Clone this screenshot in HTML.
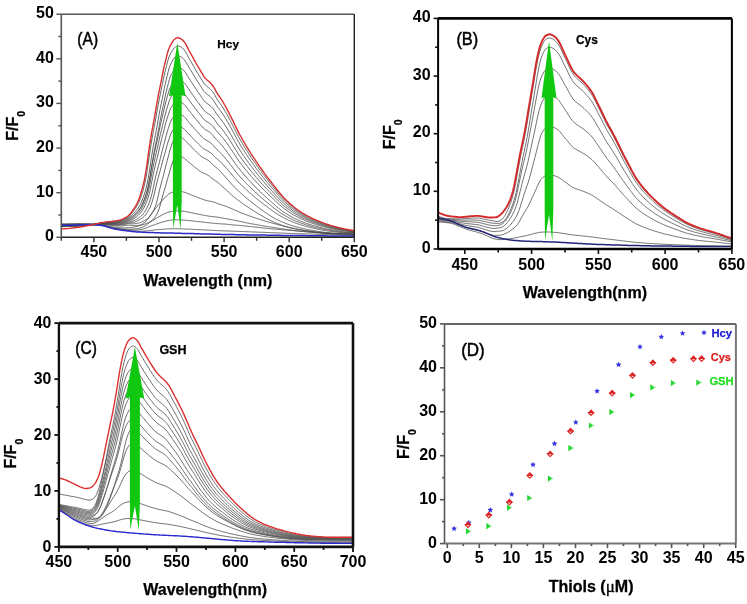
<!DOCTYPE html>
<html><head><meta charset="utf-8"><style>
html,body{margin:0;padding:0;background:#fff;width:747px;height:604px;overflow:hidden}
svg{display:block;filter:blur(0.3px)}
text{font-family:"Liberation Sans",sans-serif}
</style></head><body>
<svg width="747" height="604" viewBox="0 0 747 604" font-family="Liberation Sans, sans-serif">
<defs>
<clipPath id="clipA"><rect x="61.3" y="14.2" width="293.0" height="223.1"/></clipPath>
<clipPath id="clipB"><rect x="438.1" y="18.4" width="293.8" height="230.6"/></clipPath>
<clipPath id="clipC"><rect x="58.9" y="323.1" width="294.1" height="223.8"/></clipPath>
</defs>
<rect width="747" height="604" fill="#fff"/>
<g clip-path="url(#clipA)">
<path d="M61.3 224.0L62.3 224.0L63.3 224.0L64.3 224.0L65.3 224.0L66.3 224.0L67.3 223.9L68.3 223.9L69.3 223.9L70.3 223.9L71.3 223.9L72.3 223.9L73.3 223.9L74.3 223.9L75.3 223.9L76.3 223.8L77.3 223.8L78.3 223.8L79.3 223.8L80.3 223.9L81.3 223.9L82.3 223.9L83.3 223.9L84.3 223.9L85.3 223.9L86.3 224.0L87.3 224.0L88.3 224.0L89.3 224.1L90.3 224.1L91.3 224.2L92.3 224.3L93.3 224.2L94.3 224.1L95.3 223.9L96.3 223.7L97.3 223.6L98.3 223.4L99.3 223.2L100.3 223.0L101.3 222.8L102.3 222.7L103.3 222.5L104.3 222.4L105.3 222.3L106.3 222.2L107.3 222.1L108.3 222.0L109.3 221.9L110.3 221.8L111.3 221.7L112.3 221.6L113.3 221.5L114.3 221.4L115.3 221.3L116.3 221.2L117.3 221.0L118.3 220.8L119.3 220.6L120.3 220.4L121.3 220.0L122.3 219.7L123.3 219.2L124.3 218.8L125.3 218.3L126.3 217.7L127.3 217.1L128.3 216.4L129.3 215.6L130.3 214.8L131.3 213.8L132.3 212.6L133.3 211.3L134.3 209.9L135.3 208.5L136.3 207.0L137.3 205.4L138.3 203.5L139.3 201.3L140.3 198.7L141.3 195.8L142.3 192.8L143.3 189.4L144.3 185.5L145.3 181.1L146.3 175.8L147.3 169.7L148.3 163.0L149.3 155.7L150.3 149.1L151.3 142.9L152.3 137.1L153.3 131.7L154.3 126.5L155.3 121.2L156.3 115.6L157.3 109.8L158.3 104.3L159.3 99.2L160.3 94.4L161.3 89.5L162.3 84.6L163.3 79.6L164.3 74.8L165.3 70.6L166.3 66.8L167.3 62.8L168.3 59.1L169.3 56.3L170.3 54.1L171.3 52.3L172.3 50.5L173.3 49.0L174.3 47.9L175.3 47.0L176.3 46.3L177.3 46.0L178.3 46.1L179.3 46.4L180.3 46.7L181.3 47.2L182.3 47.9L183.3 48.9L184.3 50.1L185.3 51.5L186.3 53.2L187.3 55.1L188.3 57.0L189.3 58.7L190.3 60.5L191.3 62.2L192.3 63.9L193.3 65.7L194.3 67.4L195.3 69.2L196.3 70.9L197.3 72.5L198.3 74.2L199.3 75.7L200.3 77.3L201.3 79.0L202.3 80.7L203.3 82.4L204.3 83.8L205.3 85.0L206.3 85.9L207.3 86.7L208.3 87.5L209.3 88.3L210.3 89.2L211.3 90.2L212.3 91.4L213.3 92.7L214.3 94.3L215.3 96.0L216.3 97.8L217.3 99.4L218.3 100.9L219.3 102.3L220.3 103.7L221.3 105.1L222.3 106.6L223.3 108.1L224.3 109.8L225.3 111.5L226.3 113.3L227.3 115.1L228.3 116.9L229.3 118.7L230.3 120.6L231.3 122.6L232.3 124.5L233.3 126.4L234.3 128.4L235.3 130.4L236.3 132.4L237.3 134.4L238.3 136.3L239.3 138.1L240.3 139.9L241.3 141.6L242.3 143.3L243.3 145.0L244.3 146.6L245.3 148.2L246.3 149.8L247.3 151.4L248.3 153.0L249.3 154.5L250.3 156.0L251.3 157.5L252.3 159.0L253.3 160.5L254.3 161.9L255.3 163.4L256.3 164.8L257.3 166.2L258.3 167.6L259.3 169.0L260.3 170.4L261.3 171.7L262.3 173.1L263.3 174.4L264.3 175.7L265.3 177.0L266.3 178.3L267.3 179.5L268.3 180.8L269.3 182.1L270.3 183.3L271.3 184.5L272.3 185.8L273.3 187.0L274.3 188.2L275.3 189.5L276.3 190.7L277.3 191.9L278.3 193.1L279.3 194.3L280.3 195.4L281.3 196.6L282.3 197.7L283.3 198.7L284.3 199.8L285.3 200.8L286.3 201.7L287.3 202.6L288.3 203.5L289.3 204.4L290.3 205.2L291.3 206.1L292.3 206.9L293.3 207.7L294.3 208.5L295.3 209.2L296.3 210.0L297.3 210.7L298.3 211.4L299.3 212.1L300.3 212.7L301.3 213.3L302.3 213.9L303.3 214.5L304.3 215.1L305.3 215.6L306.3 216.2L307.3 216.7L308.3 217.2L309.3 217.7L310.3 218.2L311.3 218.6L312.3 219.1L313.3 219.5L314.3 220.0L315.3 220.4L316.3 220.8L317.3 221.2L318.3 221.6L319.3 222.0L320.3 222.4L321.3 222.7L322.3 223.1L323.3 223.5L324.3 223.8L325.3 224.2L326.3 224.5L327.3 224.8L328.3 225.2L329.3 225.5L330.3 225.8L331.3 226.1L332.3 226.3L333.3 226.6L334.3 226.9L335.3 227.1L336.3 227.4L337.3 227.6L338.3 227.8L339.3 228.1L340.3 228.3L341.3 228.5L342.3 228.7L343.3 229.0L344.3 229.2L345.3 229.4L346.3 229.6L347.3 229.7L348.3 229.9L349.3 230.1L350.3 230.3L351.3 230.4L352.3 230.6L353.3 230.7L354.3 230.8" fill="none" stroke="#4c4c4c" stroke-width="0.85"/>
<path d="M61.3 224.2L62.3 224.2L63.3 224.2L64.3 224.2L65.3 224.2L66.3 224.2L67.3 224.1L68.3 224.1L69.3 224.1L70.3 224.1L71.3 224.1L72.3 224.1L73.3 224.1L74.3 224.1L75.3 224.0L76.3 224.0L77.3 224.0L78.3 224.0L79.3 224.0L80.3 224.0L81.3 224.0L82.3 224.0L83.3 224.0L84.3 224.1L85.3 224.1L86.3 224.1L87.3 224.1L88.3 224.1L89.3 224.2L90.3 224.2L91.3 224.3L92.3 224.3L93.3 224.3L94.3 224.1L95.3 224.0L96.3 223.8L97.3 223.6L98.3 223.5L99.3 223.3L100.3 223.1L101.3 223.0L102.3 222.8L103.3 222.7L104.3 222.6L105.3 222.5L106.3 222.4L107.3 222.3L108.3 222.3L109.3 222.2L110.3 222.1L111.3 222.1L112.3 222.0L113.3 221.9L114.3 221.8L115.3 221.7L116.3 221.6L117.3 221.4L118.3 221.3L119.3 221.1L120.3 220.9L121.3 220.6L122.3 220.2L123.3 219.8L124.3 219.4L125.3 218.9L126.3 218.4L127.3 217.8L128.3 217.2L129.3 216.8L130.3 216.2L131.3 215.6L132.3 214.8L133.3 213.8L134.3 212.8L135.3 211.6L136.3 210.4L137.3 209.2L138.3 207.8L139.3 206.3L140.3 204.5L141.3 202.3L142.3 199.9L143.3 197.2L144.3 194.3L145.3 191.1L146.3 187.4L147.3 183.0L148.3 177.9L149.3 172.0L150.3 165.3L151.3 158.4L152.3 152.1L153.3 146.2L154.3 140.6L155.3 135.4L156.3 130.3L157.3 124.9L158.3 119.2L159.3 113.5L160.3 108.3L161.3 103.3L162.3 98.5L163.3 93.5L164.3 88.5L165.3 83.6L166.3 79.3L167.3 75.3L168.3 71.2L169.3 67.5L170.3 64.9L171.3 62.8L172.3 61.0L173.3 59.3L174.3 57.9L175.3 57.0L176.3 56.2L177.3 55.8L178.3 55.9L179.3 56.2L180.3 56.5L181.3 57.0L182.3 57.7L183.3 58.6L184.3 59.8L185.3 61.1L186.3 62.7L187.3 64.5L188.3 66.2L189.3 67.9L190.3 69.5L191.3 71.2L192.3 72.8L193.3 74.5L194.3 76.2L195.3 77.8L196.3 79.4L197.3 81.0L198.3 82.5L199.3 84.0L200.3 85.6L201.3 87.2L202.3 88.8L203.3 90.3L204.3 91.7L205.3 92.8L206.3 93.7L207.3 94.4L208.3 95.2L209.3 95.9L210.3 96.8L211.3 97.8L212.3 98.9L213.3 100.1L214.3 101.6L215.3 103.3L216.3 105.0L217.3 106.5L218.3 107.9L219.3 109.2L220.3 110.5L221.3 111.9L222.3 113.3L223.3 114.8L224.3 116.3L225.3 118.0L226.3 119.6L227.3 121.3L228.3 123.0L229.3 124.8L230.3 126.6L231.3 128.4L232.3 130.3L233.3 132.1L234.3 134.0L235.3 135.9L236.3 137.8L237.3 139.6L238.3 141.5L239.3 143.2L240.3 144.9L241.3 146.5L242.3 148.1L243.3 149.7L244.3 151.2L245.3 152.8L246.3 154.3L247.3 155.8L248.3 157.3L249.3 158.7L250.3 160.2L251.3 161.6L252.3 163.0L253.3 164.4L254.3 165.8L255.3 167.1L256.3 168.5L257.3 169.8L258.3 171.2L259.3 172.5L260.3 173.8L261.3 175.1L262.3 176.3L263.3 177.6L264.3 178.8L265.3 180.0L266.3 181.3L267.3 182.5L268.3 183.7L269.3 184.8L270.3 186.0L271.3 187.2L272.3 188.4L273.3 189.5L274.3 190.7L275.3 191.9L276.3 193.0L277.3 194.2L278.3 195.3L279.3 196.4L280.3 197.5L281.3 198.6L282.3 199.6L283.3 200.7L284.3 201.6L285.3 202.6L286.3 203.5L287.3 204.3L288.3 205.2L289.3 206.0L290.3 206.8L291.3 207.6L292.3 208.4L293.3 209.2L294.3 209.9L295.3 210.6L296.3 211.3L297.3 212.0L298.3 212.6L299.3 213.3L300.3 213.9L301.3 214.5L302.3 215.1L303.3 215.6L304.3 216.1L305.3 216.7L306.3 217.2L307.3 217.7L308.3 218.2L309.3 218.6L310.3 219.1L311.3 219.5L312.3 220.0L313.3 220.4L314.3 220.8L315.3 221.2L316.3 221.6L317.3 222.0L318.3 222.3L319.3 222.7L320.3 223.1L321.3 223.4L322.3 223.8L323.3 224.1L324.3 224.5L325.3 224.8L326.3 225.1L327.3 225.4L328.3 225.7L329.3 226.0L330.3 226.3L331.3 226.6L332.3 226.8L333.3 227.1L334.3 227.3L335.3 227.6L336.3 227.8L337.3 228.0L338.3 228.3L339.3 228.5L340.3 228.7L341.3 228.9L342.3 229.1L343.3 229.3L344.3 229.5L345.3 229.7L346.3 229.9L347.3 230.1L348.3 230.2L349.3 230.4L350.3 230.6L351.3 230.7L352.3 230.8L353.3 231.0L354.3 231.1" fill="none" stroke="#4c4c4c" stroke-width="0.85"/>
<path d="M61.3 224.4L62.3 224.4L63.3 224.4L64.3 224.4L65.3 224.4L66.3 224.4L67.3 224.3L68.3 224.3L69.3 224.3L70.3 224.3L71.3 224.3L72.3 224.3L73.3 224.3L74.3 224.2L75.3 224.2L76.3 224.2L77.3 224.2L78.3 224.2L79.3 224.2L80.3 224.2L81.3 224.2L82.3 224.2L83.3 224.2L84.3 224.2L85.3 224.2L86.3 224.2L87.3 224.2L88.3 224.2L89.3 224.3L90.3 224.3L91.3 224.3L92.3 224.4L93.3 224.3L94.3 224.2L95.3 224.0L96.3 223.9L97.3 223.7L98.3 223.6L99.3 223.4L100.3 223.3L101.3 223.1L102.3 223.0L103.3 222.9L104.3 222.8L105.3 222.7L106.3 222.7L107.3 222.6L108.3 222.6L109.3 222.6L110.3 222.5L111.3 222.5L112.3 222.4L113.3 222.4L114.3 222.3L115.3 222.2L116.3 222.1L117.3 222.0L118.3 221.8L119.3 221.7L120.3 221.5L121.3 221.2L122.3 220.9L123.3 220.5L124.3 220.1L125.3 219.7L126.3 219.2L127.3 218.7L128.3 218.2L129.3 217.9L130.3 217.4L131.3 216.9L132.3 216.3L133.3 215.6L134.3 214.7L135.3 213.8L136.3 212.7L137.3 211.6L138.3 210.5L139.3 209.2L140.3 207.8L141.3 206.1L142.3 204.1L143.3 201.8L144.3 199.3L145.3 196.6L146.3 193.6L147.3 190.1L148.3 185.9L149.3 181.0L150.3 175.4L151.3 169.1L152.3 162.6L153.3 156.7L154.3 151.1L155.3 145.8L156.3 140.9L157.3 136.0L158.3 130.8L159.3 125.3L160.3 119.9L161.3 115.0L162.3 110.3L163.3 105.6L164.3 100.7L165.3 95.8L166.3 91.3L167.3 87.4L168.3 83.5L169.3 79.7L170.3 76.7L171.3 74.5L172.3 72.7L173.3 71.0L174.3 69.6L175.3 68.6L176.3 67.9L177.3 67.5L178.3 67.5L179.3 67.8L180.3 68.1L181.3 68.5L182.3 69.2L183.3 70.1L184.3 71.1L185.3 72.3L186.3 73.9L187.3 75.5L188.3 77.2L189.3 78.7L190.3 80.3L191.3 81.8L192.3 83.4L193.3 84.9L194.3 86.5L195.3 88.0L196.3 89.5L197.3 91.0L198.3 92.4L199.3 93.9L200.3 95.3L201.3 96.8L202.3 98.3L203.3 99.7L204.3 101.0L205.3 102.0L206.3 102.9L207.3 103.6L208.3 104.3L209.3 105.0L210.3 105.8L211.3 106.7L212.3 107.7L213.3 108.9L214.3 110.3L215.3 111.9L216.3 113.5L217.3 114.9L218.3 116.2L219.3 117.4L220.3 118.6L221.3 119.9L222.3 121.2L223.3 122.6L224.3 124.1L225.3 125.6L226.3 127.1L227.3 128.7L228.3 130.3L229.3 132.0L230.3 133.7L231.3 135.4L232.3 137.1L233.3 138.8L234.3 140.6L235.3 142.4L236.3 144.1L237.3 145.9L238.3 147.6L239.3 149.2L240.3 150.7L241.3 152.3L242.3 153.8L243.3 155.3L244.3 156.7L245.3 158.2L246.3 159.6L247.3 161.0L248.3 162.3L249.3 163.7L250.3 165.1L251.3 166.4L252.3 167.7L253.3 169.0L254.3 170.3L255.3 171.6L256.3 172.9L257.3 174.1L258.3 175.3L259.3 176.6L260.3 177.8L261.3 179.0L262.3 180.2L263.3 181.3L264.3 182.5L265.3 183.7L266.3 184.8L267.3 185.9L268.3 187.0L269.3 188.1L270.3 189.2L271.3 190.3L272.3 191.4L273.3 192.5L274.3 193.6L275.3 194.7L276.3 195.8L277.3 196.9L278.3 197.9L279.3 199.0L280.3 200.0L281.3 201.0L282.3 202.0L283.3 202.9L284.3 203.8L285.3 204.7L286.3 205.6L287.3 206.4L288.3 207.2L289.3 207.9L290.3 208.7L291.3 209.4L292.3 210.2L293.3 210.9L294.3 211.6L295.3 212.2L296.3 212.9L297.3 213.5L298.3 214.2L299.3 214.7L300.3 215.3L301.3 215.9L302.3 216.4L303.3 216.9L304.3 217.4L305.3 217.9L306.3 218.4L307.3 218.9L308.3 219.3L309.3 219.7L310.3 220.2L311.3 220.6L312.3 221.0L313.3 221.4L314.3 221.8L315.3 222.1L316.3 222.5L317.3 222.9L318.3 223.2L319.3 223.6L320.3 223.9L321.3 224.2L322.3 224.6L323.3 224.9L324.3 225.2L325.3 225.5L326.3 225.8L327.3 226.1L328.3 226.4L329.3 226.7L330.3 226.9L331.3 227.2L332.3 227.4L333.3 227.7L334.3 227.9L335.3 228.1L336.3 228.3L337.3 228.6L338.3 228.8L339.3 229.0L340.3 229.2L341.3 229.4L342.3 229.6L343.3 229.8L344.3 229.9L345.3 230.1L346.3 230.3L347.3 230.5L348.3 230.6L349.3 230.8L350.3 230.9L351.3 231.1L352.3 231.2L353.3 231.3L354.3 231.4" fill="none" stroke="#4c4c4c" stroke-width="0.85"/>
<path d="M61.3 224.6L62.3 224.6L63.3 224.6L64.3 224.6L65.3 224.6L66.3 224.6L67.3 224.5L68.3 224.5L69.3 224.5L70.3 224.5L71.3 224.5L72.3 224.5L73.3 224.5L74.3 224.4L75.3 224.4L76.3 224.4L77.3 224.4L78.3 224.4L79.3 224.4L80.3 224.4L81.3 224.4L82.3 224.4L83.3 224.4L84.3 224.3L85.3 224.3L86.3 224.3L87.3 224.3L88.3 224.3L89.3 224.3L90.3 224.4L91.3 224.4L92.3 224.4L93.3 224.4L94.3 224.3L95.3 224.1L96.3 224.0L97.3 223.8L98.3 223.7L99.3 223.6L100.3 223.4L101.3 223.3L102.3 223.2L103.3 223.1L104.3 223.1L105.3 223.0L106.3 223.0L107.3 222.9L108.3 222.9L109.3 222.9L110.3 222.9L111.3 222.9L112.3 222.9L113.3 222.8L114.3 222.8L115.3 222.7L116.3 222.6L117.3 222.5L118.3 222.4L119.3 222.3L120.3 222.1L121.3 221.8L122.3 221.6L123.3 221.2L124.3 220.9L125.3 220.5L126.3 220.1L127.3 219.6L128.3 219.1L129.3 218.7L130.3 218.3L131.3 217.7L132.3 217.1L133.3 216.3L134.3 215.4L135.3 214.5L136.3 213.4L137.3 212.4L138.3 211.2L139.3 209.9L140.3 208.4L141.3 206.6L142.3 204.6L143.3 202.3L144.3 199.8L145.3 197.0L146.3 193.9L147.3 190.3L148.3 185.9L149.3 180.9L150.3 175.2L151.3 169.2L152.3 163.6L153.3 158.5L154.3 153.6L155.3 149.0L156.3 144.6L157.3 140.0L158.3 135.0L159.3 130.1L160.3 125.4L161.3 121.1L162.3 116.9L163.3 112.6L164.3 108.2L165.3 103.9L166.3 100.1L167.3 96.7L168.3 93.1L169.3 89.8L170.3 87.5L171.3 85.6L172.3 84.0L173.3 82.5L174.3 81.4L175.3 80.5L176.3 79.9L177.3 79.5L178.3 79.6L179.3 79.8L180.3 80.1L181.3 80.5L182.3 81.1L183.3 82.0L184.3 82.9L185.3 84.1L186.3 85.5L187.3 87.0L188.3 88.6L189.3 90.0L190.3 91.4L191.3 92.9L192.3 94.3L193.3 95.7L194.3 97.2L195.3 98.6L196.3 100.0L197.3 101.4L198.3 102.7L199.3 104.0L200.3 105.4L201.3 106.7L202.3 108.1L203.3 109.5L204.3 110.7L205.3 111.6L206.3 112.4L207.3 113.1L208.3 113.7L209.3 114.4L210.3 115.2L211.3 116.0L212.3 116.9L213.3 118.0L214.3 119.3L215.3 120.8L216.3 122.2L217.3 123.6L218.3 124.8L219.3 125.9L220.3 127.1L221.3 128.2L222.3 129.4L223.3 130.7L224.3 132.1L225.3 133.5L226.3 135.0L227.3 136.4L228.3 137.9L229.3 139.5L230.3 141.0L231.3 142.6L232.3 144.2L233.3 145.8L234.3 147.4L235.3 149.1L236.3 150.7L237.3 152.3L238.3 153.9L239.3 155.4L240.3 156.9L241.3 158.3L242.3 159.7L243.3 161.0L244.3 162.4L245.3 163.7L246.3 165.0L247.3 166.3L248.3 167.6L249.3 168.9L250.3 170.1L251.3 171.4L252.3 172.6L253.3 173.8L254.3 175.0L255.3 176.2L256.3 177.4L257.3 178.5L258.3 179.7L259.3 180.8L260.3 182.0L261.3 183.1L262.3 184.2L263.3 185.3L264.3 186.3L265.3 187.4L266.3 188.5L267.3 189.5L268.3 190.5L269.3 191.6L270.3 192.6L271.3 193.6L272.3 194.6L273.3 195.6L274.3 196.6L275.3 197.7L276.3 198.7L277.3 199.7L278.3 200.7L279.3 201.6L280.3 202.6L281.3 203.5L282.3 204.4L283.3 205.3L284.3 206.1L285.3 207.0L286.3 207.7L287.3 208.5L288.3 209.2L289.3 209.9L290.3 210.7L291.3 211.3L292.3 212.0L293.3 212.7L294.3 213.3L295.3 213.9L296.3 214.5L297.3 215.1L298.3 215.7L299.3 216.3L300.3 216.8L301.3 217.3L302.3 217.8L303.3 218.3L304.3 218.8L305.3 219.2L306.3 219.6L307.3 220.1L308.3 220.5L309.3 220.9L310.3 221.3L311.3 221.7L312.3 222.1L313.3 222.4L314.3 222.8L315.3 223.1L316.3 223.5L317.3 223.8L318.3 224.1L319.3 224.5L320.3 224.8L321.3 225.1L322.3 225.4L323.3 225.7L324.3 226.0L325.3 226.3L326.3 226.5L327.3 226.8L328.3 227.1L329.3 227.3L330.3 227.6L331.3 227.8L332.3 228.1L333.3 228.3L334.3 228.5L335.3 228.7L336.3 228.9L337.3 229.1L338.3 229.3L339.3 229.5L340.3 229.7L341.3 229.9L342.3 230.0L343.3 230.2L344.3 230.4L345.3 230.5L346.3 230.7L347.3 230.9L348.3 231.0L349.3 231.1L350.3 231.3L351.3 231.4L352.3 231.5L353.3 231.6L354.3 231.8" fill="none" stroke="#4c4c4c" stroke-width="0.85"/>
<path d="M61.3 224.8L62.3 224.8L63.3 224.8L64.3 224.8L65.3 224.8L66.3 224.8L67.3 224.7L68.3 224.7L69.3 224.7L70.3 224.7L71.3 224.7L72.3 224.7L73.3 224.7L74.3 224.6L75.3 224.6L76.3 224.6L77.3 224.6L78.3 224.6L79.3 224.6L80.3 224.6L81.3 224.5L82.3 224.5L83.3 224.5L84.3 224.5L85.3 224.5L86.3 224.5L87.3 224.4L88.3 224.4L89.3 224.4L90.3 224.4L91.3 224.5L92.3 224.5L93.3 224.4L94.3 224.3L95.3 224.2L96.3 224.1L97.3 223.9L98.3 223.8L99.3 223.7L100.3 223.6L101.3 223.5L102.3 223.4L103.3 223.3L104.3 223.3L105.3 223.2L106.3 223.2L107.3 223.2L108.3 223.2L109.3 223.2L110.3 223.3L111.3 223.3L112.3 223.3L113.3 223.2L114.3 223.2L115.3 223.2L116.3 223.1L117.3 223.0L118.3 222.9L119.3 222.8L120.3 222.6L121.3 222.4L122.3 222.2L123.3 221.9L124.3 221.6L125.3 221.2L126.3 220.8L127.3 220.4L128.3 220.0L129.3 219.7L130.3 219.3L131.3 218.9L132.3 218.3L133.3 217.7L134.3 216.9L135.3 216.1L136.3 215.2L137.3 214.2L138.3 213.2L139.3 212.1L140.3 210.8L141.3 209.3L142.3 207.5L143.3 205.5L144.3 203.3L145.3 200.9L146.3 198.1L147.3 195.0L148.3 191.3L149.3 186.9L150.3 181.9L151.3 176.3L152.3 170.9L153.3 165.9L154.3 161.2L155.3 156.8L156.3 152.7L157.3 148.4L158.3 143.9L159.3 139.2L160.3 134.7L161.3 130.6L162.3 126.6L163.3 122.6L164.3 118.4L165.3 114.3L166.3 110.6L167.3 107.3L168.3 104.0L169.3 100.8L170.3 98.4L171.3 96.6L172.3 95.0L173.3 93.6L174.3 92.5L175.3 91.6L176.3 91.0L177.3 90.7L178.3 90.8L179.3 91.0L180.3 91.3L181.3 91.6L182.3 92.2L183.3 93.0L184.3 93.9L185.3 95.0L186.3 96.3L187.3 97.7L188.3 99.2L189.3 100.5L190.3 101.9L191.3 103.2L192.3 104.5L193.3 105.9L194.3 107.2L195.3 108.5L196.3 109.9L197.3 111.1L198.3 112.4L199.3 113.6L200.3 114.8L201.3 116.1L202.3 117.4L203.3 118.7L204.3 119.7L205.3 120.6L206.3 121.3L207.3 121.9L208.3 122.5L209.3 123.2L210.3 123.9L211.3 124.7L212.3 125.6L213.3 126.6L214.3 127.9L215.3 129.3L216.3 130.6L217.3 131.8L218.3 132.9L219.3 134.0L220.3 135.1L221.3 136.2L222.3 137.3L223.3 138.6L224.3 139.8L225.3 141.2L226.3 142.5L227.3 143.9L228.3 145.3L229.3 146.7L230.3 148.2L231.3 149.7L232.3 151.2L233.3 152.7L234.3 154.2L235.3 155.7L236.3 157.3L237.3 158.7L238.3 160.2L239.3 161.6L240.3 162.9L241.3 164.2L242.3 165.5L243.3 166.8L244.3 168.1L245.3 169.3L246.3 170.5L247.3 171.7L248.3 172.9L249.3 174.1L250.3 175.3L251.3 176.4L252.3 177.5L253.3 178.7L254.3 179.8L255.3 180.9L256.3 182.0L257.3 183.1L258.3 184.1L259.3 185.2L260.3 186.2L261.3 187.3L262.3 188.3L263.3 189.3L264.3 190.3L265.3 191.3L266.3 192.3L267.3 193.2L268.3 194.2L269.3 195.2L270.3 196.1L271.3 197.1L272.3 198.0L273.3 199.0L274.3 199.9L275.3 200.8L276.3 201.8L277.3 202.7L278.3 203.6L279.3 204.5L280.3 205.4L281.3 206.3L282.3 207.1L283.3 207.9L284.3 208.7L285.3 209.4L286.3 210.1L287.3 210.8L288.3 211.5L289.3 212.2L290.3 212.8L291.3 213.4L292.3 214.1L293.3 214.7L294.3 215.3L295.3 215.8L296.3 216.4L297.3 216.9L298.3 217.5L299.3 218.0L300.3 218.4L301.3 218.9L302.3 219.4L303.3 219.8L304.3 220.2L305.3 220.7L306.3 221.1L307.3 221.5L308.3 221.8L309.3 222.2L310.3 222.6L311.3 222.9L312.3 223.3L313.3 223.6L314.3 223.9L315.3 224.3L316.3 224.6L317.3 224.9L318.3 225.2L319.3 225.5L320.3 225.8L321.3 226.1L322.3 226.3L323.3 226.6L324.3 226.9L325.3 227.1L326.3 227.4L327.3 227.7L328.3 227.9L329.3 228.1L330.3 228.4L331.3 228.6L332.3 228.8L333.3 229.0L334.3 229.2L335.3 229.4L336.3 229.5L337.3 229.7L338.3 229.9L339.3 230.1L340.3 230.3L341.3 230.4L342.3 230.6L343.3 230.8L344.3 230.9L345.3 231.1L346.3 231.2L347.3 231.3L348.3 231.5L349.3 231.6L350.3 231.7L351.3 231.8L352.3 231.9L353.3 232.0L354.3 232.1" fill="none" stroke="#4c4c4c" stroke-width="0.85"/>
<path d="M61.3 225.0L62.3 225.0L63.3 225.0L64.3 225.0L65.3 225.0L66.3 225.0L67.3 224.9L68.3 224.9L69.3 224.9L70.3 224.9L71.3 224.9L72.3 224.9L73.3 224.8L74.3 224.8L75.3 224.8L76.3 224.8L77.3 224.8L78.3 224.8L79.3 224.7L80.3 224.7L81.3 224.7L82.3 224.7L83.3 224.7L84.3 224.6L85.3 224.6L86.3 224.6L87.3 224.5L88.3 224.5L89.3 224.5L90.3 224.5L91.3 224.5L92.3 224.5L93.3 224.5L94.3 224.4L95.3 224.2L96.3 224.1L97.3 224.0L98.3 223.9L99.3 223.8L100.3 223.7L101.3 223.6L102.3 223.6L103.3 223.5L104.3 223.5L105.3 223.5L106.3 223.5L107.3 223.5L108.3 223.5L109.3 223.6L110.3 223.6L111.3 223.6L112.3 223.6L113.3 223.6L114.3 223.6L115.3 223.6L116.3 223.6L117.3 223.5L118.3 223.4L119.3 223.3L120.3 223.2L121.3 223.0L122.3 222.8L123.3 222.5L124.3 222.3L125.3 221.9L126.3 221.6L127.3 221.2L128.3 220.8L129.3 220.6L130.3 220.3L131.3 220.0L132.3 219.6L133.3 219.1L134.3 218.5L135.3 217.7L136.3 217.0L137.3 216.1L138.3 215.3L139.3 214.3L140.3 213.3L141.3 212.0L142.3 210.6L143.3 208.9L144.3 207.0L145.3 204.9L146.3 202.7L147.3 200.1L148.3 197.1L149.3 193.4L150.3 189.2L151.3 184.4L152.3 179.1L153.3 174.1L154.3 169.6L155.3 165.3L156.3 161.2L157.3 157.3L158.3 153.2L159.3 148.9L160.3 144.5L161.3 140.4L162.3 136.5L163.3 132.8L164.3 128.9L165.3 124.9L166.3 121.2L167.3 117.9L168.3 114.8L169.3 111.6L170.3 109.1L171.3 107.3L172.3 105.7L173.3 104.3L174.3 103.2L175.3 102.4L176.3 101.7L177.3 101.4L178.3 101.5L179.3 101.7L180.3 102.0L181.3 102.3L182.3 102.9L183.3 103.7L184.3 104.6L185.3 105.6L186.3 106.9L187.3 108.3L188.3 109.6L189.3 110.9L190.3 112.2L191.3 113.4L192.3 114.7L193.3 116.0L194.3 117.2L195.3 118.5L196.3 119.7L197.3 120.9L198.3 122.1L199.3 123.2L200.3 124.5L201.3 125.7L202.3 126.9L203.3 128.0L204.3 128.9L205.3 129.6L206.3 130.2L207.3 130.8L208.3 131.4L209.3 132.0L210.3 132.8L211.3 133.6L212.3 134.6L213.3 135.7L214.3 137.0L215.3 138.3L216.3 139.5L217.3 140.5L218.3 141.6L219.3 142.6L220.3 143.6L221.3 144.7L222.3 145.9L223.3 147.1L224.3 148.4L225.3 149.7L226.3 151.0L227.3 152.3L228.3 153.7L229.3 155.1L230.3 156.5L231.3 157.9L232.3 159.3L233.3 160.8L234.3 162.2L235.3 163.7L236.3 165.1L237.3 166.4L238.3 167.7L239.3 169.0L240.3 170.2L241.3 171.4L242.3 172.6L243.3 173.8L244.3 175.0L245.3 176.1L246.3 177.2L247.3 178.4L248.3 179.5L249.3 180.6L250.3 181.6L251.3 182.7L252.3 183.8L253.3 184.8L254.3 185.9L255.3 186.9L256.3 187.9L257.3 188.9L258.3 189.9L259.3 190.9L260.3 191.8L261.3 192.8L262.3 193.7L263.3 194.7L264.3 195.6L265.3 196.5L266.3 197.4L267.3 198.4L268.3 199.2L269.3 200.1L270.3 201.0L271.3 201.9L272.3 202.8L273.3 203.7L274.3 204.6L275.3 205.5L276.3 206.4L277.3 207.2L278.3 208.0L279.3 208.8L280.3 209.6L281.3 210.3L282.3 211.1L283.3 211.8L284.3 212.4L285.3 213.1L286.3 213.7L287.3 214.3L288.3 214.9L289.3 215.5L290.3 216.1L291.3 216.7L292.3 217.2L293.3 217.7L294.3 218.3L295.3 218.8L296.3 219.2L297.3 219.7L298.3 220.1L299.3 220.6L300.3 221.0L301.3 221.4L302.3 221.8L303.3 222.2L304.3 222.5L305.3 222.9L306.3 223.3L307.3 223.6L308.3 223.9L309.3 224.3L310.3 224.6L311.3 224.9L312.3 225.2L313.3 225.5L314.3 225.8L315.3 226.1L316.3 226.3L317.3 226.6L318.3 226.9L319.3 227.2L320.3 227.4L321.3 227.7L322.3 227.9L323.3 228.2L324.3 228.4L325.3 228.6L326.3 228.8L327.3 229.0L328.3 229.2L329.3 229.4L330.3 229.6L331.3 229.8L332.3 230.0L333.3 230.1L334.3 230.3L335.3 230.5L336.3 230.7L337.3 230.8L338.3 231.0L339.3 231.1L340.3 231.3L341.3 231.4L342.3 231.6L343.3 231.7L344.3 231.8L345.3 231.9L346.3 232.1L347.3 232.2L348.3 232.3L349.3 232.3L350.3 232.3L351.3 232.3L352.3 232.4L353.3 232.4L354.3 232.4" fill="none" stroke="#4c4c4c" stroke-width="0.85"/>
<path d="M61.3 225.2L62.3 225.2L63.3 225.2L64.3 225.2L65.3 225.2L66.3 225.2L67.3 225.1L68.3 225.1L69.3 225.1L70.3 225.1L71.3 225.1L72.3 225.1L73.3 225.0L74.3 225.0L75.3 225.0L76.3 225.0L77.3 225.0L78.3 224.9L79.3 224.9L80.3 224.9L81.3 224.9L82.3 224.8L83.3 224.8L84.3 224.8L85.3 224.7L86.3 224.7L87.3 224.7L88.3 224.6L89.3 224.6L90.3 224.6L91.3 224.6L92.3 224.6L93.3 224.5L94.3 224.4L95.3 224.3L96.3 224.2L97.3 224.1L98.3 224.0L99.3 224.0L100.3 223.9L101.3 223.8L102.3 223.8L103.3 223.7L104.3 223.7L105.3 223.7L106.3 223.8L107.3 223.8L108.3 223.9L109.3 223.9L110.3 224.0L111.3 224.1L112.3 224.1L113.3 224.1L114.3 224.1L115.3 224.1L116.3 224.1L117.3 224.1L118.3 224.0L119.3 223.9L120.3 223.8L121.3 223.7L122.3 223.5L123.3 223.3L124.3 223.0L125.3 222.8L126.3 222.5L127.3 222.1L128.3 221.8L129.3 221.8L130.3 221.6L131.3 221.4L132.3 221.2L133.3 220.9L134.3 220.5L135.3 220.0L136.3 219.5L137.3 218.9L138.3 218.2L139.3 217.5L140.3 216.7L141.3 215.9L142.3 214.9L143.3 213.8L144.3 212.4L145.3 210.9L146.3 209.1L147.3 207.2L148.3 205.1L149.3 202.7L150.3 199.8L151.3 196.3L152.3 192.3L153.3 187.7L154.3 182.8L155.3 178.3L156.3 174.1L157.3 170.1L158.3 166.4L159.3 162.6L160.3 158.5L161.3 154.3L162.3 150.3L163.3 146.5L164.3 142.9L165.3 139.1L166.3 135.2L167.3 131.6L168.3 128.4L169.3 125.4L170.3 122.4L171.3 120.1L172.3 118.5L173.3 117.1L174.3 115.8L175.3 114.9L176.3 114.3L177.3 113.9L178.3 114.0L179.3 114.2L180.3 114.5L181.3 114.8L182.3 115.3L183.3 116.0L184.3 116.9L185.3 117.8L186.3 119.0L187.3 120.3L188.3 121.5L189.3 122.7L190.3 123.8L191.3 125.0L192.3 126.1L193.3 127.3L194.3 128.5L195.3 129.6L196.3 130.7L197.3 131.8L198.3 132.9L199.3 134.0L200.3 135.1L201.3 136.2L202.3 137.3L203.3 138.3L204.3 139.0L205.3 139.6L206.3 140.2L207.3 140.7L208.3 141.3L209.3 141.9L210.3 142.6L211.3 143.4L212.3 144.4L213.3 145.5L214.3 146.7L215.3 147.8L216.3 148.8L217.3 149.8L218.3 150.7L219.3 151.6L220.3 152.6L221.3 153.6L222.3 154.7L223.3 155.9L224.3 157.0L225.3 158.2L226.3 159.4L227.3 160.7L228.3 162.0L229.3 163.2L230.3 164.5L231.3 165.8L232.3 167.1L233.3 168.5L234.3 169.8L235.3 171.1L236.3 172.4L237.3 173.6L238.3 174.7L239.3 175.9L240.3 177.0L241.3 178.1L242.3 179.2L243.3 180.3L244.3 181.3L245.3 182.4L246.3 183.4L247.3 184.4L248.3 185.4L249.3 186.4L250.3 187.4L251.3 188.3L252.3 189.3L253.3 190.3L254.3 191.2L255.3 192.1L256.3 193.1L257.3 194.0L258.3 194.9L259.3 195.8L260.3 196.6L261.3 197.5L262.3 198.4L263.3 199.2L264.3 200.1L265.3 200.9L266.3 201.7L267.3 202.5L268.3 203.4L269.3 204.2L270.3 205.0L271.3 205.8L272.3 206.7L273.3 207.5L274.3 208.3L275.3 209.1L276.3 209.8L277.3 210.6L278.3 211.3L279.3 212.0L280.3 212.7L281.3 213.4L282.3 214.0L283.3 214.6L284.3 215.2L285.3 215.8L286.3 216.3L287.3 216.9L288.3 217.4L289.3 218.0L290.3 218.5L291.3 219.0L292.3 219.5L293.3 219.9L294.3 220.4L295.3 220.8L296.3 221.3L297.3 221.7L298.3 222.0L299.3 222.4L300.3 222.8L301.3 223.2L302.3 223.5L303.3 223.8L304.3 224.2L305.3 224.5L306.3 224.8L307.3 225.1L308.3 225.4L309.3 225.7L310.3 226.0L311.3 226.3L312.3 226.5L313.3 226.8L314.3 227.1L315.3 227.3L316.3 227.6L317.3 227.8L318.3 228.1L319.3 228.3L320.3 228.5L321.3 228.7L322.3 229.0L323.3 229.2L324.3 229.4L325.3 229.6L326.3 229.8L327.3 229.9L328.3 230.1L329.3 230.3L330.3 230.4L331.3 230.6L332.3 230.8L333.3 230.9L334.3 231.1L335.3 231.2L336.3 231.4L337.3 231.5L338.3 231.6L339.3 231.8L340.3 231.9L341.3 232.0L342.3 232.2L343.3 232.3L344.3 232.4L345.3 232.5L346.3 232.6L347.3 232.7L348.3 232.7L349.3 232.7L350.3 232.7L351.3 232.7L352.3 232.7L353.3 232.7L354.3 232.7" fill="none" stroke="#4c4c4c" stroke-width="0.85"/>
<path d="M61.3 225.4L62.3 225.4L63.3 225.4L64.3 225.4L65.3 225.4L66.3 225.4L67.3 225.3L68.3 225.3L69.3 225.3L70.3 225.3L71.3 225.3L72.3 225.3L73.3 225.2L74.3 225.2L75.3 225.2L76.3 225.2L77.3 225.2L78.3 225.1L79.3 225.1L80.3 225.1L81.3 225.0L82.3 225.0L83.3 225.0L84.3 224.9L85.3 224.9L86.3 224.8L87.3 224.8L88.3 224.7L89.3 224.7L90.3 224.7L91.3 224.6L92.3 224.6L93.3 224.6L94.3 224.5L95.3 224.4L96.3 224.3L97.3 224.2L98.3 224.2L99.3 224.1L100.3 224.0L101.3 224.0L102.3 224.0L103.3 223.9L104.3 224.0L105.3 224.0L106.3 224.1L107.3 224.1L108.3 224.2L109.3 224.3L110.3 224.4L111.3 224.5L112.3 224.6L113.3 224.6L114.3 224.6L115.3 224.6L116.3 224.6L117.3 224.6L118.3 224.6L119.3 224.6L120.3 224.5L121.3 224.4L122.3 224.2L123.3 224.0L124.3 223.8L125.3 223.6L126.3 223.3L127.3 223.0L128.3 222.8L129.3 222.8L130.3 222.7L131.3 222.6L132.3 222.5L133.3 222.3L134.3 222.1L135.3 221.8L136.3 221.4L137.3 221.0L138.3 220.4L139.3 219.9L140.3 219.3L141.3 218.6L142.3 217.9L143.3 217.1L144.3 216.2L145.3 215.1L146.3 213.8L147.3 212.3L148.3 210.7L149.3 208.8L150.3 206.8L151.3 204.3L152.3 201.4L153.3 197.8L154.3 193.8L155.3 189.2L156.3 185.0L157.3 181.0L158.3 177.3L159.3 173.8L160.3 170.3L161.3 166.5L162.3 162.5L163.3 158.8L164.3 155.2L165.3 151.8L166.3 148.2L167.3 144.6L168.3 141.2L169.3 138.4L170.3 135.3L171.3 132.8L172.3 131.1L173.3 129.7L174.3 128.4L175.3 127.4L176.3 126.8L177.3 126.5L178.3 126.5L179.3 126.7L180.3 126.9L181.3 127.2L182.3 127.7L183.3 128.4L184.3 129.2L185.3 130.1L186.3 131.2L187.3 132.3L188.3 133.4L189.3 134.5L190.3 135.5L191.3 136.6L192.3 137.6L193.3 138.7L194.3 139.7L195.3 140.8L196.3 141.8L197.3 142.8L198.3 143.8L199.3 144.7L200.3 145.8L201.3 146.8L202.3 147.7L203.3 148.5L204.3 149.2L205.3 149.7L206.3 150.2L207.3 150.7L208.3 151.3L209.3 151.9L210.3 152.5L211.3 153.3L212.3 154.2L213.3 155.3L214.3 156.4L215.3 157.4L216.3 158.3L217.3 159.1L218.3 160.0L219.3 160.8L220.3 161.7L221.3 162.7L222.3 163.7L223.3 164.8L224.3 165.9L225.3 167.0L226.3 168.1L227.3 169.2L228.3 170.4L229.3 171.6L230.3 172.7L231.3 173.9L232.3 175.2L233.3 176.4L234.3 177.5L235.3 178.7L236.3 179.8L237.3 180.9L238.3 181.9L239.3 182.9L240.3 183.9L241.3 184.9L242.3 185.9L243.3 186.9L244.3 187.8L245.3 188.7L246.3 189.7L247.3 190.6L248.3 191.5L249.3 192.4L250.3 193.3L251.3 194.1L252.3 195.0L253.3 195.9L254.3 196.7L255.3 197.5L256.3 198.4L257.3 199.2L258.3 200.0L259.3 200.8L260.3 201.6L261.3 202.4L262.3 203.1L263.3 203.9L264.3 204.7L265.3 205.4L266.3 206.2L267.3 206.9L268.3 207.7L269.3 208.4L270.3 209.2L271.3 209.9L272.3 210.6L273.3 211.3L274.3 212.1L275.3 212.8L276.3 213.4L277.3 214.1L278.3 214.7L279.3 215.3L280.3 215.9L281.3 216.5L282.3 217.0L283.3 217.6L284.3 218.1L285.3 218.6L286.3 219.1L287.3 219.6L288.3 220.1L289.3 220.5L290.3 221.0L291.3 221.4L292.3 221.8L293.3 222.2L294.3 222.6L295.3 223.0L296.3 223.3L297.3 223.7L298.3 224.0L299.3 224.4L300.3 224.7L301.3 225.0L302.3 225.3L303.3 225.6L304.3 225.9L305.3 226.2L306.3 226.4L307.3 226.7L308.3 227.0L309.3 227.2L310.3 227.5L311.3 227.7L312.3 227.9L313.3 228.2L314.3 228.4L315.3 228.6L316.3 228.8L317.3 229.1L318.3 229.3L319.3 229.5L320.3 229.7L321.3 229.9L322.3 230.0L323.3 230.2L324.3 230.4L325.3 230.6L326.3 230.7L327.3 230.9L328.3 231.0L329.3 231.2L330.3 231.3L331.3 231.5L332.3 231.6L333.3 231.7L334.3 231.9L335.3 232.0L336.3 232.1L337.3 232.2L338.3 232.4L339.3 232.5L340.3 232.6L341.3 232.7L342.3 232.8L343.3 232.9L344.3 233.0L345.3 233.0L346.3 233.0L347.3 233.0L348.3 233.0L349.3 233.0L350.3 233.0L351.3 233.0L352.3 233.0L353.3 233.0L354.3 233.1" fill="none" stroke="#4c4c4c" stroke-width="0.85"/>
<path d="M61.3 225.6L62.3 225.6L63.3 225.6L64.3 225.6L65.3 225.6L66.3 225.6L67.3 225.5L68.3 225.5L69.3 225.5L70.3 225.5L71.3 225.5L72.3 225.5L73.3 225.4L74.3 225.4L75.3 225.4L76.3 225.4L77.3 225.3L78.3 225.3L79.3 225.3L80.3 225.3L81.3 225.2L82.3 225.2L83.3 225.1L84.3 225.1L85.3 225.0L86.3 224.9L87.3 224.9L88.3 224.8L89.3 224.8L90.3 224.7L91.3 224.7L92.3 224.7L93.3 224.6L94.3 224.5L95.3 224.4L96.3 224.4L97.3 224.3L98.3 224.3L99.3 224.2L100.3 224.2L101.3 224.1L102.3 224.1L103.3 224.1L104.3 224.2L105.3 224.2L106.3 224.3L107.3 224.4L108.3 224.5L109.3 224.6L110.3 224.7L111.3 224.8L112.3 224.9L113.3 225.0L114.3 225.0L115.3 225.1L116.3 225.1L117.3 225.1L118.3 225.1L119.3 225.1L120.3 225.0L121.3 224.9L122.3 224.8L123.3 224.6L124.3 224.5L125.3 224.3L126.3 224.1L127.3 223.8L128.3 223.6L129.3 223.7L130.3 223.7L131.3 223.8L132.3 223.8L133.3 223.8L134.3 223.7L135.3 223.6L136.3 223.5L137.3 223.3L138.3 223.1L139.3 222.8L140.3 222.5L141.3 222.1L142.3 221.7L143.3 221.2L144.3 220.6L145.3 220.1L146.3 219.5L147.3 218.8L148.3 217.9L149.3 216.9L150.3 215.8L151.3 214.4L152.3 212.8L153.3 211.1L154.3 209.0L155.3 206.6L156.3 203.5L157.3 199.8L158.3 195.5L159.3 191.1L160.3 187.0L161.3 183.2L162.3 179.6L163.3 175.9L164.3 171.9L165.3 167.8L166.3 163.9L167.3 160.3L168.3 156.5L169.3 152.6L170.3 149.1L171.3 146.0L172.3 142.9L173.3 140.9L174.3 139.4L175.3 138.0L176.3 137.2L177.3 136.7L178.3 136.8L179.3 137.0L180.3 137.2L181.3 137.6L182.3 138.1L183.3 138.8L184.3 139.5L185.3 140.5L186.3 141.6L187.3 142.7L188.3 143.7L189.3 144.8L190.3 145.8L191.3 146.8L192.3 147.9L193.3 148.9L194.3 149.9L195.3 150.8L196.3 151.8L197.3 152.7L198.3 153.7L199.3 154.7L200.3 155.7L201.3 156.5L202.3 157.2L203.3 157.7L204.3 158.2L205.3 158.7L206.3 159.2L207.3 159.8L208.3 160.4L209.3 161.2L210.3 162.2L211.3 163.2L212.3 164.2L213.3 165.1L214.3 166.0L215.3 166.8L216.3 167.6L217.3 168.5L218.3 169.4L219.3 170.4L220.3 171.5L221.3 172.5L222.3 173.6L223.3 174.7L224.3 175.8L225.3 176.9L226.3 178.0L227.3 179.2L228.3 180.4L229.3 181.5L230.3 182.7L231.3 183.8L232.3 184.9L233.3 185.9L234.3 186.9L235.3 187.9L236.3 188.9L237.3 189.9L238.3 190.8L239.3 191.7L240.3 192.6L241.3 193.5L242.3 194.4L243.3 195.3L244.3 196.2L245.3 197.0L246.3 197.9L247.3 198.7L248.3 199.6L249.3 200.4L250.3 201.2L251.3 202.0L252.3 202.8L253.3 203.6L254.3 204.3L255.3 205.1L256.3 205.9L257.3 206.6L258.3 207.3L259.3 208.1L260.3 208.8L261.3 209.5L262.3 210.2L263.3 211.0L264.3 211.7L265.3 212.4L266.3 213.1L267.3 213.8L268.3 214.5L269.3 215.2L270.3 215.8L271.3 216.4L272.3 217.0L273.3 217.6L274.3 218.2L275.3 218.7L276.3 219.2L277.3 219.7L278.3 220.2L279.3 220.7L280.3 221.2L281.3 221.6L282.3 222.0L283.3 222.5L284.3 222.9L285.3 223.3L286.3 223.7L287.3 224.0L288.3 224.4L289.3 224.7L290.3 225.1L291.3 225.4L292.3 225.7L293.3 226.0L294.3 226.3L295.3 226.6L296.3 226.8L297.3 227.1L298.3 227.4L299.3 227.6L300.3 227.9L301.3 228.1L302.3 228.3L303.3 228.6L304.3 228.8L305.3 229.0L306.3 229.2L307.3 229.5L308.3 229.7L309.3 229.9L310.3 230.1L311.3 230.3L312.3 230.4L313.3 230.6L314.3 230.8L315.3 230.9L316.3 231.1L317.3 231.3L318.3 231.4L319.3 231.5L320.3 231.7L321.3 231.8L322.3 232.0L323.3 232.1L324.3 232.2L325.3 232.4L326.3 232.5L327.3 232.6L328.3 232.7L329.3 232.8L330.3 232.9L331.3 233.0L332.3 233.1L333.3 233.2L334.3 233.2L335.3 233.2L336.3 233.3L337.3 233.3L338.3 233.3L339.3 233.3L340.3 233.3L341.3 233.3L342.3 233.3L343.3 233.3L344.3 233.3L345.3 233.3L346.3 233.3L347.3 233.3L348.3 233.3L349.3 233.3L350.3 233.3L351.3 233.3L352.3 233.3L353.3 233.3L354.3 233.3" fill="none" stroke="#4c4c4c" stroke-width="0.85"/>
<path d="M61.3 225.8L62.3 225.8L63.3 225.8L64.3 225.8L65.3 225.8L66.3 225.8L67.3 225.7L68.3 225.7L69.3 225.7L70.3 225.7L71.3 225.7L72.3 225.7L73.3 225.6L74.3 225.6L75.3 225.6L76.3 225.6L77.3 225.5L78.3 225.5L79.3 225.5L80.3 225.4L81.3 225.4L82.3 225.3L83.3 225.3L84.3 225.2L85.3 225.1L86.3 225.1L87.3 225.0L88.3 224.9L89.3 224.9L90.3 224.8L91.3 224.8L92.3 224.7L93.3 224.7L94.3 224.6L95.3 224.5L96.3 224.5L97.3 224.5L98.3 224.4L99.3 224.4L100.3 224.4L101.3 224.4L102.3 224.4L103.3 224.5L104.3 224.5L105.3 224.6L106.3 224.7L107.3 224.9L108.3 225.0L109.3 225.2L110.3 225.4L111.3 225.5L112.3 225.6L113.3 225.7L114.3 225.8L115.3 225.9L116.3 225.9L117.3 226.0L118.3 226.0L119.3 226.0L120.3 226.0L121.3 225.9L122.3 225.9L123.3 225.8L124.3 225.7L125.3 225.5L126.3 225.4L127.3 225.2L128.3 225.1L129.3 225.2L130.3 225.3L131.3 225.4L132.3 225.4L133.3 225.5L134.3 225.5L135.3 225.5L136.3 225.5L137.3 225.5L138.3 225.4L139.3 225.3L140.3 225.2L141.3 225.0L142.3 224.8L143.3 224.6L144.3 224.3L145.3 223.9L146.3 223.6L147.3 223.2L148.3 222.7L149.3 222.2L150.3 221.7L151.3 221.0L152.3 220.2L153.3 219.2L154.3 218.1L155.3 216.7L156.3 215.2L157.3 213.4L158.3 211.1L159.3 208.3L160.3 204.9L161.3 200.9L162.3 197.2L163.3 193.7L164.3 190.4L165.3 187.1L166.3 183.5L167.3 179.8L168.3 176.4L169.3 173.0L170.3 169.4L171.3 166.1L172.3 163.1L173.3 160.4L174.3 158.7L175.3 157.4L176.3 156.4L177.3 156.0L178.3 156.0L179.3 156.1L180.3 156.4L181.3 156.6L182.3 157.1L183.3 157.7L184.3 158.3L185.3 159.1L186.3 160.1L187.3 160.9L188.3 161.8L189.3 162.6L190.3 163.5L191.3 164.3L192.3 165.1L193.3 166.0L194.3 166.8L195.3 167.6L196.3 168.4L197.3 169.1L198.3 169.9L199.3 170.8L200.3 171.5L201.3 172.1L202.3 172.6L203.3 173.0L204.3 173.4L205.3 173.8L206.3 174.3L207.3 174.8L208.3 175.4L209.3 176.1L210.3 177.0L211.3 177.8L212.3 178.6L213.3 179.3L214.3 180.0L215.3 180.7L216.3 181.4L217.3 182.1L218.3 182.9L219.3 183.7L220.3 184.6L221.3 185.5L222.3 186.4L223.3 187.3L224.3 188.2L225.3 189.1L226.3 190.1L227.3 191.0L228.3 192.0L229.3 192.9L230.3 193.8L231.3 194.7L232.3 195.6L233.3 196.4L234.3 197.2L235.3 198.0L236.3 198.8L237.3 199.6L238.3 200.3L239.3 201.1L240.3 201.8L241.3 202.5L242.3 203.3L243.3 204.0L244.3 204.7L245.3 205.4L246.3 206.1L247.3 206.7L248.3 207.4L249.3 208.1L250.3 208.7L251.3 209.4L252.3 210.0L253.3 210.6L254.3 211.3L255.3 211.9L256.3 212.5L257.3 213.1L258.3 213.7L259.3 214.3L260.3 214.9L261.3 215.5L262.3 216.0L263.3 216.6L264.3 217.2L265.3 217.8L266.3 218.4L267.3 218.9L268.3 219.4L269.3 220.0L270.3 220.5L271.3 220.9L272.3 221.4L273.3 221.8L274.3 222.3L275.3 222.7L276.3 223.1L277.3 223.5L278.3 223.9L279.3 224.2L280.3 224.6L281.3 225.0L282.3 225.3L283.3 225.6L284.3 226.0L285.3 226.3L286.3 226.5L287.3 226.8L288.3 227.1L289.3 227.4L290.3 227.6L291.3 227.9L292.3 228.1L293.3 228.3L294.3 228.6L295.3 228.8L296.3 229.0L297.3 229.2L298.3 229.4L299.3 229.6L300.3 229.8L301.3 230.0L302.3 230.2L303.3 230.4L304.3 230.5L305.3 230.7L306.3 230.9L307.3 231.1L308.3 231.2L309.3 231.4L310.3 231.5L311.3 231.7L312.3 231.8L313.3 231.9L314.3 232.1L315.3 232.2L316.3 232.3L317.3 232.4L318.3 232.5L319.3 232.7L320.3 232.8L321.3 232.9L322.3 233.0L323.3 233.1L324.3 233.2L325.3 233.3L326.3 233.4L327.3 233.5L328.3 233.5L329.3 233.6L330.3 233.7L331.3 233.7L332.3 233.8L333.3 233.8L334.3 233.8L335.3 233.8L336.3 233.8L337.3 233.8L338.3 233.8L339.3 233.8L340.3 233.8L341.3 233.8L342.3 233.8L343.3 233.8L344.3 233.8L345.3 233.8L346.3 233.8L347.3 233.8L348.3 233.8L349.3 233.8L350.3 233.9L351.3 233.9L352.3 233.9L353.3 233.9L354.3 233.9" fill="none" stroke="#4c4c4c" stroke-width="0.85"/>
<path d="M61.3 226.0L62.3 226.0L63.3 226.0L64.3 226.0L65.3 226.0L66.3 226.0L67.3 225.9L68.3 225.9L69.3 225.9L70.3 225.9L71.3 225.9L72.3 225.8L73.3 225.8L74.3 225.8L75.3 225.8L76.3 225.7L77.3 225.7L78.3 225.7L79.3 225.6L80.3 225.6L81.3 225.6L82.3 225.5L83.3 225.4L84.3 225.3L85.3 225.3L86.3 225.2L87.3 225.1L88.3 225.0L89.3 224.9L90.3 224.9L91.3 224.8L92.3 224.8L93.3 224.7L94.3 224.7L95.3 224.7L96.3 224.7L97.3 224.7L98.3 224.7L99.3 224.8L100.3 224.9L101.3 224.9L102.3 225.0L103.3 225.1L104.3 225.2L105.3 225.4L106.3 225.6L107.3 225.8L108.3 226.0L109.3 226.3L110.3 226.5L111.3 226.7L112.3 226.9L113.3 227.1L114.3 227.2L115.3 227.3L116.3 227.4L117.3 227.5L118.3 227.6L119.3 227.7L120.3 227.8L121.3 227.8L122.3 227.9L123.3 227.9L124.3 227.9L125.3 227.9L126.3 227.8L127.3 227.8L128.3 227.7L129.3 227.7L130.3 227.6L131.3 227.5L132.3 227.4L133.3 227.2L134.3 227.0L135.3 226.8L136.3 226.6L137.3 226.3L138.3 226.0L139.3 225.6L140.3 225.2L141.3 224.6L142.3 224.1L143.3 223.4L144.3 222.7L145.3 221.9L146.3 220.9L147.3 219.8L148.3 218.4L149.3 216.9L150.3 215.3L151.3 213.8L152.3 212.5L153.3 211.2L154.3 210.0L155.3 208.8L156.3 207.6L157.3 206.3L158.3 205.0L159.3 203.8L160.3 202.6L161.3 201.5L162.3 200.4L163.3 199.3L164.3 198.1L165.3 197.1L166.3 196.2L167.3 195.3L168.3 194.4L169.3 193.6L170.3 193.1L171.3 192.7L172.3 192.3L173.3 191.9L174.3 191.6L175.3 191.4L176.3 191.3L177.3 191.2L178.3 191.3L179.3 191.3L180.3 191.4L181.3 191.6L182.3 191.7L183.3 192.0L184.3 192.2L185.3 192.5L186.3 192.9L187.3 193.3L188.3 193.7L189.3 194.1L190.3 194.5L191.3 194.9L192.3 195.3L193.3 195.7L194.3 196.1L195.3 196.5L196.3 196.9L197.3 197.3L198.3 197.7L199.3 198.0L200.3 198.4L201.3 198.8L202.3 199.2L203.3 199.5L204.3 199.9L205.3 200.2L206.3 200.5L207.3 200.7L208.3 200.9L209.3 201.1L210.3 201.3L211.3 201.5L212.3 201.8L213.3 202.0L214.3 202.3L215.3 202.6L216.3 203.0L217.3 203.4L218.3 203.8L219.3 204.2L220.3 204.5L221.3 204.8L222.3 205.1L223.3 205.5L224.3 205.8L225.3 206.1L226.3 206.5L227.3 206.9L228.3 207.3L229.3 207.7L230.3 208.1L231.3 208.5L232.3 209.0L233.3 209.4L234.3 209.8L235.3 210.3L236.3 210.7L237.3 211.1L238.3 211.6L239.3 212.0L240.3 212.5L241.3 212.9L242.3 213.3L243.3 213.7L244.3 214.0L245.3 214.4L246.3 214.8L247.3 215.2L248.3 215.5L249.3 215.9L250.3 216.2L251.3 216.6L252.3 216.9L253.3 217.3L254.3 217.6L255.3 217.9L256.3 218.3L257.3 218.6L258.3 218.9L259.3 219.2L260.3 219.5L261.3 219.9L262.3 220.2L263.3 220.5L264.3 220.8L265.3 221.1L266.3 221.4L267.3 221.7L268.3 222.0L269.3 222.2L270.3 222.5L271.3 222.8L272.3 223.1L273.3 223.4L274.3 223.7L275.3 223.9L276.3 224.2L277.3 224.5L278.3 224.8L279.3 225.0L280.3 225.3L281.3 225.6L282.3 225.8L283.3 226.1L284.3 226.4L285.3 226.6L286.3 226.9L287.3 227.1L288.3 227.4L289.3 227.6L290.3 227.8L291.3 228.0L292.3 228.2L293.3 228.4L294.3 228.6L295.3 228.8L296.3 229.0L297.3 229.2L298.3 229.4L299.3 229.5L300.3 229.7L301.3 229.9L302.3 230.0L303.3 230.2L304.3 230.3L305.3 230.5L306.3 230.6L307.3 230.8L308.3 230.9L309.3 231.0L310.3 231.2L311.3 231.3L312.3 231.4L313.3 231.5L314.3 231.6L315.3 231.8L316.3 231.9L317.3 232.0L318.3 232.1L319.3 232.2L320.3 232.3L321.3 232.4L322.3 232.5L323.3 232.6L324.3 232.7L325.3 232.7L326.3 232.8L327.3 232.9L328.3 233.0L329.3 233.1L330.3 233.2L331.3 233.3L332.3 233.3L333.3 233.4L334.3 233.5L335.3 233.6L336.3 233.6L337.3 233.7L338.3 233.8L339.3 233.8L340.3 233.9L341.3 233.9L342.3 234.0L343.3 234.1L344.3 234.1L345.3 234.2L346.3 234.2L347.3 234.3L348.3 234.3L349.3 234.4L350.3 234.4L351.3 234.5L352.3 234.5L353.3 234.6L354.3 234.6" fill="none" stroke="#4c4c4c" stroke-width="0.85"/>
<path d="M61.3 226.2L62.3 226.2L63.3 226.2L64.3 226.2L65.3 226.2L66.3 226.2L67.3 226.1L68.3 226.1L69.3 226.1L70.3 226.1L71.3 226.1L72.3 226.0L73.3 226.0L74.3 226.0L75.3 226.0L76.3 225.9L77.3 225.9L78.3 225.9L79.3 225.8L80.3 225.8L81.3 225.7L82.3 225.7L83.3 225.6L84.3 225.5L85.3 225.4L86.3 225.3L87.3 225.2L88.3 225.1L89.3 225.0L90.3 224.9L91.3 224.9L92.3 224.8L93.3 224.8L94.3 224.8L95.3 224.8L96.3 224.8L97.3 224.9L98.3 224.9L99.3 225.0L100.3 225.1L101.3 225.2L102.3 225.3L103.3 225.4L104.3 225.6L105.3 225.8L106.3 226.0L107.3 226.3L108.3 226.6L109.3 226.8L110.3 227.1L111.3 227.4L112.3 227.6L113.3 227.8L114.3 228.0L115.3 228.1L116.3 228.3L117.3 228.4L118.3 228.6L119.3 228.7L120.3 228.8L121.3 228.9L122.3 229.0L123.3 229.1L124.3 229.1L125.3 229.2L126.3 229.2L127.3 229.2L128.3 229.3L129.3 229.3L130.3 229.3L131.3 229.2L132.3 229.2L133.3 229.1L134.3 229.0L135.3 228.9L136.3 228.8L137.3 228.6L138.3 228.4L139.3 228.2L140.3 227.9L141.3 227.6L142.3 227.2L143.3 226.8L144.3 226.4L145.3 225.8L146.3 225.1L147.3 224.4L148.3 223.5L149.3 222.8L150.3 222.0L151.3 221.4L152.3 220.8L153.3 220.2L154.3 219.6L155.3 219.0L156.3 218.3L157.3 217.7L158.3 217.1L159.3 216.5L160.3 216.0L161.3 215.5L162.3 214.9L163.3 214.3L164.3 213.8L165.3 213.4L166.3 213.0L167.3 212.5L168.3 212.1L169.3 211.9L170.3 211.7L171.3 211.5L172.3 211.3L173.3 211.1L174.3 211.0L175.3 211.0L176.3 210.9L177.3 210.9L178.3 210.9L179.3 211.0L180.3 211.0L181.3 211.1L182.3 211.2L183.3 211.3L184.3 211.4L185.3 211.6L186.3 211.7L187.3 211.9L188.3 212.1L189.3 212.3L190.3 212.5L191.3 212.7L192.3 213.0L193.3 213.2L194.3 213.4L195.3 213.6L196.3 213.8L197.3 214.0L198.3 214.2L199.3 214.4L200.3 214.6L201.3 214.7L202.3 214.9L203.3 215.1L204.3 215.3L205.3 215.5L206.3 215.7L207.3 215.9L208.3 216.1L209.3 216.2L210.3 216.3L211.3 216.5L212.3 216.6L213.3 216.7L214.3 216.8L215.3 216.9L216.3 217.0L217.3 217.1L218.3 217.3L219.3 217.4L220.3 217.6L221.3 217.8L222.3 218.0L223.3 218.2L224.3 218.4L225.3 218.6L226.3 218.7L227.3 218.9L228.3 219.1L229.3 219.2L230.3 219.4L231.3 219.6L232.3 219.8L233.3 220.0L234.3 220.2L235.3 220.4L236.3 220.6L237.3 220.8L238.3 221.0L239.3 221.2L240.3 221.4L241.3 221.6L242.3 221.9L243.3 222.1L244.3 222.3L245.3 222.5L246.3 222.7L247.3 223.0L248.3 223.2L249.3 223.4L250.3 223.6L251.3 223.8L252.3 223.9L253.3 224.1L254.3 224.3L255.3 224.5L256.3 224.7L257.3 224.9L258.3 225.0L259.3 225.2L260.3 225.4L261.3 225.5L262.3 225.7L263.3 225.9L264.3 226.0L265.3 226.2L266.3 226.4L267.3 226.5L268.3 226.7L269.3 226.8L270.3 227.0L271.3 227.2L272.3 227.3L273.3 227.5L274.3 227.6L275.3 227.8L276.3 227.9L277.3 228.1L278.3 228.2L279.3 228.4L280.3 228.5L281.3 228.6L282.3 228.8L283.3 228.9L284.3 229.1L285.3 229.2L286.3 229.3L287.3 229.5L288.3 229.6L289.3 229.8L290.3 229.9L291.3 230.0L292.3 230.2L293.3 230.3L294.3 230.4L295.3 230.6L296.3 230.7L297.3 230.8L298.3 231.0L299.3 231.1L300.3 231.2L301.3 231.3L302.3 231.4L303.3 231.5L304.3 231.6L305.3 231.7L306.3 231.8L307.3 231.9L308.3 232.0L309.3 232.1L310.3 232.2L311.3 232.3L312.3 232.4L313.3 232.5L314.3 232.6L315.3 232.7L316.3 232.8L317.3 232.8L318.3 232.9L319.3 233.0L320.3 233.1L321.3 233.1L322.3 233.2L323.3 233.3L324.3 233.3L325.3 233.4L326.3 233.5L327.3 233.5L328.3 233.6L329.3 233.6L330.3 233.7L331.3 233.8L332.3 233.8L333.3 233.9L334.3 233.9L335.3 234.0L336.3 234.0L337.3 234.1L338.3 234.1L339.3 234.2L340.3 234.2L341.3 234.3L342.3 234.3L343.3 234.3L344.3 234.4L345.3 234.4L346.3 234.5L347.3 234.5L348.3 234.6L349.3 234.6L350.3 234.6L351.3 234.7L352.3 234.7L353.3 234.7L354.3 234.8" fill="none" stroke="#4c4c4c" stroke-width="0.85"/>
<path d="M61.3 226.4L62.3 226.4L63.3 226.4L64.3 226.4L65.3 226.4L66.3 226.3L67.3 226.3L68.3 226.3L69.3 226.3L70.3 226.3L71.3 226.3L72.3 226.2L73.3 226.2L74.3 226.2L75.3 226.2L76.3 226.1L77.3 226.1L78.3 226.0L79.3 226.0L80.3 226.0L81.3 225.9L82.3 225.8L83.3 225.7L84.3 225.6L85.3 225.5L86.3 225.4L87.3 225.3L88.3 225.2L89.3 225.1L90.3 225.0L91.3 224.9L92.3 224.9L93.3 224.8L94.3 224.8L95.3 224.8L96.3 224.9L97.3 224.9L98.3 225.0L99.3 225.1L100.3 225.2L101.3 225.3L102.3 225.4L103.3 225.6L104.3 225.8L105.3 226.0L106.3 226.2L107.3 226.5L108.3 226.8L109.3 227.1L110.3 227.4L111.3 227.7L112.3 227.9L113.3 228.1L114.3 228.3L115.3 228.5L116.3 228.7L117.3 228.8L118.3 229.0L119.3 229.1L120.3 229.3L121.3 229.4L122.3 229.5L123.3 229.6L124.3 229.7L125.3 229.8L126.3 229.8L127.3 229.9L128.3 230.0L129.3 230.0L130.3 230.1L131.3 230.1L132.3 230.1L133.3 230.1L134.3 230.1L135.3 230.0L136.3 230.0L137.3 229.9L138.3 229.9L139.3 229.7L140.3 229.6L141.3 229.4L142.3 229.2L143.3 229.0L144.3 228.7L145.3 228.4L146.3 228.0L147.3 227.6L148.3 227.1L149.3 226.7L150.3 226.2L151.3 225.9L152.3 225.5L153.3 225.2L154.3 224.8L155.3 224.5L156.3 224.1L157.3 223.7L158.3 223.4L159.3 223.0L160.3 222.7L161.3 222.4L162.3 222.1L163.3 221.8L164.3 221.5L165.3 221.2L166.3 221.0L167.3 220.7L168.3 220.5L169.3 220.3L170.3 220.2L171.3 220.1L172.3 220.0L173.3 219.9L174.3 219.9L175.3 219.8L176.3 219.8L177.3 219.8L178.3 219.9L179.3 219.9L180.3 219.9L181.3 220.0L182.3 220.0L183.3 220.1L184.3 220.1L185.3 220.2L186.3 220.3L187.3 220.4L188.3 220.5L189.3 220.6L190.3 220.7L191.3 220.8L192.3 220.9L193.3 221.0L194.3 221.2L195.3 221.3L196.3 221.4L197.3 221.5L198.3 221.6L199.3 221.7L200.3 221.8L201.3 221.9L202.3 222.0L203.3 222.2L204.3 222.3L205.3 222.4L206.3 222.5L207.3 222.6L208.3 222.7L209.3 222.8L210.3 222.9L211.3 223.0L212.3 223.1L213.3 223.2L214.3 223.3L215.3 223.4L216.3 223.5L217.3 223.6L218.3 223.7L219.3 223.7L220.3 223.8L221.3 223.9L222.3 223.9L223.3 224.0L224.3 224.0L225.3 224.1L226.3 224.2L227.3 224.3L228.3 224.4L229.3 224.5L230.3 224.6L231.3 224.7L232.3 224.8L233.3 224.9L234.3 225.0L235.3 225.1L236.3 225.2L237.3 225.3L238.3 225.3L239.3 225.4L240.3 225.5L241.3 225.6L242.3 225.7L243.3 225.8L244.3 225.9L245.3 226.0L246.3 226.1L247.3 226.2L248.3 226.3L249.3 226.4L250.3 226.5L251.3 226.6L252.3 226.7L253.3 226.9L254.3 227.0L255.3 227.1L256.3 227.2L257.3 227.3L258.3 227.4L259.3 227.5L260.3 227.6L261.3 227.7L262.3 227.9L263.3 228.0L264.3 228.1L265.3 228.2L266.3 228.3L267.3 228.4L268.3 228.5L269.3 228.6L270.3 228.7L271.3 228.8L272.3 228.9L273.3 229.0L274.3 229.1L275.3 229.2L276.3 229.2L277.3 229.3L278.3 229.4L279.3 229.5L280.3 229.6L281.3 229.7L282.3 229.8L283.3 229.9L284.3 230.0L285.3 230.0L286.3 230.1L287.3 230.2L288.3 230.3L289.3 230.4L290.3 230.5L291.3 230.5L292.3 230.6L293.3 230.7L294.3 230.8L295.3 230.9L296.3 230.9L297.3 231.0L298.3 231.1L299.3 231.2L300.3 231.3L301.3 231.3L302.3 231.4L303.3 231.5L304.3 231.6L305.3 231.6L306.3 231.7L307.3 231.8L308.3 231.9L309.3 231.9L310.3 232.0L311.3 232.1L312.3 232.1L313.3 232.2L314.3 232.3L315.3 232.4L316.3 232.4L317.3 232.5L318.3 232.6L319.3 232.6L320.3 232.7L321.3 232.8L322.3 232.8L323.3 232.9L324.3 233.0L325.3 233.0L326.3 233.1L327.3 233.2L328.3 233.2L329.3 233.3L330.3 233.3L331.3 233.4L332.3 233.4L333.3 233.5L334.3 233.6L335.3 233.6L336.3 233.7L337.3 233.7L338.3 233.7L339.3 233.8L340.3 233.8L341.3 233.9L342.3 233.9L343.3 234.0L344.3 234.0L345.3 234.1L346.3 234.1L347.3 234.1L348.3 234.2L349.3 234.2L350.3 234.3L351.3 234.3L352.3 234.3L353.3 234.4L354.3 234.4" fill="none" stroke="#4c4c4c" stroke-width="0.85"/>
<path d="M61.3 226.6L62.3 226.6L63.3 226.6L64.3 226.6L65.3 226.6L66.3 226.5L67.3 226.5L68.3 226.5L69.3 226.5L70.3 226.5L71.3 226.5L72.3 226.4L73.3 226.4L74.3 226.4L75.3 226.3L76.3 226.3L77.3 226.3L78.3 226.2L79.3 226.2L80.3 226.1L81.3 226.1L82.3 226.0L83.3 225.9L84.3 225.8L85.3 225.7L86.3 225.5L87.3 225.4L88.3 225.3L89.3 225.2L90.3 225.1L91.3 225.0L92.3 224.9L93.3 224.9L94.3 224.9L95.3 224.9L96.3 225.0L97.3 225.0L98.3 225.1L99.3 225.2L100.3 225.3L101.3 225.5L102.3 225.6L103.3 225.7L104.3 225.9L105.3 226.2L106.3 226.4L107.3 226.7L108.3 227.1L109.3 227.4L110.3 227.7L111.3 228.0L112.3 228.3L113.3 228.5L114.3 228.7L115.3 228.9L116.3 229.1L117.3 229.2L118.3 229.4L119.3 229.6L120.3 229.7L121.3 229.9L122.3 230.0L123.3 230.1L124.3 230.2L125.3 230.3L126.3 230.5L127.3 230.6L128.3 230.7L129.3 230.8L130.3 230.9L131.3 230.9L132.3 231.0L133.3 231.1L134.3 231.1L135.3 231.2L136.3 231.2L137.3 231.3L138.3 231.3L139.3 231.3L140.3 231.3L141.3 231.2L142.3 231.2L143.3 231.2L144.3 231.1L145.3 231.0L146.3 230.9L147.3 230.8L148.3 230.7L149.3 230.5L150.3 230.4L151.3 230.3L152.3 230.2L153.3 230.1L154.3 230.0L155.3 229.9L156.3 229.8L157.3 229.7L158.3 229.6L159.3 229.5L160.3 229.5L161.3 229.4L162.3 229.3L163.3 229.2L164.3 229.1L165.3 229.0L166.3 229.0L167.3 228.9L168.3 228.8L169.3 228.8L170.3 228.8L171.3 228.8L172.3 228.7L173.3 228.7L174.3 228.7L175.3 228.7L176.3 228.7L177.3 228.8L178.3 228.8L179.3 228.8L180.3 228.8L181.3 228.9L182.3 228.9L183.3 228.9L184.3 229.0L185.3 229.0L186.3 229.1L187.3 229.1L188.3 229.1L189.3 229.2L190.3 229.2L191.3 229.3L192.3 229.3L193.3 229.4L194.3 229.4L195.3 229.5L196.3 229.5L197.3 229.6L198.3 229.6L199.3 229.7L200.3 229.7L201.3 229.8L202.3 229.8L203.3 229.9L204.3 229.9L205.3 230.0L206.3 230.0L207.3 230.1L208.3 230.1L209.3 230.2L210.3 230.2L211.3 230.3L212.3 230.3L213.3 230.4L214.3 230.4L215.3 230.5L216.3 230.5L217.3 230.6L218.3 230.6L219.3 230.7L220.3 230.7L221.3 230.8L222.3 230.8L223.3 230.8L224.3 230.9L225.3 230.9L226.3 230.9L227.3 231.0L228.3 231.0L229.3 231.0L230.3 231.1L231.3 231.1L232.3 231.1L233.3 231.2L234.3 231.2L235.3 231.2L236.3 231.3L237.3 231.3L238.3 231.4L239.3 231.4L240.3 231.5L241.3 231.5L242.3 231.5L243.3 231.6L244.3 231.6L245.3 231.7L246.3 231.7L247.3 231.7L248.3 231.8L249.3 231.8L250.3 231.8L251.3 231.9L252.3 231.9L253.3 232.0L254.3 232.0L255.3 232.0L256.3 232.1L257.3 232.1L258.3 232.1L259.3 232.2L260.3 232.2L261.3 232.3L262.3 232.3L263.3 232.3L264.3 232.4L265.3 232.4L266.3 232.5L267.3 232.5L268.3 232.5L269.3 232.6L270.3 232.6L271.3 232.7L272.3 232.7L273.3 232.8L274.3 232.8L275.3 232.8L276.3 232.9L277.3 232.9L278.3 233.0L279.3 233.0L280.3 233.0L281.3 233.1L282.3 233.1L283.3 233.1L284.3 233.2L285.3 233.2L286.3 233.3L287.3 233.3L288.3 233.3L289.3 233.4L290.3 233.4L291.3 233.4L292.3 233.5L293.3 233.5L294.3 233.5L295.3 233.6L296.3 233.6L297.3 233.6L298.3 233.7L299.3 233.7L300.3 233.7L301.3 233.8L302.3 233.8L303.3 233.8L304.3 233.9L305.3 233.9L306.3 233.9L307.3 234.0L308.3 234.0L309.3 234.0L310.3 234.1L311.3 234.1L312.3 234.1L313.3 234.1L314.3 234.2L315.3 234.2L316.3 234.2L317.3 234.3L318.3 234.3L319.3 234.3L320.3 234.3L321.3 234.4L322.3 234.4L323.3 234.4L324.3 234.4L325.3 234.5L326.3 234.5L327.3 234.5L328.3 234.6L329.3 234.6L330.3 234.6L331.3 234.6L332.3 234.7L333.3 234.7L334.3 234.7L335.3 234.7L336.3 234.7L337.3 234.8L338.3 234.8L339.3 234.8L340.3 234.8L341.3 234.9L342.3 234.9L343.3 234.9L344.3 234.9L345.3 235.0L346.3 235.0L347.3 235.0L348.3 235.0L349.3 235.0L350.3 235.1L351.3 235.1L352.3 235.1L353.3 235.1L354.3 235.1" fill="none" stroke="#4c4c4c" stroke-width="0.85"/>
<path d="M61.3 225.3L62.3 225.3L63.3 225.3L64.3 225.3L65.3 225.3L66.3 225.3L67.3 225.2L68.3 225.2L69.3 225.2L70.3 225.2L71.3 225.2L72.3 225.2L73.3 225.1L74.3 225.1L75.3 225.1L76.3 225.1L77.3 225.1L78.3 225.0L79.3 225.0L80.3 225.0L81.3 225.0L82.3 224.9L83.3 224.9L84.3 224.8L85.3 224.8L86.3 224.8L87.3 224.7L88.3 224.7L89.3 224.6L90.3 224.6L91.3 224.6L92.3 224.6L93.3 224.6L94.3 224.7L95.3 224.7L96.3 224.8L97.3 224.9L98.3 225.1L99.3 225.2L100.3 225.3L101.3 225.5L102.3 225.6L103.3 225.8L104.3 226.0L105.3 226.2L106.3 226.5L107.3 226.8L108.3 227.2L109.3 227.5L110.3 227.8L111.3 228.1L112.3 228.4L113.3 228.7L114.3 228.9L115.3 229.1L116.3 229.3L117.3 229.4L118.3 229.6L119.3 229.8L120.3 229.9L121.3 230.1L122.3 230.2L123.3 230.4L124.3 230.5L125.3 230.6L126.3 230.8L127.3 230.9L128.3 231.0L129.3 231.1L130.3 231.3L131.3 231.4L132.3 231.5L133.3 231.6L134.3 231.7L135.3 231.8L136.3 231.9L137.3 231.9L138.3 232.0L139.3 232.1L140.3 232.1L141.3 232.2L142.3 232.2L143.3 232.3L144.3 232.3L145.3 232.3L146.3 232.4L147.3 232.4L148.3 232.5L149.3 232.5L150.3 232.5L151.3 232.6L152.3 232.6L153.3 232.6L154.3 232.7L155.3 232.7L156.3 232.7L157.3 232.7L158.3 232.8L159.3 232.8L160.3 232.8L161.3 232.9L162.3 232.9L163.3 232.9L164.3 232.9L165.3 233.0L166.3 233.0L167.3 233.0L168.3 233.0L169.3 233.0L170.3 233.1L171.3 233.1L172.3 233.1L173.3 233.1L174.3 233.2L175.3 233.2L176.3 233.2L177.3 233.2L178.3 233.3L179.3 233.3L180.3 233.3L181.3 233.3L182.3 233.4L183.3 233.4L184.3 233.4L185.3 233.4L186.3 233.5L187.3 233.5L188.3 233.5L189.3 233.5L190.3 233.6L191.3 233.6L192.3 233.6L193.3 233.6L194.3 233.7L195.3 233.7L196.3 233.7L197.3 233.8L198.3 233.8L199.3 233.8L200.3 233.8L201.3 233.9L202.3 233.9L203.3 233.9L204.3 233.9L205.3 234.0L206.3 234.0L207.3 234.0L208.3 234.0L209.3 234.1L210.3 234.1L211.3 234.1L212.3 234.1L213.3 234.2L214.3 234.2L215.3 234.2L216.3 234.2L217.3 234.3L218.3 234.3L219.3 234.3L220.3 234.3L221.3 234.4L222.3 234.4L223.3 234.4L224.3 234.4L225.3 234.4L226.3 234.5L227.3 234.5L228.3 234.5L229.3 234.5L230.3 234.6L231.3 234.6L232.3 234.6L233.3 234.6L234.3 234.6L235.3 234.7L236.3 234.7L237.3 234.7L238.3 234.7L239.3 234.7L240.3 234.8L241.3 234.8L242.3 234.8L243.3 234.8L244.3 234.8L245.3 234.8L246.3 234.9L247.3 234.9L248.3 234.9L249.3 234.9L250.3 234.9L251.3 234.9L252.3 235.0L253.3 235.0L254.3 235.0L255.3 235.0L256.3 235.0L257.3 235.0L258.3 235.0L259.3 235.1L260.3 235.1L261.3 235.1L262.3 235.1L263.3 235.1L264.3 235.1L265.3 235.1L266.3 235.2L267.3 235.2L268.3 235.2L269.3 235.2L270.3 235.2L271.3 235.2L272.3 235.2L273.3 235.3L274.3 235.3L275.3 235.3L276.3 235.3L277.3 235.3L278.3 235.3L279.3 235.3L280.3 235.3L281.3 235.4L282.3 235.4L283.3 235.4L284.3 235.4L285.3 235.4L286.3 235.4L287.3 235.4L288.3 235.4L289.3 235.5L290.3 235.5L291.3 235.5L292.3 235.5L293.3 235.5L294.3 235.5L295.3 235.5L296.3 235.5L297.3 235.6L298.3 235.6L299.3 235.6L300.3 235.6L301.3 235.6L302.3 235.6L303.3 235.6L304.3 235.6L305.3 235.6L306.3 235.7L307.3 235.7L308.3 235.7L309.3 235.7L310.3 235.7L311.3 235.7L312.3 235.7L313.3 235.7L314.3 235.7L315.3 235.7L316.3 235.8L317.3 235.8L318.3 235.8L319.3 235.8L320.3 235.8L321.3 235.8L322.3 235.8L323.3 235.8L324.3 235.8L325.3 235.8L326.3 235.8L327.3 235.9L328.3 235.9L329.3 235.9L330.3 235.9L331.3 235.9L332.3 235.9L333.3 235.9L334.3 235.9L335.3 235.9L336.3 235.9L337.3 235.9L338.3 235.9L339.3 235.9L340.3 235.9L341.3 235.9L342.3 236.0L343.3 236.0L344.3 236.0L345.3 236.0L346.3 236.0L347.3 236.0L348.3 236.0L349.3 236.0L350.3 236.0L351.3 236.0L352.3 236.0L353.3 236.0L354.3 236.0" fill="none" stroke="#2b2bc8" stroke-width="1.50"/>
<path d="M61.3 229.0L62.3 228.9L63.3 228.9L64.3 228.8L65.3 228.7L66.3 228.6L67.3 228.6L68.3 228.5L69.3 228.4L70.3 228.3L71.3 228.1L72.3 228.0L73.3 227.9L74.3 227.8L75.3 227.7L76.3 227.6L77.3 227.4L78.3 227.3L79.3 227.1L80.3 227.0L81.3 226.8L82.3 226.6L83.3 226.5L84.3 226.3L85.3 226.1L86.3 225.9L87.3 225.7L88.3 225.5L89.3 225.3L90.3 225.1L91.3 224.9L92.3 224.7L93.3 224.5L94.3 224.3L95.3 224.1L96.3 223.8L97.3 223.6L98.3 223.4L99.3 223.2L100.3 223.0L101.3 222.8L102.3 222.6L103.3 222.4L104.3 222.3L105.3 222.1L106.3 222.0L107.3 221.9L108.3 221.8L109.3 221.7L110.3 221.6L111.3 221.5L112.3 221.3L113.3 221.2L114.3 221.1L115.3 221.0L116.3 220.8L117.3 220.6L118.3 220.4L119.3 220.2L120.3 219.9L121.3 219.6L122.3 219.2L123.3 218.8L124.3 218.3L125.3 217.7L126.3 217.2L127.3 216.5L128.3 215.7L129.3 214.7L130.3 213.7L131.3 212.5L132.3 211.2L133.3 209.7L134.3 208.1L135.3 206.6L136.3 204.9L137.3 203.0L138.3 200.8L139.3 198.2L140.3 195.2L141.3 192.0L142.3 188.6L143.3 184.7L144.3 180.3L145.3 175.0L146.3 168.8L147.3 162.1L148.3 154.4L149.3 147.3L150.3 140.8L151.3 134.7L152.3 129.0L153.3 123.6L154.3 118.3L155.3 112.6L156.3 106.6L157.3 100.8L158.3 95.5L159.3 90.4L160.3 85.6L161.3 80.6L162.3 75.4L163.3 70.4L164.3 65.7L165.3 61.8L166.3 57.9L167.3 53.7L168.3 50.2L169.3 47.7L170.3 45.6L171.3 43.8L172.3 42.1L173.3 40.6L174.3 39.5L175.3 38.7L176.3 38.0L177.3 37.7L178.3 37.8L179.3 38.1L180.3 38.5L181.3 39.0L182.3 39.7L183.3 40.8L184.3 42.0L185.3 43.4L186.3 45.2L187.3 47.2L188.3 49.1L189.3 51.0L190.3 52.8L191.3 54.6L192.3 56.4L193.3 58.2L194.3 60.1L195.3 61.9L196.3 63.7L197.3 65.4L198.3 67.1L199.3 68.7L200.3 70.4L201.3 72.2L202.3 73.9L203.3 75.6L204.3 77.1L205.3 78.3L206.3 79.3L207.3 80.2L208.3 81.0L209.3 81.8L210.3 82.8L211.3 83.9L212.3 85.0L213.3 86.4L214.3 88.1L215.3 89.9L216.3 91.8L217.3 93.4L218.3 95.0L219.3 96.4L220.3 97.9L221.3 99.4L222.3 100.9L223.3 102.5L224.3 104.3L225.3 106.0L226.3 107.9L227.3 109.8L228.3 111.7L229.3 113.6L230.3 115.6L231.3 117.6L232.3 119.6L233.3 121.6L234.3 123.7L235.3 125.8L236.3 127.9L237.3 129.9L238.3 131.9L239.3 133.8L240.3 135.7L241.3 137.5L242.3 139.2L243.3 141.0L244.3 142.7L245.3 144.4L246.3 146.1L247.3 147.7L248.3 149.3L249.3 150.9L250.3 152.5L251.3 154.1L252.3 155.6L253.3 157.2L254.3 158.7L255.3 160.2L256.3 161.7L257.3 163.2L258.3 164.6L259.3 166.1L260.3 167.5L261.3 168.9L262.3 170.3L263.3 171.7L264.3 173.1L265.3 174.4L266.3 175.8L267.3 177.1L268.3 178.4L269.3 179.7L270.3 181.0L271.3 182.3L272.3 183.6L273.3 184.9L274.3 186.1L275.3 187.4L276.3 188.7L277.3 190.0L278.3 191.2L279.3 192.5L280.3 193.7L281.3 194.8L282.3 196.0L283.3 197.1L284.3 198.2L285.3 199.2L286.3 200.2L287.3 201.2L288.3 202.1L289.3 203.0L290.3 203.9L291.3 204.8L292.3 205.6L293.3 206.5L294.3 207.3L295.3 208.1L296.3 208.8L297.3 209.6L298.3 210.3L299.3 211.0L300.3 211.7L301.3 212.3L302.3 213.0L303.3 213.6L304.3 214.2L305.3 214.7L306.3 215.3L307.3 215.8L308.3 216.4L309.3 216.9L310.3 217.4L311.3 217.9L312.3 218.3L313.3 218.8L314.3 219.3L315.3 219.7L316.3 220.1L317.3 220.6L318.3 221.0L319.3 221.4L320.3 221.8L321.3 222.2L322.3 222.6L323.3 222.9L324.3 223.3L325.3 223.7L326.3 224.0L327.3 224.4L328.3 224.7L329.3 225.0L330.3 225.3L331.3 225.6L332.3 225.9L333.3 226.2L334.3 226.5L335.3 226.7L336.3 227.0L337.3 227.2L338.3 227.5L339.3 227.7L340.3 228.0L341.3 228.2L342.3 228.4L343.3 228.6L344.3 228.9L345.3 229.1L346.3 229.3L347.3 229.5L348.3 229.7L349.3 229.8L350.3 230.0L351.3 230.2L352.3 230.3L353.3 230.5L354.3 230.6" fill="none" stroke="#d83030" stroke-width="1.40"/>
</g>
<path d="M177.3 42.8 L185.5 96.2 L181.7 95.2 L181.7 201.0 L180.7 229.2 L177.3 205.0 L173.2 228.4 L172.9 201.0 L172.9 95.2 L169.1 96.2 Z" fill="#10c810"/>
<line x1="61.3" y1="14.2" x2="354.3" y2="14.2" stroke="#555" stroke-width="1.6"/>
<line x1="354.3" y1="14.2" x2="354.3" y2="237.3" stroke="#222" stroke-width="1.4"/>
<line x1="61.3" y1="237.3" x2="354.3" y2="237.3" stroke="#222" stroke-width="1.6"/>
<line x1="61.3" y1="14.2" x2="61.3" y2="237.3" stroke="#555" stroke-width="1.6"/>
<line x1="93.9" y1="237.3" x2="93.9" y2="242.3" stroke="#333" stroke-width="1.4"/>
<line x1="159.0" y1="237.3" x2="159.0" y2="242.3" stroke="#333" stroke-width="1.4"/>
<line x1="224.1" y1="237.3" x2="224.1" y2="242.3" stroke="#333" stroke-width="1.4"/>
<line x1="289.2" y1="237.3" x2="289.2" y2="242.3" stroke="#333" stroke-width="1.4"/>
<line x1="354.3" y1="237.3" x2="354.3" y2="242.3" stroke="#333" stroke-width="1.4"/>
<line x1="61.3" y1="237.3" x2="61.3" y2="240.8" stroke="#333" stroke-width="1.4"/>
<line x1="126.4" y1="237.3" x2="126.4" y2="240.8" stroke="#333" stroke-width="1.4"/>
<line x1="191.5" y1="237.3" x2="191.5" y2="240.8" stroke="#333" stroke-width="1.4"/>
<line x1="256.6" y1="237.3" x2="256.6" y2="240.8" stroke="#333" stroke-width="1.4"/>
<line x1="321.7" y1="237.3" x2="321.7" y2="240.8" stroke="#333" stroke-width="1.4"/>
<line x1="61.3" y1="237.3" x2="56.3" y2="237.3" stroke="#555" stroke-width="1.4"/>
<line x1="61.3" y1="192.7" x2="56.3" y2="192.7" stroke="#555" stroke-width="1.4"/>
<line x1="61.3" y1="148.1" x2="56.3" y2="148.1" stroke="#555" stroke-width="1.4"/>
<line x1="61.3" y1="103.4" x2="56.3" y2="103.4" stroke="#555" stroke-width="1.4"/>
<line x1="61.3" y1="58.8" x2="56.3" y2="58.8" stroke="#555" stroke-width="1.4"/>
<line x1="61.3" y1="14.2" x2="56.3" y2="14.2" stroke="#555" stroke-width="1.4"/>
<line x1="61.3" y1="215.0" x2="58.3" y2="215.0" stroke="#555" stroke-width="1.4"/>
<line x1="61.3" y1="170.4" x2="58.3" y2="170.4" stroke="#555" stroke-width="1.4"/>
<line x1="61.3" y1="125.8" x2="58.3" y2="125.8" stroke="#555" stroke-width="1.4"/>
<line x1="61.3" y1="81.1" x2="58.3" y2="81.1" stroke="#555" stroke-width="1.4"/>
<line x1="61.3" y1="36.5" x2="58.3" y2="36.5" stroke="#555" stroke-width="1.4"/>
<text x="53.9" y="241.2" font-size="16.0" font-weight="bold" text-anchor="end" fill="#000" >0</text>
<text x="53.9" y="196.6" font-size="16.0" font-weight="bold" text-anchor="end" fill="#000" >10</text>
<text x="53.9" y="152.0" font-size="16.0" font-weight="bold" text-anchor="end" fill="#000" >20</text>
<text x="53.9" y="107.3" font-size="16.0" font-weight="bold" text-anchor="end" fill="#000" >30</text>
<text x="53.9" y="62.7" font-size="16.0" font-weight="bold" text-anchor="end" fill="#000" >40</text>
<text x="53.9" y="18.1" font-size="16.0" font-weight="bold" text-anchor="end" fill="#000" >50</text>
<text x="93.9" y="257.2" font-size="16.0" font-weight="bold" text-anchor="middle" fill="#000" >450</text>
<text x="159.0" y="257.2" font-size="16.0" font-weight="bold" text-anchor="middle" fill="#000" >500</text>
<text x="224.1" y="257.2" font-size="16.0" font-weight="bold" text-anchor="middle" fill="#000" >550</text>
<text x="289.2" y="257.2" font-size="16.0" font-weight="bold" text-anchor="middle" fill="#000" >600</text>
<text x="354.3" y="257.2" font-size="16.0" font-weight="bold" text-anchor="middle" fill="#000" >650</text>
<text x="143.3" y="285.8" font-size="16.0" font-weight="bold" text-anchor="start" fill="#000" textLength="129.1" lengthAdjust="spacingAndGlyphs" stroke="#000" stroke-width="0.25">Wavelength (nm)</text>
<g transform="translate(17.9 140.7) rotate(-90)">
<text x="0" y="0" font-size="16.0" font-weight="bold" fill="#000" stroke="#000" stroke-width="0.3">F/F<tspan font-size="10.5" dy="7.0">0</tspan></text>
</g>
<text x="77.3" y="45.3" font-size="18.5" font-weight="normal" text-anchor="start" fill="#000" textLength="20.8" lengthAdjust="spacingAndGlyphs" stroke="#000" stroke-width="0.5">(A)</text>
<text x="217.3" y="48.1" font-size="11.5" font-weight="bold" text-anchor="start" fill="#000" textLength="21.7" lengthAdjust="spacingAndGlyphs" stroke="#000" stroke-width="0.25">Hcy</text>
<g clip-path="url(#clipB)">
<path d="M438.1 216.1L439.1 216.4L440.1 216.8L441.1 217.2L442.1 217.5L443.1 217.8L444.1 218.0L445.1 218.3L446.1 218.4L447.1 218.5L448.1 218.6L449.1 218.6L450.1 218.7L451.1 218.7L452.1 218.7L453.1 218.7L454.1 218.8L455.1 218.8L456.1 218.8L457.1 218.8L458.1 218.8L459.1 218.8L460.1 218.8L461.1 218.8L462.1 218.7L463.1 218.7L464.1 218.6L465.1 218.6L466.1 218.5L467.1 218.4L468.1 218.4L469.1 218.3L470.1 218.2L471.1 218.2L472.1 218.1L473.1 218.1L474.1 218.0L475.1 218.0L476.1 218.0L477.1 218.0L478.1 218.1L479.1 218.2L480.1 218.4L481.1 218.5L482.1 218.7L483.1 219.0L484.1 219.2L485.1 219.4L486.1 219.6L487.1 219.9L488.1 220.1L489.1 220.2L490.1 220.4L491.1 220.6L492.1 220.7L493.1 220.9L494.1 221.1L495.1 221.3L496.1 221.5L497.1 221.5L498.1 221.4L499.1 221.1L500.1 220.6L501.1 220.1L502.1 219.2L503.1 218.1L504.1 216.8L505.1 215.2L506.1 213.4L507.1 211.4L508.1 209.3L509.1 206.9L510.1 204.3L511.1 201.6L512.1 198.4L513.1 194.8L514.1 190.8L515.1 186.1L516.1 180.7L517.1 175.1L518.1 169.6L519.1 164.2L520.1 158.9L521.1 153.8L522.1 149.0L523.1 144.4L524.1 139.6L525.1 134.5L526.1 129.0L527.1 123.1L528.1 117.0L529.1 111.0L530.1 105.0L531.1 99.0L532.1 93.0L533.1 87.1L534.1 80.9L535.1 74.7L536.1 68.7L537.1 63.3L538.1 58.3L539.1 54.0L540.1 50.4L541.1 47.5L542.1 45.1L543.1 43.1L544.1 41.5L545.1 40.1L546.1 39.2L547.1 38.7L548.1 38.3L549.1 38.0L550.1 38.0L551.1 38.3L552.1 38.7L553.1 39.2L554.1 39.9L555.1 40.7L556.1 41.7L557.1 42.8L558.1 44.0L559.1 45.6L560.1 47.4L561.1 49.4L562.1 51.6L563.1 53.8L564.1 56.0L565.1 58.1L566.1 60.1L567.1 62.2L568.1 64.4L569.1 66.5L570.1 68.6L571.1 70.6L572.1 72.4L573.1 74.1L574.1 75.4L575.1 76.6L576.1 77.6L577.1 78.6L578.1 79.5L579.1 80.4L580.1 81.2L581.1 82.1L582.1 83.1L583.1 84.1L584.1 85.1L585.1 86.2L586.1 87.4L587.1 88.5L588.1 89.7L589.1 91.0L590.1 92.3L591.1 93.7L592.1 95.2L593.1 96.9L594.1 98.8L595.1 100.7L596.1 102.7L597.1 104.8L598.1 106.8L599.1 108.9L600.1 110.8L601.1 112.9L602.1 114.9L603.1 117.0L604.1 119.0L605.1 121.1L606.1 123.1L607.1 125.0L608.1 126.8L609.1 128.6L610.1 130.3L611.1 132.0L612.1 133.8L613.1 135.6L614.1 137.5L615.1 139.5L616.1 141.4L617.1 143.4L618.1 145.4L619.1 147.4L620.1 149.5L621.1 151.5L622.1 153.5L623.1 155.4L624.1 157.4L625.1 159.3L626.1 161.1L627.1 163.0L628.1 164.9L629.1 166.8L630.1 168.7L631.1 170.6L632.1 172.4L633.1 174.2L634.1 175.9L635.1 177.6L636.1 179.2L637.1 180.7L638.1 182.2L639.1 183.6L640.1 184.9L641.1 186.2L642.1 187.4L643.1 188.6L644.1 189.8L645.1 191.0L646.1 192.1L647.1 193.2L648.1 194.2L649.1 195.3L650.1 196.3L651.1 197.3L652.1 198.3L653.1 199.3L654.1 200.2L655.1 201.1L656.1 202.0L657.1 202.9L658.1 203.8L659.1 204.6L660.1 205.5L661.1 206.3L662.1 207.1L663.1 207.9L664.1 208.6L665.1 209.4L666.1 210.1L667.1 210.8L668.1 211.5L669.1 212.2L670.1 212.9L671.1 213.5L672.1 214.2L673.1 214.8L674.1 215.5L675.1 216.1L676.1 216.8L677.1 217.4L678.1 218.0L679.1 218.6L680.1 219.3L681.1 219.9L682.1 220.5L683.1 221.1L684.1 221.7L685.1 222.2L686.1 222.8L687.1 223.3L688.1 223.8L689.1 224.2L690.1 224.7L691.1 225.1L692.1 225.6L693.1 226.0L694.1 226.4L695.1 226.8L696.1 227.2L697.1 227.5L698.1 227.9L699.1 228.2L700.1 228.6L701.1 228.9L702.1 229.2L703.1 229.5L704.1 229.8L705.1 230.1L706.1 230.4L707.1 230.7L708.1 231.0L709.1 231.2L710.1 231.5L711.1 231.8L712.1 232.1L713.1 232.4L714.1 232.7L715.1 233.0L716.1 233.3L717.1 233.6L718.1 233.9L719.1 234.3L720.1 234.6L721.1 234.9L722.1 235.2L723.1 235.6L724.1 235.9L725.1 236.3L726.1 236.6L727.1 236.9L728.1 237.3L729.1 237.6L730.1 238.0L731.9 238.6" fill="none" stroke="#5a5a5a" stroke-width="0.85"/>
<path d="M438.1 217.0L439.1 217.3L440.1 217.6L441.1 217.9L442.1 218.2L443.1 218.5L444.1 218.7L445.1 218.9L446.1 219.0L447.1 219.2L448.1 219.2L449.1 219.3L450.1 219.3L451.1 219.4L452.1 219.5L453.1 219.5L454.1 219.6L455.1 219.6L456.1 219.7L457.1 219.8L458.1 219.8L459.1 219.9L460.1 219.9L461.1 220.0L462.1 220.0L463.1 220.1L464.1 220.1L465.1 220.1L466.1 220.1L467.1 220.1L468.1 220.1L469.1 220.0L470.1 220.0L471.1 220.0L472.1 220.0L473.1 220.0L474.1 220.0L475.1 220.1L476.1 220.1L477.1 220.2L478.1 220.3L479.1 220.4L480.1 220.6L481.1 220.8L482.1 221.0L483.1 221.2L484.1 221.5L485.1 221.7L486.1 222.0L487.1 222.2L488.1 222.4L489.1 222.6L490.1 222.8L491.1 222.9L492.1 223.1L493.1 223.2L494.1 223.3L495.1 223.4L496.1 223.5L497.1 223.4L498.1 223.4L499.1 223.2L500.1 223.1L501.1 222.8L502.1 222.4L503.1 221.8L504.1 220.9L505.1 219.8L506.1 218.5L507.1 216.9L508.1 215.1L509.1 213.1L510.1 210.9L511.1 208.5L512.1 206.0L513.1 203.2L514.1 200.1L515.1 196.6L516.1 192.6L517.1 187.9L518.1 182.7L519.1 177.3L520.1 172.0L521.1 166.7L522.1 161.5L523.1 156.6L524.1 151.9L525.1 147.4L526.1 142.6L527.1 137.4L528.1 131.7L529.1 125.7L530.1 119.6L531.1 113.6L532.1 107.6L533.1 101.5L534.1 95.5L535.1 89.3L536.1 83.0L537.1 76.8L538.1 71.3L539.1 66.2L540.1 61.8L541.1 58.4L542.1 55.5L543.1 53.2L544.1 51.4L545.1 49.8L546.1 48.7L547.1 48.0L548.1 47.6L549.1 47.3L550.1 47.3L551.1 47.5L552.1 47.9L553.1 48.4L554.1 49.0L555.1 49.8L556.1 50.8L557.1 51.8L558.1 53.0L559.1 54.5L560.1 56.2L561.1 58.1L562.1 60.2L563.1 62.3L564.1 64.5L565.1 66.5L566.1 68.4L567.1 70.4L568.1 72.5L569.1 74.5L570.1 76.5L571.1 78.4L572.1 80.2L573.1 81.7L574.1 83.0L575.1 84.1L576.1 85.1L577.1 86.1L578.1 86.9L579.1 87.8L580.1 88.6L581.1 89.4L582.1 90.3L583.1 91.3L584.1 92.3L585.1 93.4L586.1 94.5L587.1 95.6L588.1 96.7L589.1 97.9L590.1 99.2L591.1 100.5L592.1 102.0L593.1 103.6L594.1 105.4L595.1 107.2L596.1 109.2L597.1 111.1L598.1 113.1L599.1 115.0L600.1 116.9L601.1 118.8L602.1 120.8L603.1 122.8L604.1 124.7L605.1 126.7L606.1 128.6L607.1 130.4L608.1 132.2L609.1 133.9L610.1 135.5L611.1 137.1L612.1 138.8L613.1 140.6L614.1 142.4L615.1 144.2L616.1 146.1L617.1 148.0L618.1 149.9L619.1 151.9L620.1 153.8L621.1 155.7L622.1 157.6L623.1 159.5L624.1 161.4L625.1 163.2L626.1 165.0L627.1 166.8L628.1 168.6L629.1 170.4L630.1 172.2L631.1 174.0L632.1 175.7L633.1 177.4L634.1 179.1L635.1 180.7L636.1 182.2L637.1 183.7L638.1 185.1L639.1 186.4L640.1 187.6L641.1 188.9L642.1 190.1L643.1 191.2L644.1 192.3L645.1 193.4L646.1 194.5L647.1 195.5L648.1 196.6L649.1 197.6L650.1 198.5L651.1 199.5L652.1 200.4L653.1 201.4L654.1 202.3L655.1 203.2L656.1 204.0L657.1 204.9L658.1 205.7L659.1 206.5L660.1 207.3L661.1 208.1L662.1 208.9L663.1 209.6L664.1 210.3L665.1 211.0L666.1 211.7L667.1 212.4L668.1 213.1L669.1 213.7L670.1 214.4L671.1 215.0L672.1 215.6L673.1 216.3L674.1 216.9L675.1 217.5L676.1 218.1L677.1 218.7L678.1 219.3L679.1 219.9L680.1 220.5L681.1 221.1L682.1 221.7L683.1 222.2L684.1 222.8L685.1 223.3L686.1 223.8L687.1 224.3L688.1 224.8L689.1 225.2L690.1 225.7L691.1 226.1L692.1 226.5L693.1 226.9L694.1 227.3L695.1 227.7L696.1 228.0L697.1 228.4L698.1 228.7L699.1 229.1L700.1 229.4L701.1 229.7L702.1 230.0L703.1 230.3L704.1 230.6L705.1 230.9L706.1 231.1L707.1 231.4L708.1 231.7L709.1 231.9L710.1 232.2L711.1 232.4L712.1 232.7L713.1 233.0L714.1 233.3L715.1 233.6L716.1 233.9L717.1 234.2L718.1 234.5L719.1 234.8L720.1 235.1L721.1 235.4L722.1 235.8L723.1 236.1L724.1 236.4L725.1 236.7L726.1 237.0L727.1 237.4L728.1 237.7L729.1 238.0L730.1 238.4L731.9 239.0" fill="none" stroke="#5a5a5a" stroke-width="0.85"/>
<path d="M438.1 217.9L439.1 218.1L440.1 218.4L441.1 218.7L442.1 218.9L443.1 219.1L444.1 219.3L445.1 219.5L446.1 219.7L447.1 219.8L448.1 219.9L449.1 219.9L450.1 220.0L451.1 220.1L452.1 220.2L453.1 220.3L454.1 220.4L455.1 220.5L456.1 220.6L457.1 220.8L458.1 220.9L459.1 221.0L460.1 221.1L461.1 221.2L462.1 221.3L463.1 221.4L464.1 221.5L465.1 221.6L466.1 221.7L467.1 221.7L468.1 221.8L469.1 221.8L470.1 221.8L471.1 221.9L472.1 221.9L473.1 222.0L474.1 222.0L475.1 222.1L476.1 222.2L477.1 222.3L478.1 222.4L479.1 222.6L480.1 222.8L481.1 223.0L482.1 223.2L483.1 223.5L484.1 223.8L485.1 224.0L486.1 224.3L487.1 224.6L488.1 224.8L489.1 225.0L490.1 225.2L491.1 225.4L492.1 225.5L493.1 225.6L494.1 225.7L495.1 225.7L496.1 225.7L497.1 225.5L498.1 225.4L499.1 225.1L500.1 224.9L501.1 224.5L502.1 223.9L503.1 223.2L504.1 222.3L505.1 221.3L506.1 220.0L507.1 218.5L508.1 216.9L509.1 215.2L510.1 213.3L511.1 211.2L512.1 208.9L513.1 206.5L514.1 203.7L515.1 200.5L516.1 196.9L517.1 192.6L518.1 187.9L519.1 183.1L520.1 178.5L521.1 173.8L522.1 169.2L523.1 164.8L524.1 160.8L525.1 156.7L526.1 152.5L527.1 147.7L528.1 142.6L529.1 137.2L530.1 131.8L531.1 126.5L532.1 121.2L533.1 115.8L534.1 110.4L535.1 104.9L536.1 99.3L537.1 93.9L538.1 89.0L539.1 84.6L540.1 80.7L541.1 77.8L542.1 75.3L543.1 73.2L544.1 71.6L545.1 70.2L546.1 69.3L547.1 68.7L548.1 68.3L549.1 68.1L550.1 68.1L551.1 68.3L552.1 68.7L553.1 69.1L554.1 69.6L555.1 70.4L556.1 71.2L557.1 72.2L558.1 73.2L559.1 74.5L560.1 76.1L561.1 77.8L562.1 79.7L563.1 81.6L564.1 83.5L565.1 85.3L566.1 87.0L567.1 88.8L568.1 90.6L569.1 92.5L570.1 94.3L571.1 96.0L572.1 97.6L573.1 99.0L574.1 100.1L575.1 101.1L576.1 102.0L577.1 102.9L578.1 103.6L579.1 104.4L580.1 105.1L581.1 105.9L582.1 106.7L583.1 107.6L584.1 108.5L585.1 109.5L586.1 110.4L587.1 111.4L588.1 112.4L589.1 113.5L590.1 114.7L591.1 115.9L592.1 117.2L593.1 118.6L594.1 120.2L595.1 121.9L596.1 123.6L597.1 125.4L598.1 127.1L599.1 128.8L600.1 130.5L601.1 132.3L602.1 134.0L603.1 135.8L604.1 137.5L605.1 139.3L606.1 141.0L607.1 142.6L608.1 144.2L609.1 145.7L610.1 147.2L611.1 148.7L612.1 150.2L613.1 151.7L614.1 153.3L615.1 155.0L616.1 156.7L617.1 158.4L618.1 160.1L619.1 161.8L620.1 163.6L621.1 165.3L622.1 167.0L623.1 168.7L624.1 170.3L625.1 171.9L626.1 173.5L627.1 175.2L628.1 176.8L629.1 178.4L630.1 180.0L631.1 181.6L632.1 183.2L633.1 184.7L634.1 186.2L635.1 187.6L636.1 189.0L637.1 190.3L638.1 191.5L639.1 192.7L640.1 193.8L641.1 194.9L642.1 196.0L643.1 197.0L644.1 198.0L645.1 199.0L646.1 200.0L647.1 200.9L648.1 201.8L649.1 202.7L650.1 203.6L651.1 204.5L652.1 205.3L653.1 206.1L654.1 206.9L655.1 207.7L656.1 208.5L657.1 209.3L658.1 210.0L659.1 210.7L660.1 211.4L661.1 212.1L662.1 212.8L663.1 213.5L664.1 214.1L665.1 214.8L666.1 215.4L667.1 216.0L668.1 216.6L669.1 217.2L670.1 217.8L671.1 218.3L672.1 218.9L673.1 219.5L674.1 220.0L675.1 220.6L676.1 221.1L677.1 221.6L678.1 222.2L679.1 222.7L680.1 223.2L681.1 223.8L682.1 224.3L683.1 224.8L684.1 225.3L685.1 225.8L686.1 226.2L687.1 226.7L688.1 227.1L689.1 227.5L690.1 227.9L691.1 228.3L692.1 228.6L693.1 229.0L694.1 229.3L695.1 229.7L696.1 230.0L697.1 230.3L698.1 230.6L699.1 230.9L700.1 231.2L701.1 231.5L702.1 231.8L703.1 232.0L704.1 232.3L705.1 232.5L706.1 232.8L707.1 233.0L708.1 233.2L709.1 233.5L710.1 233.7L711.1 234.0L712.1 234.2L713.1 234.5L714.1 234.7L715.1 235.0L716.1 235.3L717.1 235.5L718.1 235.8L719.1 236.1L720.1 236.4L721.1 236.6L722.1 236.9L723.1 237.2L724.1 237.5L725.1 237.8L726.1 238.1L727.1 238.4L728.1 238.7L729.1 239.0L730.1 239.3L731.9 239.8" fill="none" stroke="#5a5a5a" stroke-width="0.85"/>
<path d="M438.1 218.9L439.1 219.1L440.1 219.3L441.1 219.5L442.1 219.7L443.1 219.9L444.1 220.1L445.1 220.2L446.1 220.4L447.1 220.5L448.1 220.6L449.1 220.7L450.1 220.8L451.1 220.9L452.1 221.0L453.1 221.2L454.1 221.3L455.1 221.5L456.1 221.7L457.1 221.9L458.1 222.1L459.1 222.3L460.1 222.5L461.1 222.7L462.1 222.8L463.1 223.0L464.1 223.2L465.1 223.3L466.1 223.5L467.1 223.6L468.1 223.7L469.1 223.8L470.1 223.9L471.1 224.0L472.1 224.1L473.1 224.2L474.1 224.3L475.1 224.4L476.1 224.5L477.1 224.7L478.1 224.8L479.1 225.0L480.1 225.3L481.1 225.5L482.1 225.8L483.1 226.1L484.1 226.4L485.1 226.7L486.1 227.0L487.1 227.3L488.1 227.5L489.1 227.8L490.1 228.0L491.1 228.2L492.1 228.3L493.1 228.4L494.1 228.5L495.1 228.4L496.1 228.3L497.1 228.1L498.1 228.0L499.1 227.9L500.1 227.7L501.1 227.4L502.1 227.0L503.1 226.4L504.1 225.8L505.1 224.9L506.1 224.0L507.1 222.8L508.1 221.6L509.1 220.2L510.1 218.7L511.1 217.1L512.1 215.4L513.1 213.5L514.1 211.4L515.1 209.1L516.1 206.3L517.1 203.3L518.1 199.6L519.1 195.6L520.1 191.5L521.1 187.6L522.1 183.6L523.1 179.7L524.1 176.0L525.1 172.6L526.1 169.1L527.1 165.3L528.1 161.2L529.1 156.7L530.1 152.0L531.1 147.4L532.1 142.8L533.1 138.2L534.1 133.5L535.1 128.9L536.1 124.0L537.1 119.1L538.1 114.7L539.1 110.7L540.1 107.1L541.1 104.2L542.1 101.9L543.1 100.0L544.1 98.5L545.1 97.2L546.1 96.3L547.1 95.8L548.1 95.4L549.1 95.2L550.1 95.2L551.1 95.4L552.1 95.7L553.1 96.1L554.1 96.6L555.1 97.2L556.1 97.9L557.1 98.7L558.1 99.6L559.1 100.7L560.1 102.1L561.1 103.5L562.1 105.1L563.1 106.7L564.1 108.3L565.1 109.9L566.1 111.3L567.1 112.8L568.1 114.4L569.1 116.0L570.1 117.5L571.1 119.0L572.1 120.3L573.1 121.5L574.1 122.4L575.1 123.3L576.1 124.1L577.1 124.8L578.1 125.5L579.1 126.1L580.1 126.8L581.1 127.4L582.1 128.1L583.1 128.8L584.1 129.6L585.1 130.4L586.1 131.3L587.1 132.1L588.1 133.0L589.1 133.9L590.1 134.9L591.1 135.9L592.1 137.0L593.1 138.2L594.1 139.6L595.1 141.0L596.1 142.5L597.1 143.9L598.1 145.4L599.1 146.9L600.1 148.3L601.1 149.8L602.1 151.3L603.1 152.8L604.1 154.3L605.1 155.7L606.1 157.2L607.1 158.6L608.1 159.9L609.1 161.2L610.1 162.4L611.1 163.7L612.1 165.0L613.1 166.3L614.1 167.6L615.1 169.1L616.1 170.5L617.1 171.9L618.1 173.4L619.1 174.8L620.1 176.3L621.1 177.8L622.1 179.2L623.1 180.6L624.1 182.0L625.1 183.4L626.1 184.7L627.1 186.1L628.1 187.5L629.1 188.9L630.1 190.2L631.1 191.6L632.1 192.9L633.1 194.2L634.1 195.4L635.1 196.7L636.1 197.8L637.1 198.9L638.1 200.0L639.1 201.0L640.1 201.9L641.1 202.9L642.1 203.8L643.1 204.6L644.1 205.5L645.1 206.3L646.1 207.1L647.1 207.9L648.1 208.7L649.1 209.4L650.1 210.2L651.1 210.9L652.1 211.6L653.1 212.3L654.1 213.0L655.1 213.7L656.1 214.3L657.1 215.0L658.1 215.6L659.1 216.2L660.1 216.8L661.1 217.4L662.1 218.0L663.1 218.6L664.1 219.1L665.1 219.7L666.1 220.2L667.1 220.7L668.1 221.2L669.1 221.7L670.1 222.2L671.1 222.7L672.1 223.2L673.1 223.6L674.1 224.1L675.1 224.6L676.1 225.0L677.1 225.5L678.1 225.9L679.1 226.4L680.1 226.8L681.1 227.3L682.1 227.7L683.1 228.2L684.1 228.6L685.1 229.0L686.1 229.4L687.1 229.7L688.1 230.1L689.1 230.4L690.1 230.8L691.1 231.1L692.1 231.4L693.1 231.7L694.1 232.0L695.1 232.3L696.1 232.6L697.1 232.8L698.1 233.1L699.1 233.3L700.1 233.6L701.1 233.8L702.1 234.1L703.1 234.3L704.1 234.5L705.1 234.7L706.1 234.9L707.1 235.1L708.1 235.3L709.1 235.5L710.1 235.7L711.1 235.9L712.1 236.1L713.1 236.3L714.1 236.6L715.1 236.8L716.1 237.0L717.1 237.2L718.1 237.5L719.1 237.7L720.1 237.9L721.1 238.2L722.1 238.4L723.1 238.7L724.1 238.9L725.1 239.2L726.1 239.4L727.1 239.6L728.1 239.9L729.1 240.2L730.1 240.4L731.9 240.9" fill="none" stroke="#5a5a5a" stroke-width="0.85"/>
<path d="M438.1 219.9L439.1 220.1L440.1 220.2L441.1 220.4L442.1 220.6L443.1 220.7L444.1 220.9L445.1 221.0L446.1 221.1L447.1 221.2L448.1 221.3L449.1 221.4L450.1 221.6L451.1 221.7L452.1 221.9L453.1 222.1L454.1 222.3L455.1 222.5L456.1 222.8L457.1 223.0L458.1 223.3L459.1 223.6L460.1 223.9L461.1 224.1L462.1 224.4L463.1 224.7L464.1 224.9L465.1 225.2L466.1 225.4L467.1 225.5L468.1 225.7L469.1 225.9L470.1 226.1L471.1 226.2L472.1 226.4L473.1 226.5L474.1 226.7L475.1 226.9L476.1 227.0L477.1 227.2L478.1 227.4L479.1 227.7L480.1 227.9L481.1 228.2L482.1 228.5L483.1 228.8L484.1 229.1L485.1 229.5L486.1 229.8L487.1 230.1L488.1 230.5L489.1 230.8L490.1 231.0L491.1 231.2L492.1 231.4L493.1 231.5L494.1 231.6L495.1 231.5L496.1 231.4L497.1 231.2L498.1 231.2L499.1 231.2L500.1 231.1L501.1 231.0L502.1 230.7L503.1 230.4L504.1 230.0L505.1 229.4L506.1 228.8L507.1 228.0L508.1 227.1L509.1 226.2L510.1 225.2L511.1 224.0L512.1 222.8L513.1 221.5L514.1 220.1L515.1 218.6L516.1 216.9L517.1 215.0L518.1 212.7L519.1 210.1L520.1 207.1L521.1 203.9L522.1 200.7L523.1 197.5L524.1 194.3L525.1 191.3L526.1 188.4L527.1 185.6L528.1 182.7L529.1 179.4L530.1 175.8L531.1 172.0L532.1 168.1L533.1 164.3L534.1 160.5L535.1 156.7L536.1 152.8L537.1 148.7L538.1 144.7L539.1 141.0L540.1 137.7L541.1 134.8L542.1 132.6L543.1 130.9L544.1 129.4L545.1 128.3L546.1 127.4L547.1 126.9L548.1 126.6L549.1 126.4L550.1 126.4L551.1 126.5L552.1 126.8L553.1 127.1L554.1 127.5L555.1 128.0L556.1 128.6L557.1 129.2L558.1 129.9L559.1 130.8L560.1 131.9L561.1 133.0L562.1 134.3L563.1 135.6L564.1 136.9L565.1 138.1L566.1 139.3L567.1 140.5L568.1 141.7L569.1 142.9L570.1 144.2L571.1 145.3L572.1 146.4L573.1 147.3L574.1 148.1L575.1 148.8L576.1 149.4L577.1 150.0L578.1 150.5L579.1 151.1L580.1 151.6L581.1 152.1L582.1 152.7L583.1 153.2L584.1 153.9L585.1 154.5L586.1 155.2L587.1 155.9L588.1 156.6L589.1 157.3L590.1 158.1L591.1 158.9L592.1 159.8L593.1 160.8L594.1 161.8L595.1 163.0L596.1 164.1L597.1 165.3L598.1 166.5L599.1 167.6L600.1 168.8L601.1 169.9L602.1 171.1L603.1 172.3L604.1 173.5L605.1 174.6L606.1 175.8L607.1 176.9L608.1 178.0L609.1 179.0L610.1 180.0L611.1 180.9L612.1 181.9L613.1 183.0L614.1 184.1L615.1 185.2L616.1 186.3L617.1 187.5L618.1 188.6L619.1 189.8L620.1 190.9L621.1 192.1L622.1 193.2L623.1 194.4L624.1 195.5L625.1 196.5L626.1 197.6L627.1 198.7L628.1 199.8L629.1 200.9L630.1 202.0L631.1 203.0L632.1 204.1L633.1 205.1L634.1 206.1L635.1 207.1L636.1 208.0L637.1 208.8L638.1 209.7L639.1 210.5L640.1 211.2L641.1 212.0L642.1 212.7L643.1 213.4L644.1 214.0L645.1 214.7L646.1 215.3L647.1 216.0L648.1 216.6L649.1 217.2L650.1 217.8L651.1 218.3L652.1 218.9L653.1 219.5L654.1 220.0L655.1 220.5L656.1 221.1L657.1 221.6L658.1 222.1L659.1 222.6L660.1 223.0L661.1 223.5L662.1 224.0L663.1 224.4L664.1 224.9L665.1 225.3L666.1 225.7L667.1 226.1L668.1 226.5L669.1 226.9L670.1 227.3L671.1 227.7L672.1 228.0L673.1 228.4L674.1 228.8L675.1 229.2L676.1 229.5L677.1 229.9L678.1 230.2L679.1 230.6L680.1 231.0L681.1 231.3L682.1 231.7L683.1 232.0L684.1 232.3L685.1 232.7L686.1 233.0L687.1 233.3L688.1 233.5L689.1 233.8L690.1 234.1L691.1 234.3L692.1 234.6L693.1 234.8L694.1 235.1L695.1 235.3L696.1 235.5L697.1 235.7L698.1 235.9L699.1 236.1L700.1 236.3L701.1 236.5L702.1 236.7L703.1 236.9L704.1 237.1L705.1 237.2L706.1 237.4L707.1 237.5L708.1 237.7L709.1 237.9L710.1 238.0L711.1 238.2L712.1 238.3L713.1 238.5L714.1 238.7L715.1 238.9L716.1 239.0L717.1 239.2L718.1 239.4L719.1 239.6L720.1 239.8L721.1 240.0L722.1 240.2L723.1 240.3L724.1 240.5L725.1 240.7L726.1 240.9L727.1 241.1L728.1 241.3L729.1 241.5L730.1 241.7L731.9 242.1" fill="none" stroke="#5a5a5a" stroke-width="0.85"/>
<path d="M438.1 221.1L439.1 221.2L440.1 221.3L441.1 221.4L442.1 221.5L443.1 221.6L444.1 221.7L445.1 221.8L446.1 222.0L447.1 222.1L448.1 222.2L449.1 222.3L450.1 222.5L451.1 222.7L452.1 222.9L453.1 223.1L454.1 223.4L455.1 223.7L456.1 224.0L457.1 224.4L458.1 224.7L459.1 225.1L460.1 225.4L461.1 225.8L462.1 226.2L463.1 226.5L464.1 226.9L465.1 227.2L466.1 227.5L467.1 227.7L468.1 228.0L469.1 228.2L470.1 228.5L471.1 228.7L472.1 228.9L473.1 229.1L474.1 229.4L475.1 229.6L476.1 229.8L477.1 230.1L478.1 230.3L479.1 230.6L480.1 230.8L481.1 231.1L482.1 231.5L483.1 231.8L484.1 232.2L485.1 232.6L486.1 233.0L487.1 233.4L488.1 233.8L489.1 234.1L490.1 234.5L491.1 234.8L492.1 235.1L493.1 235.3L494.1 235.4L495.1 235.4L496.1 235.4L497.1 235.3L498.1 235.3L499.1 235.3L500.1 235.2L501.1 235.0L502.1 234.8L503.1 234.5L504.1 234.1L505.1 233.7L506.1 233.2L507.1 232.7L508.1 232.1L509.1 231.5L510.1 230.9L511.1 230.3L512.1 229.6L513.1 228.8L514.1 228.0L515.1 227.2L516.1 226.1L517.1 224.9L518.1 223.6L519.1 221.9L520.1 220.1L521.1 218.3L522.1 216.5L523.1 214.7L524.1 212.9L525.1 211.3L526.1 209.7L527.1 208.1L528.1 206.3L529.1 204.3L530.1 202.2L531.1 200.1L532.1 197.9L533.1 195.8L534.1 193.6L535.1 191.4L536.1 189.2L537.1 186.9L538.1 184.6L539.1 182.6L540.1 180.8L541.1 179.3L542.1 178.2L543.1 177.2L544.1 176.5L545.1 175.8L546.1 175.4L547.1 175.1L548.1 175.0L549.1 174.9L550.1 174.9L551.1 175.0L552.1 175.2L553.1 175.4L554.1 175.6L555.1 175.9L556.1 176.3L557.1 176.7L558.1 177.1L559.1 177.6L560.1 178.3L561.1 179.0L562.1 179.7L563.1 180.5L564.1 181.3L565.1 182.0L566.1 182.7L567.1 183.4L568.1 184.2L569.1 184.9L570.1 185.6L571.1 186.3L572.1 187.0L573.1 187.5L574.1 188.0L575.1 188.5L576.1 188.8L577.1 189.2L578.1 189.5L579.1 189.9L580.1 190.2L581.1 190.5L582.1 190.9L583.1 191.2L584.1 191.6L585.1 192.0L586.1 192.4L587.1 192.9L588.1 193.3L589.1 193.7L590.1 194.2L591.1 194.7L592.1 195.2L593.1 195.8L594.1 196.5L595.1 197.1L596.1 197.8L597.1 198.5L598.1 199.2L599.1 199.9L600.1 200.6L601.1 201.3L602.1 202.0L603.1 202.7L604.1 203.4L605.1 204.1L606.1 204.7L607.1 205.4L608.1 206.0L609.1 206.6L610.1 207.2L611.1 207.8L612.1 208.4L613.1 209.0L614.1 209.7L615.1 210.3L616.1 211.0L617.1 211.7L618.1 212.3L619.1 213.0L620.1 213.7L621.1 214.4L622.1 215.1L623.1 215.7L624.1 216.4L625.1 217.0L626.1 217.6L627.1 218.3L628.1 218.9L629.1 219.6L630.1 220.2L631.1 220.8L632.1 221.5L633.1 222.1L634.1 222.6L635.1 223.2L636.1 223.8L637.1 224.3L638.1 224.8L639.1 225.2L640.1 225.7L641.1 226.1L642.1 226.5L643.1 227.0L644.1 227.4L645.1 227.7L646.1 228.1L647.1 228.5L648.1 228.9L649.1 229.2L650.1 229.6L651.1 229.9L652.1 230.2L653.1 230.6L654.1 230.9L655.1 231.2L656.1 231.5L657.1 231.8L658.1 232.1L659.1 232.4L660.1 232.7L661.1 233.0L662.1 233.2L663.1 233.5L664.1 233.8L665.1 234.0L666.1 234.3L667.1 234.5L668.1 234.7L669.1 235.0L670.1 235.2L671.1 235.4L672.1 235.7L673.1 235.9L674.1 236.1L675.1 236.3L676.1 236.5L677.1 236.7L678.1 237.0L679.1 237.2L680.1 237.4L681.1 237.6L682.1 237.8L683.1 238.0L684.1 238.2L685.1 238.4L686.1 238.6L687.1 238.7L688.1 238.9L689.1 239.1L690.1 239.2L691.1 239.4L692.1 239.5L693.1 239.7L694.1 239.8L695.1 240.0L696.1 240.1L697.1 240.2L698.1 240.3L699.1 240.5L700.1 240.6L701.1 240.7L702.1 240.8L703.1 240.9L704.1 241.0L705.1 241.1L706.1 241.2L707.1 241.3L708.1 241.4L709.1 241.5L710.1 241.6L711.1 241.7L712.1 241.8L713.1 241.9L714.1 242.0L715.1 242.1L716.1 242.2L717.1 242.3L718.1 242.4L719.1 242.5L720.1 242.6L721.1 242.7L722.1 242.9L723.1 243.0L724.1 243.1L725.1 243.2L726.1 243.3L727.1 243.4L728.1 243.5L729.1 243.7L730.1 243.8L731.9 244.0" fill="none" stroke="#5a5a5a" stroke-width="0.85"/>
<path d="M438.1 222.0L439.1 222.1L440.1 222.1L441.1 222.1L442.1 222.2L443.1 222.3L444.1 222.4L445.1 222.5L446.1 222.6L447.1 222.7L448.1 222.8L449.1 223.0L450.1 223.1L451.1 223.4L452.1 223.6L453.1 223.9L454.1 224.2L455.1 224.6L456.1 225.0L457.1 225.3L458.1 225.8L459.1 226.2L460.1 226.6L461.1 227.0L462.1 227.5L463.1 227.9L464.1 228.3L465.1 228.7L466.1 229.1L467.1 229.4L468.1 229.7L469.1 230.0L470.1 230.3L471.1 230.6L472.1 230.8L473.1 231.1L474.1 231.4L475.1 231.6L476.1 231.9L477.1 232.2L478.1 232.5L479.1 232.8L480.1 233.1L481.1 233.4L482.1 233.7L483.1 234.1L484.1 234.6L485.1 235.0L486.1 235.4L487.1 235.9L488.1 236.4L489.1 236.8L490.1 237.3L491.1 237.7L492.1 238.1L493.1 238.5L494.1 238.8L495.1 239.0L496.1 239.2L497.1 239.3L498.1 239.5L499.1 239.6L500.1 239.6L501.1 239.6L502.1 239.5L503.1 239.4L504.1 239.3L505.1 239.2L506.1 239.1L507.1 239.0L508.1 238.9L509.1 238.8L510.1 238.7L511.1 238.5L512.1 238.4L513.1 238.2L514.1 238.1L515.1 237.9L516.1 237.7L517.1 237.5L518.1 237.3L519.1 237.0L520.1 236.8L521.1 236.7L522.1 236.5L523.1 236.3L524.1 236.1L525.1 235.9L526.1 235.7L527.1 235.4L528.1 235.2L529.1 234.9L530.1 234.7L531.1 234.4L532.1 234.1L533.1 233.9L534.1 233.6L535.1 233.3L536.1 233.1L537.1 232.9L538.1 232.7L539.1 232.5L540.1 232.3L541.1 232.2L542.1 232.1L543.1 232.1L544.1 232.0L545.1 232.0L546.1 232.0L547.1 232.0L548.1 232.0L549.1 232.0L550.1 232.1L551.1 232.1L552.1 232.2L553.1 232.2L554.1 232.3L555.1 232.4L556.1 232.5L557.1 232.6L558.1 232.7L559.1 232.8L560.1 233.0L561.1 233.1L562.1 233.3L563.1 233.4L564.1 233.6L565.1 233.7L566.1 233.9L567.1 234.0L568.1 234.2L569.1 234.4L570.1 234.5L571.1 234.7L572.1 234.8L573.1 235.0L574.1 235.1L575.1 235.2L576.1 235.3L577.1 235.4L578.1 235.5L579.1 235.6L580.1 235.7L581.1 235.8L582.1 235.9L583.1 236.0L584.1 236.1L585.1 236.2L586.1 236.3L587.1 236.4L588.1 236.5L589.1 236.7L590.1 236.8L591.1 236.9L592.1 237.0L593.1 237.1L594.1 237.3L595.1 237.4L596.1 237.5L597.1 237.7L598.1 237.8L599.1 237.9L600.1 238.1L601.1 238.2L602.1 238.3L603.1 238.5L604.1 238.6L605.1 238.7L606.1 238.8L607.1 239.0L608.1 239.1L609.1 239.2L610.1 239.3L611.1 239.4L612.1 239.5L613.1 239.7L614.1 239.8L615.1 239.9L616.1 240.0L617.1 240.2L618.1 240.3L619.1 240.4L620.1 240.5L621.1 240.7L622.1 240.8L623.1 240.9L624.1 241.0L625.1 241.1L626.1 241.3L627.1 241.4L628.1 241.5L629.1 241.6L630.1 241.7L631.1 241.8L632.1 241.9L633.1 242.1L634.1 242.2L635.1 242.3L636.1 242.4L637.1 242.5L638.1 242.6L639.1 242.6L640.1 242.7L641.1 242.8L642.1 242.9L643.1 243.0L644.1 243.0L645.1 243.1L646.1 243.2L647.1 243.3L648.1 243.3L649.1 243.4L650.1 243.5L651.1 243.5L652.1 243.6L653.1 243.7L654.1 243.7L655.1 243.8L656.1 243.8L657.1 243.9L658.1 243.9L659.1 244.0L660.1 244.0L661.1 244.1L662.1 244.2L663.1 244.2L664.1 244.2L665.1 244.3L666.1 244.3L667.1 244.4L668.1 244.4L669.1 244.5L670.1 244.5L671.1 244.6L672.1 244.6L673.1 244.7L674.1 244.7L675.1 244.7L676.1 244.8L677.1 244.8L678.1 244.9L679.1 244.9L680.1 244.9L681.1 245.0L682.1 245.0L683.1 245.1L684.1 245.1L685.1 245.1L686.1 245.2L687.1 245.2L688.1 245.2L689.1 245.3L690.1 245.3L691.1 245.3L692.1 245.4L693.1 245.4L694.1 245.4L695.1 245.5L696.1 245.5L697.1 245.5L698.1 245.5L699.1 245.6L700.1 245.6L701.1 245.6L702.1 245.6L703.1 245.7L704.1 245.7L705.1 245.7L706.1 245.7L707.1 245.7L708.1 245.8L709.1 245.8L710.1 245.8L711.1 245.8L712.1 245.8L713.1 245.9L714.1 245.9L715.1 245.9L716.1 245.9L717.1 245.9L718.1 246.0L719.1 246.0L720.1 246.0L721.1 246.0L722.1 246.0L723.1 246.1L724.1 246.1L725.1 246.1L726.1 246.1L727.1 246.1L728.1 246.1L729.1 246.2L730.1 246.2L731.9 246.2" fill="none" stroke="#5a5a5a" stroke-width="0.85"/>
<path d="M438.1 218.3L439.1 218.4L440.1 218.6L441.1 218.7L442.1 218.9L443.1 219.0L444.1 219.2L445.1 219.4L446.1 219.7L447.1 219.9L448.1 220.1L449.1 220.4L450.1 220.7L451.1 221.0L452.1 221.4L453.1 221.8L454.1 222.2L455.1 222.7L456.1 223.1L457.1 223.6L458.1 224.0L459.1 224.5L460.1 224.9L461.1 225.4L462.1 225.8L463.1 226.2L464.1 226.6L465.1 227.0L466.1 227.3L467.1 227.6L468.1 227.9L469.1 228.1L470.1 228.4L471.1 228.6L472.1 228.9L473.1 229.1L474.1 229.3L475.1 229.6L476.1 229.8L477.1 230.0L478.1 230.3L479.1 230.6L480.1 230.8L481.1 231.2L482.1 231.5L483.1 231.9L484.1 232.3L485.1 232.7L486.1 233.1L487.1 233.5L488.1 233.9L489.1 234.4L490.1 234.8L491.1 235.2L492.1 235.6L493.1 236.0L494.1 236.4L495.1 236.7L496.1 237.0L497.1 237.2L498.1 237.5L499.1 237.8L500.1 238.0L501.1 238.2L502.1 238.5L503.1 238.7L504.1 238.9L505.1 239.1L506.1 239.3L507.1 239.5L508.1 239.6L509.1 239.8L510.1 239.9L511.1 240.0L512.1 240.2L513.1 240.3L514.1 240.4L515.1 240.5L516.1 240.5L517.1 240.6L518.1 240.7L519.1 240.8L520.1 240.9L521.1 240.9L522.1 241.0L523.1 241.1L524.1 241.1L525.1 241.2L526.1 241.2L527.1 241.2L528.1 241.3L529.1 241.3L530.1 241.3L531.1 241.4L532.1 241.4L533.1 241.4L534.1 241.5L535.1 241.5L536.1 241.5L537.1 241.5L538.1 241.5L539.1 241.6L540.1 241.6L541.1 241.6L542.1 241.6L543.1 241.7L544.1 241.7L545.1 241.7L546.1 241.7L547.1 241.8L548.1 241.8L549.1 241.8L550.1 241.9L551.1 241.9L552.1 242.0L553.1 242.0L554.1 242.0L555.1 242.1L556.1 242.1L557.1 242.2L558.1 242.2L559.1 242.3L560.1 242.3L561.1 242.4L562.1 242.5L563.1 242.5L564.1 242.6L565.1 242.6L566.1 242.7L567.1 242.7L568.1 242.8L569.1 242.9L570.1 242.9L571.1 243.0L572.1 243.0L573.1 243.1L574.1 243.2L575.1 243.2L576.1 243.3L577.1 243.3L578.1 243.4L579.1 243.5L580.1 243.5L581.1 243.6L582.1 243.6L583.1 243.7L584.1 243.8L585.1 243.8L586.1 243.9L587.1 243.9L588.1 244.0L589.1 244.0L590.1 244.1L591.1 244.1L592.1 244.2L593.1 244.2L594.1 244.3L595.1 244.3L596.1 244.4L597.1 244.4L598.1 244.4L599.1 244.5L600.1 244.5L601.1 244.5L602.1 244.6L603.1 244.6L604.1 244.6L605.1 244.7L606.1 244.7L607.1 244.7L608.1 244.8L609.1 244.8L610.1 244.8L611.1 244.9L612.1 244.9L613.1 244.9L614.1 245.0L615.1 245.0L616.1 245.0L617.1 245.0L618.1 245.1L619.1 245.1L620.1 245.1L621.1 245.2L622.1 245.2L623.1 245.2L624.1 245.3L625.1 245.3L626.1 245.3L627.1 245.3L628.1 245.4L629.1 245.4L630.1 245.4L631.1 245.4L632.1 245.5L633.1 245.5L634.1 245.5L635.1 245.5L636.1 245.6L637.1 245.6L638.1 245.6L639.1 245.6L640.1 245.7L641.1 245.7L642.1 245.7L643.1 245.7L644.1 245.7L645.1 245.8L646.1 245.8L647.1 245.8L648.1 245.8L649.1 245.8L650.1 245.8L651.1 245.9L652.1 245.9L653.1 245.9L654.1 245.9L655.1 245.9L656.1 245.9L657.1 246.0L658.1 246.0L659.1 246.0L660.1 246.0L661.1 246.0L662.1 246.0L663.1 246.0L664.1 246.1L665.1 246.1L666.1 246.1L667.1 246.1L668.1 246.1L669.1 246.1L670.1 246.1L671.1 246.1L672.1 246.2L673.1 246.2L674.1 246.2L675.1 246.2L676.1 246.2L677.1 246.2L678.1 246.2L679.1 246.2L680.1 246.2L681.1 246.3L682.1 246.3L683.1 246.3L684.1 246.3L685.1 246.3L686.1 246.3L687.1 246.3L688.1 246.3L689.1 246.3L690.1 246.4L691.1 246.4L692.1 246.4L693.1 246.4L694.1 246.4L695.1 246.4L696.1 246.4L697.1 246.4L698.1 246.4L699.1 246.4L700.1 246.5L701.1 246.5L702.1 246.5L703.1 246.5L704.1 246.5L705.1 246.5L706.1 246.5L707.1 246.5L708.1 246.5L709.1 246.5L710.1 246.5L711.1 246.5L712.1 246.5L713.1 246.5L714.1 246.6L715.1 246.6L716.1 246.6L717.1 246.6L718.1 246.6L719.1 246.6L720.1 246.6L721.1 246.6L722.1 246.6L723.1 246.6L724.1 246.6L725.1 246.6L726.1 246.6L727.1 246.6L728.1 246.6L729.1 246.6L730.1 246.6L731.9 246.6" fill="none" stroke="#25257a" stroke-width="1.50"/>
<path d="M438.1 212.3L439.1 212.8L440.1 213.3L441.1 213.7L442.1 214.1L443.1 214.5L444.1 214.9L445.1 215.2L446.1 215.5L447.1 215.7L448.1 215.9L449.1 216.1L450.1 216.2L451.1 216.4L452.1 216.5L453.1 216.6L454.1 216.7L455.1 216.8L456.1 216.9L457.1 217.0L458.1 217.1L459.1 217.1L460.1 217.1L461.1 217.1L462.1 217.1L463.1 217.0L464.1 216.9L465.1 216.8L466.1 216.8L467.1 216.7L468.1 216.5L469.1 216.4L470.1 216.3L471.1 216.2L472.1 216.1L473.1 216.1L474.1 216.0L475.1 215.9L476.1 215.9L477.1 215.9L478.1 215.9L479.1 216.0L480.1 216.1L481.1 216.3L482.1 216.4L483.1 216.6L484.1 216.8L485.1 217.0L486.1 217.2L487.1 217.3L488.1 217.4L489.1 217.5L490.1 217.5L491.1 217.5L492.1 217.5L493.1 217.4L494.1 217.4L495.1 217.4L496.1 217.3L497.1 217.0L498.1 216.4L499.1 215.7L500.1 214.9L501.1 214.1L502.1 213.1L503.1 211.9L504.1 210.6L505.1 209.3L506.1 207.8L507.1 206.2L508.1 204.3L509.1 202.2L510.1 199.9L511.1 197.3L512.1 194.1L513.1 190.4L514.1 186.2L515.1 181.2L516.1 175.6L517.1 170.0L518.1 164.7L519.1 159.3L520.1 154.0L521.1 149.1L522.1 144.5L523.1 139.9L524.1 135.0L525.1 129.6L526.1 123.8L527.1 117.8L528.1 111.7L529.1 105.7L530.1 99.8L531.1 93.8L532.1 87.8L533.1 81.8L534.1 75.6L535.1 69.4L536.1 63.5L537.1 58.3L538.1 53.5L539.1 49.4L540.1 46.1L541.1 43.4L542.1 41.0L543.1 39.2L544.1 37.6L545.1 36.2L546.1 35.4L547.1 35.0L548.1 34.6L549.1 34.3L550.1 34.3L551.1 34.6L552.1 35.0L553.1 35.6L554.1 36.2L555.1 37.0L556.1 38.0L557.1 39.2L558.1 40.4L559.1 42.0L560.1 43.8L561.1 45.9L562.1 48.1L563.1 50.4L564.1 52.6L565.1 54.8L566.1 56.8L567.1 58.9L568.1 61.1L569.1 63.3L570.1 65.5L571.1 67.5L572.1 69.4L573.1 71.0L574.1 72.4L575.1 73.6L576.1 74.6L577.1 75.6L578.1 76.5L579.1 77.4L580.1 78.3L581.1 79.2L582.1 80.1L583.1 81.2L584.1 82.3L585.1 83.4L586.1 84.5L587.1 85.7L588.1 86.9L589.1 88.2L590.1 89.6L591.1 91.0L592.1 92.5L593.1 94.3L594.1 96.1L595.1 98.1L596.1 100.2L597.1 102.3L598.1 104.3L599.1 106.4L600.1 108.4L601.1 110.5L602.1 112.6L603.1 114.7L604.1 116.8L605.1 118.8L606.1 120.9L607.1 122.8L608.1 124.7L609.1 126.5L610.1 128.2L611.1 130.0L612.1 131.8L613.1 133.6L614.1 135.6L615.1 137.5L616.1 139.5L617.1 141.6L618.1 143.6L619.1 145.7L620.1 147.7L621.1 149.8L622.1 151.8L623.1 153.8L624.1 155.8L625.1 157.7L626.1 159.6L627.1 161.5L628.1 163.5L629.1 165.4L630.1 167.3L631.1 169.2L632.1 171.1L633.1 172.9L634.1 174.7L635.1 176.4L636.1 178.0L637.1 179.6L638.1 181.0L639.1 182.4L640.1 183.8L641.1 185.1L642.1 186.4L643.1 187.6L644.1 188.8L645.1 190.0L646.1 191.1L647.1 192.2L648.1 193.3L649.1 194.3L650.1 195.4L651.1 196.4L652.1 197.4L653.1 198.4L654.1 199.4L655.1 200.3L656.1 201.2L657.1 202.1L658.1 203.0L659.1 203.9L660.1 204.7L661.1 205.6L662.1 206.4L663.1 207.2L664.1 208.0L665.1 208.7L666.1 209.5L667.1 210.2L668.1 210.9L669.1 211.6L670.1 212.3L671.1 213.0L672.1 213.6L673.1 214.3L674.1 214.9L675.1 215.6L676.1 216.2L677.1 216.9L678.1 217.5L679.1 218.1L680.1 218.8L681.1 219.4L682.1 220.0L683.1 220.6L684.1 221.2L685.1 221.8L686.1 222.3L687.1 222.9L688.1 223.4L689.1 223.8L690.1 224.3L691.1 224.7L692.1 225.2L693.1 225.6L694.1 226.0L695.1 226.4L696.1 226.8L697.1 227.2L698.1 227.5L699.1 227.9L700.1 228.3L701.1 228.6L702.1 228.9L703.1 229.2L704.1 229.5L705.1 229.8L706.1 230.1L707.1 230.4L708.1 230.7L709.1 230.9L710.1 231.2L711.1 231.5L712.1 231.8L713.1 232.1L714.1 232.4L715.1 232.7L716.1 233.1L717.1 233.4L718.1 233.7L719.1 234.0L720.1 234.4L721.1 234.7L722.1 235.0L723.1 235.4L724.1 235.7L725.1 236.1L726.1 236.4L727.1 236.8L728.1 237.1L729.1 237.5L730.1 237.8L731.9 238.5" fill="none" stroke="#d42a2a" stroke-width="1.90"/>
</g>
<path d="M549.0 40.9 L556.5 98.3 L553.3 97.3 L553.3 210.6 L552.3 241.2 L549.0 214.6 L545.0 240.4 L544.7 210.6 L544.7 97.3 L541.5 98.3 Z" fill="#10c810"/>
<line x1="438.1" y1="18.4" x2="731.9" y2="18.4" stroke="#050505" stroke-width="2.6"/>
<line x1="731.9" y1="18.4" x2="731.9" y2="249.0" stroke="#050505" stroke-width="2.1"/>
<line x1="438.1" y1="249.0" x2="731.9" y2="249.0" stroke="#050505" stroke-width="2.5"/>
<line x1="438.1" y1="18.4" x2="438.1" y2="249.0" stroke="#050505" stroke-width="2.0"/>
<line x1="464.8" y1="249.0" x2="464.8" y2="254.0" stroke="#111" stroke-width="1.6"/>
<line x1="531.6" y1="249.0" x2="531.6" y2="254.0" stroke="#111" stroke-width="1.6"/>
<line x1="598.4" y1="249.0" x2="598.4" y2="254.0" stroke="#111" stroke-width="1.6"/>
<line x1="665.1" y1="249.0" x2="665.1" y2="254.0" stroke="#111" stroke-width="1.6"/>
<line x1="731.9" y1="249.0" x2="731.9" y2="254.0" stroke="#111" stroke-width="1.6"/>
<line x1="498.2" y1="249.0" x2="498.2" y2="252.5" stroke="#111" stroke-width="1.6"/>
<line x1="565.0" y1="249.0" x2="565.0" y2="252.5" stroke="#111" stroke-width="1.6"/>
<line x1="631.7" y1="249.0" x2="631.7" y2="252.5" stroke="#111" stroke-width="1.6"/>
<line x1="698.5" y1="249.0" x2="698.5" y2="252.5" stroke="#111" stroke-width="1.6"/>
<line x1="438.1" y1="249.0" x2="433.6" y2="249.0" stroke="#111" stroke-width="1.6"/>
<line x1="438.1" y1="191.3" x2="433.6" y2="191.3" stroke="#111" stroke-width="1.6"/>
<line x1="438.1" y1="133.7" x2="433.6" y2="133.7" stroke="#111" stroke-width="1.6"/>
<line x1="438.1" y1="76.1" x2="433.6" y2="76.1" stroke="#111" stroke-width="1.6"/>
<line x1="438.1" y1="18.4" x2="433.6" y2="18.4" stroke="#111" stroke-width="1.6"/>
<line x1="438.1" y1="220.2" x2="435.1" y2="220.2" stroke="#111" stroke-width="1.6"/>
<line x1="438.1" y1="162.5" x2="435.1" y2="162.5" stroke="#111" stroke-width="1.6"/>
<line x1="438.1" y1="104.9" x2="435.1" y2="104.9" stroke="#111" stroke-width="1.6"/>
<line x1="438.1" y1="47.2" x2="435.1" y2="47.2" stroke="#111" stroke-width="1.6"/>
<text x="430.6" y="252.6" font-size="16.0" font-weight="bold" text-anchor="end" fill="#000" >0</text>
<text x="430.6" y="194.9" font-size="16.0" font-weight="bold" text-anchor="end" fill="#000" >10</text>
<text x="430.6" y="137.3" font-size="16.0" font-weight="bold" text-anchor="end" fill="#000" >20</text>
<text x="430.6" y="79.7" font-size="16.0" font-weight="bold" text-anchor="end" fill="#000" >30</text>
<text x="430.6" y="22.0" font-size="16.0" font-weight="bold" text-anchor="end" fill="#000" >40</text>
<text x="464.8" y="270.4" font-size="16.0" font-weight="bold" text-anchor="middle" fill="#000" >450</text>
<text x="531.6" y="270.4" font-size="16.0" font-weight="bold" text-anchor="middle" fill="#000" >500</text>
<text x="598.4" y="270.4" font-size="16.0" font-weight="bold" text-anchor="middle" fill="#000" >550</text>
<text x="665.1" y="270.4" font-size="16.0" font-weight="bold" text-anchor="middle" fill="#000" >600</text>
<text x="731.9" y="270.4" font-size="16.0" font-weight="bold" text-anchor="middle" fill="#000" >650</text>
<text x="522.8" y="297.5" font-size="16.0" font-weight="bold" text-anchor="start" fill="#000" textLength="124.2" lengthAdjust="spacingAndGlyphs" stroke="#000" stroke-width="0.25">Wavelength(nm)</text>
<g transform="translate(394.8 149.2) rotate(-90)">
<text x="0" y="0" font-size="16.0" font-weight="bold" fill="#000" stroke="#000" stroke-width="0.3">F/F<tspan font-size="10.5" dy="7.0">0</tspan></text>
</g>
<text x="456.4" y="45.3" font-size="18.5" font-weight="normal" text-anchor="start" fill="#000" textLength="21.8" lengthAdjust="spacingAndGlyphs" stroke="#000" stroke-width="0.5">(B)</text>
<text x="576.0" y="43.5" font-size="12.0" font-weight="bold" text-anchor="start" fill="#000" textLength="21.8" lengthAdjust="spacingAndGlyphs" stroke="#000" stroke-width="0.25">Cys</text>
<g clip-path="url(#clipC)">
<path d="M58.9 504.5L59.9 504.7L60.9 504.8L61.9 505.0L62.9 505.2L63.9 505.4L64.9 505.5L65.9 505.7L66.9 505.9L67.9 506.1L68.9 506.3L69.9 506.5L70.9 506.7L71.9 506.9L72.9 507.0L73.9 507.2L74.9 507.4L75.9 507.6L76.9 507.8L77.9 508.0L78.9 508.2L79.9 508.4L80.9 508.7L81.9 508.9L82.9 509.2L83.9 509.4L84.9 509.7L85.9 509.9L86.9 510.0L87.9 510.1L88.9 510.1L89.9 510.0L90.9 509.6L91.9 508.8L92.9 508.1L93.9 507.0L94.9 505.4L95.9 503.3L96.9 500.6L97.9 497.4L98.9 493.7L99.9 489.6L100.9 485.1L101.9 480.3L102.9 475.3L103.9 470.2L104.9 465.0L105.9 459.9L106.9 454.6L107.9 449.4L108.9 444.3L109.9 439.3L110.9 434.3L111.9 429.5L112.9 424.8L113.9 420.0L114.9 414.8L115.9 409.1L116.9 403.2L117.9 397.2L118.9 390.9L119.9 384.3L120.9 378.0L121.9 372.3L122.9 367.1L123.9 362.8L124.9 358.9L125.9 355.6L126.9 352.9L127.9 350.6L128.9 348.9L129.9 347.7L130.9 346.8L131.9 346.1L132.9 345.9L133.9 346.1L134.9 346.7L135.9 347.5L136.9 348.5L137.9 349.7L138.9 351.4L139.9 353.3L140.9 355.1L141.9 356.8L142.9 358.5L143.9 360.2L144.9 361.9L145.9 363.6L146.9 365.2L147.9 366.9L148.9 368.5L149.9 370.1L150.9 371.6L151.9 373.2L152.9 374.7L153.9 376.1L154.9 377.5L155.9 378.9L156.9 380.1L157.9 381.3L158.9 382.3L159.9 383.3L160.9 384.2L161.9 385.0L162.9 385.9L163.9 386.8L164.9 387.8L165.9 388.9L166.9 390.1L167.9 391.4L168.9 393.0L169.9 394.6L170.9 396.4L171.9 398.2L172.9 400.1L173.9 402.0L174.9 403.8L175.9 405.7L176.9 407.5L177.9 409.4L178.9 411.4L179.9 413.3L180.9 415.3L181.9 417.4L182.9 419.4L183.9 421.6L184.9 423.8L185.9 426.1L186.9 428.4L187.9 430.7L188.9 433.0L189.9 435.3L190.9 437.4L191.9 439.5L192.9 441.5L193.9 443.5L194.9 445.5L195.9 447.5L196.9 449.5L197.9 451.6L198.9 453.7L199.9 455.8L200.9 458.0L201.9 460.1L202.9 462.2L203.9 464.1L204.9 466.1L205.9 467.9L206.9 469.8L207.9 471.7L208.9 473.5L209.9 475.2L210.9 476.9L211.9 478.6L212.9 480.2L213.9 481.7L214.9 483.2L215.9 484.6L216.9 486.0L217.9 487.3L218.9 488.6L219.9 489.8L220.9 491.0L221.9 492.1L222.9 493.3L223.9 494.4L224.9 495.5L225.9 496.5L226.9 497.6L227.9 498.7L228.9 499.7L229.9 500.8L230.9 501.8L231.9 502.8L232.9 503.8L233.9 504.8L234.9 505.8L235.9 506.8L236.9 507.7L237.9 508.6L238.9 509.5L239.9 510.4L240.9 511.3L241.9 512.2L242.9 513.0L243.9 513.9L244.9 514.7L245.9 515.5L246.9 516.3L247.9 517.1L248.9 517.8L249.9 518.5L250.9 519.2L251.9 519.8L252.9 520.4L253.9 521.0L254.9 521.6L255.9 522.1L256.9 522.6L257.9 523.1L258.9 523.6L259.9 524.1L260.9 524.5L261.9 524.9L262.9 525.3L263.9 525.8L264.9 526.1L265.9 526.5L266.9 526.9L267.9 527.2L268.9 527.6L269.9 527.9L270.9 528.2L271.9 528.5L272.9 528.9L273.9 529.2L274.9 529.5L275.9 529.7L276.9 530.0L277.9 530.3L278.9 530.6L279.9 530.9L280.9 531.2L281.9 531.4L282.9 531.7L283.9 532.0L284.9 532.2L285.9 532.5L286.9 532.7L287.9 532.9L288.9 533.1L289.9 533.4L290.9 533.6L291.9 533.8L292.9 534.0L293.9 534.2L294.9 534.4L295.9 534.6L296.9 534.8L297.9 535.0L298.9 535.1L299.9 535.3L300.9 535.4L301.9 535.5L302.9 535.7L303.9 535.8L304.9 535.9L305.9 536.0L306.9 536.1L307.9 536.2L308.9 536.3L309.9 536.4L310.9 536.5L311.9 536.6L312.9 536.7L313.9 536.7L314.9 536.8L315.9 536.9L316.9 537.0L317.9 537.0L318.9 537.1L319.9 537.2L320.9 537.2L321.9 537.3L322.9 537.3L323.9 537.3L324.9 537.4L325.9 537.4L326.9 537.4L327.9 537.4L328.9 537.4L329.9 537.4L330.9 537.4L331.9 537.4L332.9 537.4L333.9 537.4L334.9 537.4L335.9 537.4L336.9 537.4L337.9 537.4L338.9 537.4L339.9 537.4L340.9 537.4L341.9 537.4L342.9 537.4L343.9 537.4L344.9 537.4L345.9 537.4L346.9 537.4L347.9 537.4L348.9 537.4L349.9 537.4L350.9 537.4L351.9 537.4L353.0 537.4" fill="none" stroke="#555555" stroke-width="0.85"/>
<path d="M58.9 494.0L59.9 494.2L60.9 494.3L61.9 494.5L62.9 494.7L63.9 494.9L64.9 495.0L65.9 495.2L66.9 495.4L67.9 495.6L68.9 495.8L69.9 496.0L70.9 496.2L71.9 496.4L72.9 496.5L73.9 496.7L74.9 496.9L75.9 497.1L76.9 497.3L77.9 497.5L78.9 497.8L79.9 498.0L80.9 498.3L81.9 498.5L82.9 498.8L83.9 499.1L84.9 499.4L85.9 499.6L86.9 499.9L87.9 500.1L88.9 500.2L89.9 500.1L90.9 499.9L91.9 499.4L92.9 499.0L93.9 498.2L94.9 497.1L95.9 495.6L96.9 493.5L97.9 491.0L98.9 488.1L99.9 484.9L100.9 481.3L101.9 477.5L102.9 473.5L103.9 469.3L104.9 465.1L105.9 460.9L106.9 456.5L107.9 452.1L108.9 447.7L109.9 443.4L110.9 439.1L111.9 434.8L112.9 430.7L113.9 426.4L114.9 421.7L115.9 416.6L116.9 411.2L117.9 405.6L118.9 399.8L119.9 393.7L120.9 387.8L121.9 382.5L122.9 377.5L123.9 373.4L124.9 369.7L125.9 366.6L126.9 364.1L127.9 361.9L128.9 360.3L129.9 359.1L130.9 358.3L131.9 357.7L132.9 357.4L133.9 357.7L134.9 358.3L135.9 359.1L136.9 360.0L137.9 361.2L138.9 362.8L139.9 364.6L140.9 366.4L141.9 368.0L142.9 369.6L143.9 371.2L144.9 372.8L145.9 374.4L146.9 376.0L147.9 377.6L148.9 379.1L149.9 380.6L150.9 382.1L151.9 383.5L152.9 385.0L153.9 386.3L154.9 387.7L155.9 388.9L156.9 390.1L157.9 391.1L158.9 392.1L159.9 393.0L160.9 393.8L161.9 394.7L162.9 395.5L163.9 396.4L164.9 397.4L165.9 398.5L166.9 399.7L167.9 401.1L168.9 402.6L169.9 404.2L170.9 406.0L171.9 407.7L172.9 409.5L173.9 411.3L174.9 413.0L175.9 414.8L176.9 416.6L177.9 418.4L178.9 420.3L179.9 422.2L180.9 424.1L181.9 426.1L182.9 428.1L183.9 430.2L184.9 432.4L185.9 434.6L186.9 436.8L187.9 439.0L188.9 441.1L189.9 443.2L190.9 445.2L191.9 447.1L192.9 449.0L193.9 450.9L194.9 452.8L195.9 454.7L196.9 456.7L197.9 458.7L198.9 460.7L199.9 462.8L200.9 464.8L201.9 466.8L202.9 468.7L203.9 470.5L204.9 472.3L205.9 474.1L206.9 475.8L207.9 477.5L208.9 479.2L209.9 480.8L210.9 482.4L211.9 483.9L212.9 485.4L213.9 486.8L214.9 488.1L215.9 489.4L216.9 490.7L217.9 491.9L218.9 493.0L219.9 494.1L220.9 495.2L221.9 496.3L222.9 497.4L223.9 498.4L224.9 499.4L225.9 500.4L226.9 501.5L227.9 502.5L228.9 503.5L229.9 504.5L230.9 505.4L231.9 506.4L232.9 507.3L233.9 508.3L234.9 509.2L235.9 510.1L236.9 510.9L237.9 511.8L238.9 512.6L239.9 513.4L240.9 514.3L241.9 515.1L242.9 515.9L243.9 516.7L244.9 517.5L245.9 518.2L246.9 518.9L247.9 519.6L248.9 520.3L249.9 520.9L250.9 521.5L251.9 522.0L252.9 522.5L253.9 523.1L254.9 523.6L255.9 524.0L256.9 524.5L257.9 524.9L258.9 525.4L259.9 525.8L260.9 526.2L261.9 526.6L262.9 526.9L263.9 527.3L264.9 527.7L265.9 528.0L266.9 528.3L267.9 528.6L268.9 528.9L269.9 529.2L270.9 529.5L271.9 529.8L272.9 530.1L273.9 530.4L274.9 530.7L275.9 531.0L276.9 531.2L277.9 531.5L278.9 531.8L279.9 532.0L280.9 532.3L281.9 532.5L282.9 532.8L283.9 533.0L284.9 533.2L285.9 533.4L286.9 533.6L287.9 533.9L288.9 534.1L289.9 534.3L290.9 534.5L291.9 534.7L292.9 534.9L293.9 535.0L294.9 535.2L295.9 535.4L296.9 535.5L297.9 535.7L298.9 535.8L299.9 535.9L300.9 536.0L301.9 536.2L302.9 536.3L303.9 536.4L304.9 536.5L305.9 536.6L306.9 536.7L307.9 536.8L308.9 536.8L309.9 536.9L310.9 537.0L311.9 537.1L312.9 537.1L313.9 537.2L314.9 537.3L315.9 537.4L316.9 537.4L317.9 537.5L318.9 537.5L319.9 537.6L320.9 537.6L321.9 537.6L322.9 537.6L323.9 537.6L324.9 537.6L325.9 537.6L326.9 537.6L327.9 537.6L328.9 537.6L329.9 537.7L330.9 537.7L331.9 537.7L332.9 537.7L333.9 537.7L334.9 537.7L335.9 537.7L336.9 537.7L337.9 537.7L338.9 537.7L339.9 537.7L340.9 537.7L341.9 537.7L342.9 537.7L343.9 537.7L344.9 537.7L345.9 537.7L346.9 537.7L347.9 537.7L348.9 537.7L349.9 537.7L350.9 537.7L351.9 537.7L353.0 537.7" fill="none" stroke="#555555" stroke-width="0.85"/>
<path d="M58.9 504.9L59.9 505.1L60.9 505.3L61.9 505.5L62.9 505.8L63.9 506.0L64.9 506.2L65.9 506.4L66.9 506.6L67.9 506.9L68.9 507.1L69.9 507.3L70.9 507.6L71.9 507.8L72.9 508.0L73.9 508.2L74.9 508.4L75.9 508.6L76.9 508.9L77.9 509.1L78.9 509.3L79.9 509.6L80.9 509.8L81.9 510.1L82.9 510.3L83.9 510.6L84.9 510.9L85.9 511.1L86.9 511.3L87.9 511.4L88.9 511.4L89.9 511.3L90.9 510.9L91.9 510.3L92.9 509.7L93.9 508.7L94.9 507.3L95.9 505.4L96.9 503.0L97.9 500.2L98.9 496.9L99.9 493.3L100.9 489.4L101.9 485.2L102.9 480.9L103.9 476.5L104.9 472.0L105.9 467.5L106.9 463.0L107.9 458.5L108.9 454.0L109.9 449.7L110.9 445.4L111.9 441.2L112.9 437.2L113.9 433.0L114.9 428.5L115.9 423.6L116.9 418.5L117.9 413.2L118.9 407.7L119.9 401.9L120.9 396.5L121.9 391.5L122.9 387.0L123.9 383.2L124.9 379.8L125.9 376.9L126.9 374.6L127.9 372.6L128.9 371.1L129.9 370.1L130.9 369.3L131.9 368.7L132.9 368.5L133.9 368.8L134.9 369.3L135.9 370.1L136.9 371.0L137.9 372.1L138.9 373.7L139.9 375.4L140.9 377.0L141.9 378.6L142.9 380.1L143.9 381.6L144.9 383.1L145.9 384.7L146.9 386.2L147.9 387.7L148.9 389.1L149.9 390.5L150.9 391.9L151.9 393.3L152.9 394.6L153.9 395.9L154.9 397.2L155.9 398.3L156.9 399.4L157.9 400.4L158.9 401.3L159.9 402.1L160.9 402.9L161.9 403.7L162.9 404.5L163.9 405.4L164.9 406.4L165.9 407.4L166.9 408.6L167.9 410.0L168.9 411.5L169.9 413.1L170.9 414.7L171.9 416.4L172.9 418.1L173.9 419.8L174.9 421.4L175.9 423.1L176.9 424.8L177.9 426.6L178.9 428.3L179.9 430.2L180.9 432.0L181.9 433.9L182.9 435.9L183.9 437.9L184.9 440.0L185.9 442.0L186.9 444.1L187.9 446.2L188.9 448.1L189.9 450.1L190.9 451.9L191.9 453.8L192.9 455.6L193.9 457.3L194.9 459.1L195.9 461.0L196.9 462.8L197.9 464.8L198.9 466.7L199.9 468.7L200.9 470.6L201.9 472.4L202.9 474.1L203.9 475.8L204.9 477.5L205.9 479.2L206.9 480.8L207.9 482.4L208.9 484.0L209.9 485.5L210.9 486.9L211.9 488.3L212.9 489.7L213.9 491.0L214.9 492.2L215.9 493.4L216.9 494.5L217.9 495.6L218.9 496.7L219.9 497.7L220.9 498.8L221.9 499.8L222.9 500.8L223.9 501.7L224.9 502.7L225.9 503.7L226.9 504.6L227.9 505.6L228.9 506.5L229.9 507.5L230.9 508.4L231.9 509.3L232.9 510.1L233.9 511.0L234.9 511.9L235.9 512.7L236.9 513.5L237.9 514.3L238.9 515.1L239.9 515.9L240.9 516.7L241.9 517.4L242.9 518.2L243.9 518.9L244.9 519.6L245.9 520.3L246.9 521.0L247.9 521.6L248.9 522.1L249.9 522.7L250.9 523.2L251.9 523.7L252.9 524.2L253.9 524.7L254.9 525.1L255.9 525.6L256.9 526.0L257.9 526.4L258.9 526.8L259.9 527.2L260.9 527.5L261.9 527.9L262.9 528.2L263.9 528.5L264.9 528.9L265.9 529.2L266.9 529.5L267.9 529.8L268.9 530.0L269.9 530.3L270.9 530.6L271.9 530.9L272.9 531.1L273.9 531.4L274.9 531.7L275.9 531.9L276.9 532.2L277.9 532.4L278.9 532.7L279.9 532.9L280.9 533.1L281.9 533.4L282.9 533.6L283.9 533.8L284.9 534.0L285.9 534.2L286.9 534.4L287.9 534.6L288.9 534.8L289.9 535.0L290.9 535.2L291.9 535.3L292.9 535.5L293.9 535.7L294.9 535.8L295.9 536.0L296.9 536.1L297.9 536.2L298.9 536.3L299.9 536.4L300.9 536.6L301.9 536.7L302.9 536.8L303.9 536.9L304.9 536.9L305.9 537.0L306.9 537.1L307.9 537.2L308.9 537.3L309.9 537.3L310.9 537.4L311.9 537.5L312.9 537.6L313.9 537.6L314.9 537.7L315.9 537.7L316.9 537.8L317.9 537.8L318.9 537.9L319.9 537.9L320.9 537.9L321.9 537.9L322.9 537.9L323.9 537.9L324.9 537.9L325.9 537.9L326.9 537.9L327.9 537.9L328.9 537.9L329.9 538.0L330.9 538.0L331.9 538.0L332.9 538.0L333.9 538.0L334.9 538.0L335.9 538.0L336.9 538.0L337.9 538.0L338.9 538.0L339.9 538.0L340.9 538.0L341.9 538.0L342.9 538.0L343.9 538.0L344.9 538.0L345.9 538.0L346.9 538.0L347.9 538.1L348.9 538.1L349.9 538.1L350.9 538.1L351.9 538.1L353.0 538.1" fill="none" stroke="#555555" stroke-width="0.85"/>
<path d="M58.9 505.4L59.9 505.6L60.9 505.8L61.9 506.1L62.9 506.3L63.9 506.6L64.9 506.8L65.9 507.1L66.9 507.3L67.9 507.6L68.9 507.9L69.9 508.2L70.9 508.4L71.9 508.7L72.9 509.0L73.9 509.2L74.9 509.4L75.9 509.7L76.9 509.9L77.9 510.2L78.9 510.4L79.9 510.7L80.9 511.0L81.9 511.2L82.9 511.5L83.9 511.8L84.9 512.0L85.9 512.3L86.9 512.5L87.9 512.6L88.9 512.6L89.9 512.5L90.9 512.1L91.9 511.5L92.9 510.9L93.9 510.1L94.9 508.9L95.9 507.1L96.9 505.0L97.9 502.4L98.9 499.4L99.9 496.1L100.9 492.5L101.9 488.6L102.9 484.6L103.9 480.5L104.9 476.2L105.9 472.1L106.9 467.8L107.9 463.6L108.9 459.4L109.9 455.3L110.9 451.2L111.9 447.2L112.9 443.4L113.9 439.6L114.9 435.4L115.9 430.8L116.9 426.0L117.9 421.0L118.9 415.8L119.9 410.4L120.9 405.1L121.9 400.3L122.9 395.9L123.9 392.2L124.9 388.9L125.9 386.1L126.9 383.8L127.9 381.9L128.9 380.4L129.9 379.4L130.9 378.7L131.9 378.1L132.9 378.0L133.9 378.2L134.9 378.8L135.9 379.5L136.9 380.3L137.9 381.5L138.9 383.0L139.9 384.6L140.9 386.1L141.9 387.6L142.9 389.0L143.9 390.5L144.9 391.9L145.9 393.4L146.9 394.9L147.9 396.3L148.9 397.7L149.9 399.0L150.9 400.3L151.9 401.6L152.9 402.9L153.9 404.1L154.9 405.3L155.9 406.4L156.9 407.4L157.9 408.3L158.9 409.2L159.9 409.9L160.9 410.7L161.9 411.5L162.9 412.3L163.9 413.1L164.9 414.0L165.9 415.1L166.9 416.3L167.9 417.6L168.9 419.1L169.9 420.6L170.9 422.2L171.9 423.8L172.9 425.4L173.9 427.0L174.9 428.6L175.9 430.2L176.9 431.9L177.9 433.5L178.9 435.2L179.9 437.0L180.9 438.8L181.9 440.6L182.9 442.5L183.9 444.4L184.9 446.4L185.9 448.4L186.9 450.4L187.9 452.3L188.9 454.2L189.9 456.0L190.9 457.7L191.9 459.4L192.9 461.1L193.9 462.9L194.9 464.6L195.9 466.3L196.9 468.2L197.9 470.0L198.9 471.9L199.9 473.7L200.9 475.5L201.9 477.1L202.9 478.8L203.9 480.4L204.9 482.0L205.9 483.6L206.9 485.1L207.9 486.6L208.9 488.1L209.9 489.5L210.9 490.8L211.9 492.1L212.9 493.3L213.9 494.5L214.9 495.7L215.9 496.8L216.9 497.8L217.9 498.9L218.9 499.9L219.9 500.8L220.9 501.8L221.9 502.8L222.9 503.7L223.9 504.6L224.9 505.5L225.9 506.5L226.9 507.4L227.9 508.3L228.9 509.2L229.9 510.0L230.9 510.9L231.9 511.7L232.9 512.6L233.9 513.4L234.9 514.2L235.9 514.9L236.9 515.7L237.9 516.5L238.9 517.2L239.9 518.0L240.9 518.7L241.9 519.4L242.9 520.1L243.9 520.8L244.9 521.5L245.9 522.1L246.9 522.7L247.9 523.2L248.9 523.7L249.9 524.2L250.9 524.7L251.9 525.2L252.9 525.6L253.9 526.0L254.9 526.5L255.9 526.9L256.9 527.2L257.9 527.6L258.9 528.0L259.9 528.3L260.9 528.7L261.9 529.0L262.9 529.3L263.9 529.6L264.9 529.9L265.9 530.2L266.9 530.4L267.9 530.7L268.9 531.0L269.9 531.2L270.9 531.5L271.9 531.8L272.9 532.0L273.9 532.3L274.9 532.5L275.9 532.8L276.9 533.0L277.9 533.2L278.9 533.4L279.9 533.7L280.9 533.9L281.9 534.1L282.9 534.3L283.9 534.5L284.9 534.7L285.9 534.9L286.9 535.1L287.9 535.2L288.9 535.4L289.9 535.6L290.9 535.8L291.9 535.9L292.9 536.1L293.9 536.2L294.9 536.3L295.9 536.5L296.9 536.6L297.9 536.7L298.9 536.8L299.9 536.9L300.9 537.0L301.9 537.1L302.9 537.2L303.9 537.3L304.9 537.3L305.9 537.4L306.9 537.5L307.9 537.6L308.9 537.6L309.9 537.7L310.9 537.8L311.9 537.8L312.9 537.9L313.9 538.0L314.9 538.0L315.9 538.1L316.9 538.1L317.9 538.1L318.9 538.1L319.9 538.1L320.9 538.1L321.9 538.2L322.9 538.2L323.9 538.2L324.9 538.2L325.9 538.2L326.9 538.2L327.9 538.2L328.9 538.2L329.9 538.2L330.9 538.2L331.9 538.2L332.9 538.2L333.9 538.2L334.9 538.2L335.9 538.3L336.9 538.3L337.9 538.3L338.9 538.3L339.9 538.3L340.9 538.3L341.9 538.3L342.9 538.3L343.9 538.3L344.9 538.3L345.9 538.3L346.9 538.3L347.9 538.3L348.9 538.3L349.9 538.3L350.9 538.3L351.9 538.3L353.0 538.3" fill="none" stroke="#555555" stroke-width="0.85"/>
<path d="M58.9 505.8L59.9 506.1L60.9 506.3L61.9 506.6L62.9 506.9L63.9 507.2L64.9 507.5L65.9 507.8L66.9 508.1L67.9 508.4L68.9 508.7L69.9 509.0L70.9 509.3L71.9 509.6L72.9 509.9L73.9 510.2L74.9 510.5L75.9 510.7L76.9 511.0L77.9 511.3L78.9 511.5L79.9 511.8L80.9 512.1L81.9 512.4L82.9 512.7L83.9 512.9L84.9 513.2L85.9 513.5L86.9 513.7L87.9 513.8L88.9 513.8L89.9 513.7L90.9 513.3L91.9 512.7L92.9 512.2L93.9 511.5L94.9 510.5L95.9 509.0L96.9 507.1L97.9 504.8L98.9 502.1L99.9 499.1L100.9 495.8L101.9 492.3L102.9 488.5L103.9 484.7L104.9 480.8L105.9 476.9L106.9 472.9L107.9 468.9L108.9 465.0L109.9 461.1L110.9 457.2L111.9 453.4L112.9 449.8L113.9 446.1L114.9 442.3L115.9 438.1L116.9 433.5L117.9 428.8L118.9 423.9L119.9 418.8L120.9 413.7L121.9 409.0L122.9 404.7L123.9 400.9L124.9 397.7L125.9 394.9L126.9 392.6L127.9 390.8L128.9 389.3L129.9 388.3L130.9 387.6L131.9 387.0L132.9 386.9L133.9 387.1L134.9 387.6L135.9 388.3L136.9 389.1L137.9 390.2L138.9 391.7L139.9 393.2L140.9 394.7L141.9 396.1L142.9 397.5L143.9 398.9L144.9 400.3L145.9 401.7L146.9 403.0L147.9 404.4L148.9 405.7L149.9 407.0L150.9 408.2L151.9 409.5L152.9 410.7L153.9 411.8L154.9 412.9L155.9 414.0L156.9 414.9L157.9 415.8L158.9 416.5L159.9 417.3L160.9 418.0L161.9 418.7L162.9 419.5L163.9 420.3L164.9 421.3L165.9 422.3L166.9 423.5L167.9 424.8L168.9 426.2L169.9 427.7L170.9 429.3L171.9 430.8L172.9 432.3L173.9 433.8L174.9 435.3L175.9 436.9L176.9 438.5L177.9 440.1L178.9 441.7L179.9 443.4L180.9 445.1L181.9 446.9L182.9 448.7L183.9 450.6L184.9 452.5L185.9 454.4L186.9 456.2L187.9 458.0L188.9 459.8L189.9 461.4L190.9 463.1L191.9 464.7L192.9 466.4L193.9 468.0L194.9 469.7L195.9 471.4L196.9 473.1L197.9 474.9L198.9 476.7L199.9 478.4L200.9 480.0L201.9 481.6L202.9 483.1L203.9 484.6L204.9 486.1L205.9 487.6L206.9 489.1L207.9 490.5L208.9 491.8L209.9 493.1L210.9 494.4L211.9 495.6L212.9 496.7L213.9 497.8L214.9 498.9L215.9 499.9L216.9 500.9L217.9 501.9L218.9 502.8L219.9 503.7L220.9 504.6L221.9 505.5L222.9 506.4L223.9 507.3L224.9 508.2L225.9 509.1L226.9 509.9L227.9 510.8L228.9 511.6L229.9 512.4L230.9 513.2L231.9 514.0L232.9 514.8L233.9 515.6L234.9 516.3L235.9 517.0L236.9 517.8L237.9 518.5L238.9 519.2L239.9 519.9L240.9 520.6L241.9 521.3L242.9 521.9L243.9 522.5L244.9 523.1L245.9 523.7L246.9 524.2L247.9 524.7L248.9 525.2L249.9 525.6L250.9 526.1L251.9 526.5L252.9 526.9L253.9 527.3L254.9 527.7L255.9 528.1L256.9 528.4L257.9 528.8L258.9 529.1L259.9 529.4L260.9 529.7L261.9 530.0L262.9 530.3L263.9 530.6L264.9 530.8L265.9 531.1L266.9 531.4L267.9 531.6L268.9 531.9L269.9 532.1L270.9 532.4L271.9 532.6L272.9 532.8L273.9 533.1L274.9 533.3L275.9 533.5L276.9 533.7L277.9 534.0L278.9 534.2L279.9 534.4L280.9 534.6L281.9 534.8L282.9 535.0L283.9 535.1L284.9 535.3L285.9 535.5L286.9 535.7L287.9 535.8L288.9 536.0L289.9 536.2L290.9 536.3L291.9 536.5L292.9 536.6L293.9 536.7L294.9 536.8L295.9 536.9L296.9 537.0L297.9 537.1L298.9 537.2L299.9 537.3L300.9 537.4L301.9 537.5L302.9 537.6L303.9 537.6L304.9 537.7L305.9 537.8L306.9 537.9L307.9 537.9L308.9 538.0L309.9 538.1L310.9 538.1L311.9 538.2L312.9 538.2L313.9 538.3L314.9 538.3L315.9 538.3L316.9 538.4L317.9 538.4L318.9 538.4L319.9 538.4L320.9 538.4L321.9 538.4L322.9 538.4L323.9 538.4L324.9 538.4L325.9 538.4L326.9 538.4L327.9 538.5L328.9 538.5L329.9 538.5L330.9 538.5L331.9 538.5L332.9 538.5L333.9 538.5L334.9 538.5L335.9 538.5L336.9 538.5L337.9 538.5L338.9 538.5L339.9 538.6L340.9 538.6L341.9 538.6L342.9 538.6L343.9 538.6L344.9 538.6L345.9 538.6L346.9 538.6L347.9 538.6L348.9 538.6L349.9 538.6L350.9 538.6L351.9 538.6L353.0 538.6" fill="none" stroke="#555555" stroke-width="0.85"/>
<path d="M58.9 506.2L59.9 506.5L60.9 506.8L61.9 507.2L62.9 507.5L63.9 507.8L64.9 508.1L65.9 508.4L66.9 508.8L67.9 509.1L68.9 509.5L69.9 509.8L70.9 510.2L71.9 510.5L72.9 510.9L73.9 511.2L74.9 511.5L75.9 511.8L76.9 512.0L77.9 512.3L78.9 512.6L79.9 512.9L80.9 513.2L81.9 513.5L82.9 513.8L83.9 514.1L84.9 514.4L85.9 514.6L86.9 514.8L87.9 515.0L88.9 515.0L89.9 514.9L90.9 514.5L91.9 513.9L92.9 513.5L93.9 513.0L94.9 512.1L95.9 510.8L96.9 509.2L97.9 507.2L98.9 504.8L99.9 502.0L100.9 499.1L101.9 495.9L102.9 492.4L103.9 488.9L104.9 485.3L105.9 481.7L106.9 478.0L107.9 474.3L108.9 470.6L109.9 466.9L110.9 463.3L111.9 459.7L112.9 456.2L113.9 452.8L114.9 449.3L115.9 445.4L116.9 441.2L117.9 436.8L118.9 432.2L119.9 427.4L120.9 422.5L121.9 417.9L122.9 413.8L123.9 410.1L124.9 407.0L125.9 404.2L126.9 402.0L127.9 400.1L128.9 398.7L129.9 397.7L130.9 397.0L131.9 396.5L132.9 396.3L133.9 396.6L134.9 397.1L135.9 397.7L136.9 398.5L137.9 399.6L138.9 401.0L139.9 402.4L140.9 403.8L141.9 405.1L142.9 406.4L143.9 407.7L144.9 409.1L145.9 410.4L146.9 411.7L147.9 413.0L148.9 414.2L149.9 415.4L150.9 416.6L151.9 417.8L152.9 418.9L153.9 420.0L154.9 421.0L155.9 422.0L156.9 422.9L157.9 423.7L158.9 424.4L159.9 425.1L160.9 425.8L161.9 426.5L162.9 427.2L163.9 428.0L164.9 428.9L165.9 430.0L166.9 431.1L167.9 432.4L168.9 433.8L169.9 435.2L170.9 436.6L171.9 438.1L172.9 439.5L173.9 440.9L174.9 442.4L175.9 443.9L176.9 445.4L177.9 446.9L178.9 448.5L179.9 450.1L180.9 451.7L181.9 453.4L182.9 455.2L183.9 456.9L184.9 458.7L185.9 460.5L186.9 462.2L187.9 463.9L188.9 465.5L189.9 467.1L190.9 468.7L191.9 470.2L192.9 471.7L193.9 473.3L194.9 474.9L195.9 476.6L196.9 478.2L197.9 479.9L198.9 481.6L199.9 483.1L200.9 484.6L201.9 486.1L202.9 487.5L203.9 489.0L204.9 490.4L205.9 491.8L206.9 493.1L207.9 494.4L208.9 495.6L209.9 496.8L210.9 498.0L211.9 499.1L212.9 500.1L213.9 501.2L214.9 502.1L215.9 503.1L216.9 504.0L217.9 504.9L218.9 505.8L219.9 506.6L220.9 507.5L221.9 508.3L222.9 509.2L223.9 510.0L224.9 510.8L225.9 511.7L226.9 512.5L227.9 513.3L228.9 514.1L229.9 514.8L230.9 515.6L231.9 516.3L232.9 517.0L233.9 517.8L234.9 518.5L235.9 519.1L236.9 519.8L237.9 520.5L238.9 521.2L239.9 521.8L240.9 522.5L241.9 523.1L242.9 523.7L243.9 524.3L244.9 524.8L245.9 525.3L246.9 525.8L247.9 526.2L248.9 526.6L249.9 527.1L250.9 527.5L251.9 527.8L252.9 528.2L253.9 528.6L254.9 528.9L255.9 529.3L256.9 529.6L257.9 529.9L258.9 530.2L259.9 530.5L260.9 530.8L261.9 531.0L262.9 531.3L263.9 531.5L264.9 531.8L265.9 532.0L266.9 532.3L267.9 532.5L268.9 532.7L269.9 533.0L270.9 533.2L271.9 533.4L272.9 533.7L273.9 533.9L274.9 534.1L275.9 534.3L276.9 534.5L277.9 534.7L278.9 534.9L279.9 535.1L280.9 535.3L281.9 535.4L282.9 535.6L283.9 535.8L284.9 536.0L285.9 536.1L286.9 536.3L287.9 536.4L288.9 536.6L289.9 536.7L290.9 536.8L291.9 537.0L292.9 537.1L293.9 537.2L294.9 537.3L295.9 537.4L296.9 537.5L297.9 537.6L298.9 537.7L299.9 537.7L300.9 537.8L301.9 537.9L302.9 538.0L303.9 538.0L304.9 538.1L305.9 538.2L306.9 538.2L307.9 538.3L308.9 538.4L309.9 538.4L310.9 538.5L311.9 538.5L312.9 538.6L313.9 538.6L314.9 538.6L315.9 538.6L316.9 538.6L317.9 538.6L318.9 538.7L319.9 538.7L320.9 538.7L321.9 538.7L322.9 538.7L323.9 538.7L324.9 538.7L325.9 538.7L326.9 538.7L327.9 538.7L328.9 538.7L329.9 538.8L330.9 538.8L331.9 538.8L332.9 538.8L333.9 538.8L334.9 538.8L335.9 538.8L336.9 538.8L337.9 538.8L338.9 538.8L339.9 538.8L340.9 538.9L341.9 538.9L342.9 538.9L343.9 538.9L344.9 538.9L345.9 538.9L346.9 538.9L347.9 538.9L348.9 538.9L349.9 538.9L350.9 538.9L351.9 538.9L353.0 538.9" fill="none" stroke="#555555" stroke-width="0.85"/>
<path d="M58.9 506.7L59.9 507.0L60.9 507.3L61.9 507.7L62.9 508.0L63.9 508.4L64.9 508.8L65.9 509.1L66.9 509.5L67.9 509.9L68.9 510.3L69.9 510.7L70.9 511.1L71.9 511.5L72.9 511.8L73.9 512.2L74.9 512.5L75.9 512.8L76.9 513.1L77.9 513.4L78.9 513.7L79.9 514.0L80.9 514.4L81.9 514.7L82.9 515.0L83.9 515.3L84.9 515.6L85.9 515.8L86.9 516.1L87.9 516.2L88.9 516.2L89.9 516.1L90.9 515.8L91.9 515.2L92.9 515.1L93.9 514.9L94.9 514.5L95.9 513.8L96.9 512.8L97.9 511.5L98.9 509.9L99.9 508.0L100.9 505.7L101.9 503.3L102.9 500.5L103.9 497.6L104.9 494.5L105.9 491.3L106.9 488.1L107.9 484.7L108.9 481.4L109.9 477.9L110.9 474.5L111.9 471.1L112.9 467.7L113.9 464.3L114.9 461.0L115.9 457.7L116.9 454.0L117.9 450.0L118.9 445.8L119.9 441.4L120.9 436.8L121.9 431.9L122.9 427.5L123.9 423.4L124.9 419.9L125.9 416.9L126.9 414.4L127.9 412.3L128.9 410.7L129.9 409.5L130.9 408.8L131.9 408.3L132.9 408.1L133.9 408.3L134.9 408.8L135.9 409.4L136.9 410.1L137.9 411.1L138.9 412.4L139.9 413.8L140.9 415.1L141.9 416.3L142.9 417.5L143.9 418.7L144.9 420.0L145.9 421.2L146.9 422.4L147.9 423.6L148.9 424.7L149.9 425.8L150.9 427.0L151.9 428.0L152.9 429.1L153.9 430.1L154.9 431.0L155.9 431.9L156.9 432.7L157.9 433.4L158.9 434.1L159.9 434.7L160.9 435.4L161.9 436.0L162.9 436.8L163.9 437.5L164.9 438.4L165.9 439.4L166.9 440.6L167.9 441.8L168.9 443.1L169.9 444.5L170.9 445.8L171.9 447.1L172.9 448.5L173.9 449.8L174.9 451.2L175.9 452.5L176.9 454.0L177.9 455.4L178.9 456.9L179.9 458.4L180.9 459.9L181.9 461.6L182.9 463.2L183.9 464.9L184.9 466.5L185.9 468.1L186.9 469.7L187.9 471.2L188.9 472.7L189.9 474.1L190.9 475.6L191.9 477.0L192.9 478.5L193.9 479.9L194.9 481.5L195.9 483.0L196.9 484.6L197.9 486.1L198.9 487.6L199.9 489.0L200.9 490.3L201.9 491.7L202.9 493.0L203.9 494.3L204.9 495.6L205.9 496.9L206.9 498.1L207.9 499.2L208.9 500.4L209.9 501.4L210.9 502.4L211.9 503.4L212.9 504.4L213.9 505.3L214.9 506.2L215.9 507.0L216.9 507.8L217.9 508.7L218.9 509.5L219.9 510.3L220.9 511.1L221.9 511.8L222.9 512.6L223.9 513.4L224.9 514.2L225.9 514.9L226.9 515.7L227.9 516.4L228.9 517.1L229.9 517.8L230.9 518.5L231.9 519.2L232.9 519.8L233.9 520.5L234.9 521.1L235.9 521.8L236.9 522.4L237.9 523.0L238.9 523.6L239.9 524.2L240.9 524.8L241.9 525.3L242.9 525.9L243.9 526.3L244.9 526.8L245.9 527.2L246.9 527.6L247.9 528.0L248.9 528.4L249.9 528.8L250.9 529.1L251.9 529.5L252.9 529.8L253.9 530.1L254.9 530.4L255.9 530.7L256.9 531.0L257.9 531.3L258.9 531.5L259.9 531.8L260.9 532.0L261.9 532.3L262.9 532.5L263.9 532.8L264.9 533.0L265.9 533.2L266.9 533.4L267.9 533.6L268.9 533.9L269.9 534.1L270.9 534.3L271.9 534.5L272.9 534.7L273.9 534.9L274.9 535.1L275.9 535.3L276.9 535.4L277.9 535.6L278.9 535.8L279.9 535.9L280.9 536.1L281.9 536.3L282.9 536.4L283.9 536.6L284.9 536.7L285.9 536.9L286.9 537.0L287.9 537.1L288.9 537.3L289.9 537.4L290.9 537.5L291.9 537.6L292.9 537.7L293.9 537.8L294.9 537.9L295.9 538.0L296.9 538.0L297.9 538.1L298.9 538.2L299.9 538.3L300.9 538.3L301.9 538.4L302.9 538.5L303.9 538.5L304.9 538.6L305.9 538.6L306.9 538.7L307.9 538.8L308.9 538.8L309.9 538.9L310.9 538.9L311.9 538.9L312.9 538.9L313.9 538.9L314.9 538.9L315.9 539.0L316.9 539.0L317.9 539.0L318.9 539.0L319.9 539.0L320.9 539.0L321.9 539.0L322.9 539.0L323.9 539.0L324.9 539.1L325.9 539.1L326.9 539.1L327.9 539.1L328.9 539.1L329.9 539.1L330.9 539.1L331.9 539.1L332.9 539.1L333.9 539.2L334.9 539.2L335.9 539.2L336.9 539.2L337.9 539.2L338.9 539.2L339.9 539.2L340.9 539.2L341.9 539.2L342.9 539.2L343.9 539.2L344.9 539.2L345.9 539.2L346.9 539.2L347.9 539.2L348.9 539.3L349.9 539.3L350.9 539.3L351.9 539.3L353.0 539.3" fill="none" stroke="#555555" stroke-width="0.85"/>
<path d="M58.9 507.1L59.9 507.5L60.9 507.8L61.9 508.2L62.9 508.6L63.9 509.0L64.9 509.4L65.9 509.8L66.9 510.2L67.9 510.6L68.9 511.1L69.9 511.5L70.9 512.0L71.9 512.4L72.9 512.8L73.9 513.1L74.9 513.5L75.9 513.8L76.9 514.2L77.9 514.5L78.9 514.8L79.9 515.2L80.9 515.5L81.9 515.8L82.9 516.2L83.9 516.5L84.9 516.8L85.9 517.0L86.9 517.3L87.9 517.4L88.9 517.4L89.9 517.3L90.9 517.1L91.9 516.5L92.9 516.3L93.9 516.0L94.9 515.3L95.9 514.4L96.9 513.3L97.9 511.7L98.9 509.9L99.9 507.8L100.9 505.5L101.9 502.9L102.9 500.2L103.9 497.3L104.9 494.4L105.9 491.4L106.9 488.4L107.9 485.4L108.9 482.3L109.9 479.3L110.9 476.3L111.9 473.3L112.9 470.3L113.9 467.4L114.9 464.6L115.9 461.5L116.9 458.1L117.9 454.4L118.9 450.6L119.9 446.6L120.9 442.5L121.9 438.4L122.9 434.8L123.9 431.4L124.9 428.7L125.9 426.2L126.9 424.2L127.9 422.6L128.9 421.3L129.9 420.4L130.9 419.8L131.9 419.4L132.9 419.2L133.9 419.5L134.9 419.9L135.9 420.5L136.9 421.2L137.9 422.1L138.9 423.3L139.9 424.6L140.9 425.8L141.9 426.9L142.9 428.0L143.9 429.2L144.9 430.3L145.9 431.4L146.9 432.6L147.9 433.6L148.9 434.7L149.9 435.7L150.9 436.7L151.9 437.7L152.9 438.7L153.9 439.6L154.9 440.5L155.9 441.3L156.9 442.0L157.9 442.6L158.9 443.2L159.9 443.8L160.9 444.4L161.9 445.1L162.9 445.7L163.9 446.5L164.9 447.3L165.9 448.3L166.9 449.4L167.9 450.6L168.9 451.8L169.9 453.0L170.9 454.2L171.9 455.5L172.9 456.7L173.9 457.9L174.9 459.2L175.9 460.5L176.9 461.8L177.9 463.1L178.9 464.5L179.9 465.9L180.9 467.4L181.9 468.9L182.9 470.4L183.9 471.9L184.9 473.4L185.9 474.9L186.9 476.3L187.9 477.7L188.9 479.1L189.9 480.4L190.9 481.7L191.9 483.0L192.9 484.4L193.9 485.8L194.9 487.2L195.9 488.7L196.9 490.1L197.9 491.4L198.9 492.7L199.9 494.0L200.9 495.3L201.9 496.5L202.9 497.7L203.9 498.9L204.9 500.1L205.9 501.2L206.9 502.3L207.9 503.4L208.9 504.4L209.9 505.3L210.9 506.2L211.9 507.1L212.9 508.0L213.9 508.8L214.9 509.6L215.9 510.4L216.9 511.1L217.9 511.9L218.9 512.6L219.9 513.4L220.9 514.1L221.9 514.8L222.9 515.5L223.9 516.3L224.9 517.0L225.9 517.7L226.9 518.3L227.9 519.0L228.9 519.7L229.9 520.3L230.9 520.9L231.9 521.5L232.9 522.1L233.9 522.7L234.9 523.3L235.9 523.9L236.9 524.5L237.9 525.1L238.9 525.6L239.9 526.2L240.9 526.7L241.9 527.1L242.9 527.6L243.9 528.0L244.9 528.4L245.9 528.8L246.9 529.2L247.9 529.5L248.9 529.9L249.9 530.2L250.9 530.5L251.9 530.8L252.9 531.1L253.9 531.4L254.9 531.7L255.9 531.9L256.9 532.2L257.9 532.4L258.9 532.7L259.9 532.9L260.9 533.1L261.9 533.3L262.9 533.5L263.9 533.8L264.9 534.0L265.9 534.2L266.9 534.4L267.9 534.6L268.9 534.8L269.9 535.0L270.9 535.1L271.9 535.3L272.9 535.5L273.9 535.7L274.9 535.9L275.9 536.0L276.9 536.2L277.9 536.4L278.9 536.5L279.9 536.7L280.9 536.8L281.9 537.0L282.9 537.1L283.9 537.2L284.9 537.4L285.9 537.5L286.9 537.6L287.9 537.7L288.9 537.8L289.9 537.9L290.9 538.0L291.9 538.1L292.9 538.2L293.9 538.3L294.9 538.4L295.9 538.4L296.9 538.5L297.9 538.6L298.9 538.6L299.9 538.7L300.9 538.8L301.9 538.8L302.9 538.9L303.9 538.9L304.9 539.0L305.9 539.1L306.9 539.1L307.9 539.2L308.9 539.2L309.9 539.2L310.9 539.2L311.9 539.3L312.9 539.3L313.9 539.3L314.9 539.3L315.9 539.3L316.9 539.3L317.9 539.3L318.9 539.3L319.9 539.4L320.9 539.4L321.9 539.4L322.9 539.4L323.9 539.4L324.9 539.4L325.9 539.4L326.9 539.4L327.9 539.4L328.9 539.5L329.9 539.5L330.9 539.5L331.9 539.5L332.9 539.5L333.9 539.5L334.9 539.5L335.9 539.5L336.9 539.5L337.9 539.5L338.9 539.6L339.9 539.6L340.9 539.6L341.9 539.6L342.9 539.6L343.9 539.6L344.9 539.6L345.9 539.6L346.9 539.6L347.9 539.6L348.9 539.6L349.9 539.6L350.9 539.6L351.9 539.6L353.0 539.6" fill="none" stroke="#555555" stroke-width="0.85"/>
<path d="M58.9 507.5L59.9 507.9L60.9 508.3L61.9 508.8L62.9 509.2L63.9 509.6L64.9 510.0L65.9 510.5L66.9 510.9L67.9 511.4L68.9 511.9L69.9 512.4L70.9 512.9L71.9 513.3L72.9 513.7L73.9 514.1L74.9 514.5L75.9 514.9L76.9 515.2L77.9 515.6L78.9 515.9L79.9 516.3L80.9 516.6L81.9 517.0L82.9 517.3L83.9 517.7L84.9 518.0L85.9 518.2L86.9 518.5L87.9 518.6L88.9 518.7L89.9 518.6L90.9 518.3L91.9 517.8L92.9 518.0L93.9 518.2L94.9 518.3L95.9 518.3L96.9 518.3L97.9 518.0L98.9 517.7L99.9 517.1L100.9 516.3L101.9 515.2L102.9 514.0L103.9 512.4L104.9 510.6L105.9 508.6L106.9 506.4L107.9 504.0L108.9 501.4L109.9 498.8L110.9 495.9L111.9 493.0L112.9 489.9L113.9 486.8L114.9 483.6L115.9 480.4L116.9 477.1L117.9 474.0L118.9 470.8L119.9 467.3L120.9 463.4L121.9 459.2L122.9 454.7L123.9 449.9L124.9 445.3L125.9 441.2L126.9 437.7L127.9 434.8L128.9 432.6L129.9 430.8L130.9 429.8L131.9 429.1L132.9 428.8L133.9 429.0L134.9 429.4L135.9 430.0L136.9 430.6L137.9 431.5L138.9 432.6L139.9 433.8L140.9 434.8L141.9 435.9L142.9 436.9L143.9 437.9L144.9 439.0L145.9 440.0L146.9 441.1L147.9 442.1L148.9 443.0L149.9 444.0L150.9 444.9L151.9 445.8L152.9 446.7L153.9 447.6L154.9 448.4L155.9 449.1L156.9 449.8L157.9 450.4L158.9 450.9L159.9 451.5L160.9 452.0L161.9 452.6L162.9 453.2L163.9 453.9L164.9 454.7L165.9 455.6L166.9 456.6L167.9 457.7L168.9 458.8L169.9 459.9L170.9 461.1L171.9 462.2L172.9 463.3L173.9 464.5L174.9 465.6L175.9 466.8L176.9 468.0L177.9 469.2L178.9 470.5L179.9 471.8L180.9 473.1L181.9 474.5L182.9 475.9L183.9 477.3L184.9 478.7L185.9 480.1L186.9 481.4L187.9 482.6L188.9 483.9L189.9 485.1L190.9 486.3L191.9 487.5L192.9 488.8L193.9 490.1L194.9 491.4L195.9 492.7L196.9 494.0L197.9 495.3L198.9 496.5L199.9 497.7L200.9 498.8L201.9 500.0L202.9 501.1L203.9 502.2L204.9 503.3L205.9 504.3L206.9 505.3L207.9 506.3L208.9 507.2L209.9 508.1L210.9 508.9L211.9 509.8L212.9 510.5L213.9 511.3L214.9 512.0L215.9 512.8L216.9 513.5L217.9 514.2L218.9 514.9L219.9 515.5L220.9 516.2L221.9 516.9L222.9 517.6L223.9 518.2L224.9 518.9L225.9 519.5L226.9 520.1L227.9 520.8L228.9 521.4L229.9 522.0L230.9 522.5L231.9 523.1L232.9 523.7L233.9 524.2L234.9 524.8L235.9 525.3L236.9 525.9L237.9 526.4L238.9 526.9L239.9 527.4L240.9 527.9L241.9 528.3L242.9 528.7L243.9 529.1L244.9 529.5L245.9 529.9L246.9 530.2L247.9 530.5L248.9 530.8L249.9 531.1L250.9 531.4L251.9 531.7L252.9 532.0L253.9 532.2L254.9 532.5L255.9 532.7L256.9 533.0L257.9 533.2L258.9 533.4L259.9 533.6L260.9 533.8L261.9 534.0L262.9 534.2L263.9 534.4L264.9 534.6L265.9 534.8L266.9 535.0L267.9 535.2L268.9 535.4L269.9 535.5L270.9 535.7L271.9 535.9L272.9 536.1L273.9 536.2L274.9 536.4L275.9 536.5L276.9 536.7L277.9 536.8L278.9 537.0L279.9 537.1L280.9 537.3L281.9 537.4L282.9 537.5L283.9 537.7L284.9 537.8L285.9 537.9L286.9 538.0L287.9 538.1L288.9 538.2L289.9 538.3L290.9 538.4L291.9 538.5L292.9 538.6L293.9 538.6L294.9 538.7L295.9 538.8L296.9 538.9L297.9 538.9L298.9 539.0L299.9 539.0L300.9 539.1L301.9 539.2L302.9 539.2L303.9 539.3L304.9 539.3L305.9 539.4L306.9 539.4L307.9 539.5L308.9 539.5L309.9 539.5L310.9 539.6L311.9 539.6L312.9 539.6L313.9 539.6L314.9 539.6L315.9 539.6L316.9 539.6L317.9 539.6L318.9 539.7L319.9 539.7L320.9 539.7L321.9 539.7L322.9 539.7L323.9 539.7L324.9 539.7L325.9 539.7L326.9 539.7L327.9 539.8L328.9 539.8L329.9 539.8L330.9 539.8L331.9 539.8L332.9 539.8L333.9 539.8L334.9 539.8L335.9 539.8L336.9 539.9L337.9 539.9L338.9 539.9L339.9 539.9L340.9 539.9L341.9 539.9L342.9 539.9L343.9 539.9L344.9 539.9L345.9 539.9L346.9 539.9L347.9 539.9L348.9 539.9L349.9 539.9L350.9 539.9L351.9 539.9L353.0 539.9" fill="none" stroke="#555555" stroke-width="0.85"/>
<path d="M58.9 508.0L59.9 508.4L60.9 508.9L61.9 509.3L62.9 509.8L63.9 510.2L64.9 510.7L65.9 511.2L66.9 511.6L67.9 512.1L68.9 512.7L69.9 513.2L70.9 513.7L71.9 514.2L72.9 514.7L73.9 515.1L74.9 515.5L75.9 515.9L76.9 516.3L77.9 516.7L78.9 517.0L79.9 517.4L80.9 517.8L81.9 518.1L82.9 518.5L83.9 518.8L84.9 519.2L85.9 519.5L86.9 519.7L87.9 519.9L88.9 519.9L89.9 519.9L90.9 519.7L91.9 519.3L92.9 519.4L93.9 519.4L94.9 519.4L95.9 519.1L96.9 518.8L97.9 518.2L98.9 517.5L99.9 516.5L100.9 515.4L101.9 513.9L102.9 512.3L103.9 510.5L104.9 508.5L105.9 506.4L106.9 504.3L107.9 502.0L108.9 499.7L109.9 497.3L110.9 494.8L111.9 492.3L112.9 489.8L113.9 487.3L114.9 484.7L115.9 482.2L116.9 479.8L117.9 477.2L118.9 474.3L119.9 471.1L120.9 467.8L121.9 464.3L122.9 460.5L123.9 457.1L124.9 453.9L125.9 451.2L126.9 449.0L127.9 447.1L128.9 445.7L129.9 444.6L130.9 444.0L131.9 443.5L132.9 443.4L133.9 443.5L134.9 443.9L135.9 444.4L136.9 444.9L137.9 445.6L138.9 446.5L139.9 447.5L140.9 448.4L141.9 449.3L142.9 450.2L143.9 451.0L144.9 451.9L145.9 452.8L146.9 453.7L147.9 454.5L148.9 455.3L149.9 456.2L150.9 457.0L151.9 457.7L152.9 458.5L153.9 459.2L154.9 459.9L155.9 460.6L156.9 461.2L157.9 461.8L158.9 462.3L159.9 462.7L160.9 463.2L161.9 463.7L162.9 464.2L163.9 464.7L164.9 465.3L165.9 465.9L166.9 466.6L167.9 467.4L168.9 468.3L169.9 469.2L170.9 470.2L171.9 471.1L172.9 472.1L173.9 473.0L174.9 474.0L175.9 474.9L176.9 475.9L177.9 476.9L178.9 477.9L179.9 479.0L180.9 480.0L181.9 481.1L182.9 482.3L183.9 483.4L184.9 484.6L185.9 485.8L186.9 486.9L187.9 488.1L188.9 489.2L189.9 490.3L190.9 491.3L191.9 492.3L192.9 493.4L193.9 494.4L194.9 495.4L195.9 496.5L196.9 497.6L197.9 498.7L198.9 499.8L199.9 500.9L200.9 501.9L201.9 502.9L202.9 503.9L203.9 504.9L204.9 505.8L205.9 506.8L206.9 507.7L207.9 508.6L208.9 509.5L209.9 510.3L210.9 511.1L211.9 511.9L212.9 512.7L213.9 513.4L214.9 514.1L215.9 514.7L216.9 515.4L217.9 516.0L218.9 516.6L219.9 517.2L220.9 517.8L221.9 518.4L222.9 519.0L223.9 519.6L224.9 520.1L225.9 520.7L226.9 521.2L227.9 521.8L228.9 522.3L229.9 522.9L230.9 523.4L231.9 523.9L232.9 524.4L233.9 524.9L234.9 525.4L235.9 525.9L236.9 526.4L237.9 526.8L238.9 527.3L239.9 527.7L240.9 528.2L241.9 528.6L242.9 529.1L243.9 529.5L244.9 529.9L245.9 530.2L246.9 530.6L247.9 530.9L248.9 531.2L249.9 531.5L250.9 531.8L251.9 532.1L252.9 532.3L253.9 532.6L254.9 532.9L255.9 533.1L256.9 533.3L257.9 533.5L258.9 533.8L259.9 534.0L260.9 534.2L261.9 534.4L262.9 534.6L263.9 534.8L264.9 534.9L265.9 535.1L266.9 535.3L267.9 535.5L268.9 535.6L269.9 535.8L270.9 535.9L271.9 536.1L272.9 536.3L273.9 536.4L274.9 536.6L275.9 536.7L276.9 536.9L277.9 537.0L278.9 537.2L279.9 537.3L280.9 537.4L281.9 537.6L282.9 537.7L283.9 537.8L284.9 537.9L285.9 538.0L286.9 538.2L287.9 538.3L288.9 538.4L289.9 538.5L290.9 538.6L291.9 538.7L292.9 538.8L293.9 538.9L294.9 539.0L295.9 539.0L296.9 539.1L297.9 539.2L298.9 539.3L299.9 539.3L300.9 539.4L301.9 539.5L302.9 539.5L303.9 539.6L304.9 539.6L305.9 539.7L306.9 539.7L307.9 539.8L308.9 539.8L309.9 539.9L310.9 539.9L311.9 540.0L312.9 540.0L313.9 540.1L314.9 540.1L315.9 540.1L316.9 540.1L317.9 540.1L318.9 540.2L319.9 540.2L320.9 540.2L321.9 540.2L322.9 540.2L323.9 540.2L324.9 540.2L325.9 540.2L326.9 540.2L327.9 540.3L328.9 540.3L329.9 540.3L330.9 540.3L331.9 540.3L332.9 540.3L333.9 540.3L334.9 540.3L335.9 540.3L336.9 540.3L337.9 540.3L338.9 540.3L339.9 540.3L340.9 540.4L341.9 540.4L342.9 540.4L343.9 540.4L344.9 540.4L345.9 540.4L346.9 540.4L347.9 540.4L348.9 540.4L349.9 540.4L350.9 540.4L351.9 540.4L353.0 540.4" fill="none" stroke="#555555" stroke-width="0.85"/>
<path d="M58.9 508.5L59.9 508.9L60.9 509.4L61.9 509.9L62.9 510.4L63.9 510.9L64.9 511.4L65.9 511.9L66.9 512.4L67.9 513.0L68.9 513.6L69.9 514.2L70.9 514.7L71.9 515.3L72.9 515.8L73.9 516.2L74.9 516.7L75.9 517.1L76.9 517.5L77.9 517.9L78.9 518.3L79.9 518.7L80.9 519.1L81.9 519.4L82.9 519.8L83.9 520.2L84.9 520.5L85.9 520.9L86.9 521.1L87.9 521.3L88.9 521.5L89.9 521.5L90.9 521.5L91.9 521.2L92.9 521.3L93.9 521.2L94.9 521.0L95.9 520.7L96.9 520.1L97.9 519.5L98.9 518.6L99.9 517.6L100.9 516.4L101.9 515.1L102.9 513.7L103.9 512.3L104.9 510.8L105.9 509.3L106.9 507.7L107.9 506.1L108.9 504.5L109.9 502.9L110.9 501.3L111.9 499.7L112.9 498.1L113.9 496.6L114.9 495.1L115.9 493.5L116.9 491.7L117.9 489.8L118.9 487.8L119.9 485.7L120.9 483.4L121.9 481.1L122.9 479.0L123.9 477.1L124.9 475.5L125.9 474.1L126.9 473.0L127.9 472.0L128.9 471.3L129.9 470.8L130.9 470.5L131.9 470.3L132.9 470.2L133.9 470.4L134.9 470.7L135.9 471.0L136.9 471.4L137.9 471.8L138.9 472.5L139.9 473.2L140.9 473.9L141.9 474.5L142.9 475.1L143.9 475.7L144.9 476.3L145.9 477.0L146.9 477.6L147.9 478.2L148.9 478.8L149.9 479.4L150.9 479.9L151.9 480.5L152.9 481.0L153.9 481.6L154.9 482.1L155.9 482.6L156.9 483.0L157.9 483.4L158.9 483.8L159.9 484.2L160.9 484.5L161.9 484.9L162.9 485.2L163.9 485.5L164.9 485.9L165.9 486.3L166.9 486.8L167.9 487.3L168.9 487.9L169.9 488.5L170.9 489.1L171.9 489.8L172.9 490.4L173.9 491.1L174.9 491.7L175.9 492.4L176.9 493.1L177.9 493.8L178.9 494.4L179.9 495.2L180.9 495.9L181.9 496.6L182.9 497.4L183.9 498.2L184.9 499.0L185.9 499.8L186.9 500.6L187.9 501.4L188.9 502.2L189.9 503.0L190.9 503.8L191.9 504.5L192.9 505.3L193.9 506.0L194.9 506.7L195.9 507.5L196.9 508.2L197.9 509.0L198.9 509.7L199.9 510.5L200.9 511.3L201.9 512.1L202.9 512.8L203.9 513.5L204.9 514.2L205.9 514.9L206.9 515.6L207.9 516.3L208.9 516.9L209.9 517.6L210.9 518.2L211.9 518.8L212.9 519.4L213.9 519.9L214.9 520.5L215.9 521.0L216.9 521.5L217.9 522.0L218.9 522.5L219.9 522.9L220.9 523.4L221.9 523.8L222.9 524.2L223.9 524.7L224.9 525.1L225.9 525.5L226.9 525.9L227.9 526.3L228.9 526.7L229.9 527.1L230.9 527.5L231.9 527.9L232.9 528.3L233.9 528.7L234.9 529.1L235.9 529.4L236.9 529.8L237.9 530.1L238.9 530.5L239.9 530.8L240.9 531.1L241.9 531.5L242.9 531.8L243.9 532.1L244.9 532.4L245.9 532.7L246.9 533.0L247.9 533.3L248.9 533.5L249.9 533.8L250.9 534.0L251.9 534.2L252.9 534.5L253.9 534.7L254.9 534.9L255.9 535.1L256.9 535.2L257.9 535.4L258.9 535.6L259.9 535.8L260.9 535.9L261.9 536.1L262.9 536.3L263.9 536.4L264.9 536.6L265.9 536.7L266.9 536.8L267.9 537.0L268.9 537.1L269.9 537.2L270.9 537.4L271.9 537.5L272.9 537.6L273.9 537.7L274.9 537.8L275.9 538.0L276.9 538.1L277.9 538.2L278.9 538.3L279.9 538.4L280.9 538.5L281.9 538.6L282.9 538.7L283.9 538.8L284.9 538.9L285.9 539.0L286.9 539.1L287.9 539.2L288.9 539.3L289.9 539.4L290.9 539.5L291.9 539.6L292.9 539.7L293.9 539.7L294.9 539.8L295.9 539.9L296.9 540.0L297.9 540.0L298.9 540.1L299.9 540.2L300.9 540.2L301.9 540.3L302.9 540.3L303.9 540.4L304.9 540.4L305.9 540.5L306.9 540.5L307.9 540.6L308.9 540.6L309.9 540.7L310.9 540.7L311.9 540.7L312.9 540.8L313.9 540.8L314.9 540.9L315.9 540.9L316.9 540.9L317.9 541.0L318.9 541.0L319.9 541.0L320.9 541.0L321.9 541.1L322.9 541.1L323.9 541.1L324.9 541.1L325.9 541.1L326.9 541.1L327.9 541.1L328.9 541.1L329.9 541.1L330.9 541.2L331.9 541.2L332.9 541.2L333.9 541.2L334.9 541.2L335.9 541.2L336.9 541.2L337.9 541.2L338.9 541.2L339.9 541.2L340.9 541.2L341.9 541.2L342.9 541.2L343.9 541.2L344.9 541.2L345.9 541.2L346.9 541.2L347.9 541.2L348.9 541.3L349.9 541.3L350.9 541.3L351.9 541.3L353.0 541.3" fill="none" stroke="#555555" stroke-width="0.85"/>
<path d="M58.9 509.0L59.9 509.5L60.9 510.0L61.9 510.6L62.9 511.1L63.9 511.7L64.9 512.2L65.9 512.8L66.9 513.3L67.9 513.9L68.9 514.6L69.9 515.2L70.9 515.8L71.9 516.4L72.9 517.0L73.9 517.5L74.9 517.9L75.9 518.4L76.9 518.8L77.9 519.2L78.9 519.7L79.9 520.1L80.9 520.5L81.9 520.9L82.9 521.3L83.9 521.7L84.9 522.1L85.9 522.4L86.9 522.7L87.9 523.0L88.9 523.2L89.9 523.4L90.9 523.5L91.9 523.5L92.9 523.5L93.9 523.2L94.9 522.8L95.9 522.4L96.9 521.8L97.9 521.1L98.9 520.5L99.9 519.7L100.9 519.0L101.9 518.3L102.9 517.6L103.9 516.9L104.9 516.2L105.9 515.6L106.9 514.9L107.9 514.3L108.9 513.7L109.9 513.1L110.9 512.5L111.9 512.0L112.9 511.4L113.9 510.7L114.9 509.9L115.9 509.1L116.9 508.3L117.9 507.4L118.9 506.5L119.9 505.7L120.9 504.9L121.9 504.2L122.9 503.6L123.9 503.1L124.9 502.7L125.9 502.4L126.9 502.1L127.9 501.9L128.9 501.8L129.9 501.7L130.9 501.6L131.9 501.6L132.9 501.7L133.9 501.8L134.9 502.0L135.9 502.2L136.9 502.4L137.9 502.7L138.9 503.0L139.9 503.4L140.9 503.8L141.9 504.1L142.9 504.5L143.9 504.8L144.9 505.2L145.9 505.5L146.9 505.9L147.9 506.2L148.9 506.5L149.9 506.9L150.9 507.2L151.9 507.5L152.9 507.8L153.9 508.1L154.9 508.4L155.9 508.6L156.9 508.9L157.9 509.2L158.9 509.4L159.9 509.6L160.9 509.8L161.9 510.0L162.9 510.2L163.9 510.4L164.9 510.6L165.9 510.8L166.9 511.0L167.9 511.3L168.9 511.6L169.9 511.9L170.9 512.2L171.9 512.6L172.9 512.9L173.9 513.3L174.9 513.6L175.9 514.0L176.9 514.3L177.9 514.7L178.9 515.1L179.9 515.4L180.9 515.8L181.9 516.2L182.9 516.6L183.9 517.0L184.9 517.5L185.9 517.9L186.9 518.3L187.9 518.8L188.9 519.2L189.9 519.7L190.9 520.1L191.9 520.5L192.9 520.9L193.9 521.3L194.9 521.7L195.9 522.1L196.9 522.5L197.9 522.9L198.9 523.4L199.9 523.8L200.9 524.2L201.9 524.7L202.9 525.1L203.9 525.5L204.9 525.9L205.9 526.3L206.9 526.6L207.9 527.0L208.9 527.4L209.9 527.8L210.9 528.1L211.9 528.5L212.9 528.8L213.9 529.2L214.9 529.5L215.9 529.8L216.9 530.1L217.9 530.4L218.9 530.7L219.9 531.0L220.9 531.2L221.9 531.5L222.9 531.8L223.9 532.0L224.9 532.3L225.9 532.5L226.9 532.8L227.9 533.0L228.9 533.3L229.9 533.5L230.9 533.7L231.9 534.0L232.9 534.2L233.9 534.4L234.9 534.6L235.9 534.9L236.9 535.1L237.9 535.3L238.9 535.5L239.9 535.7L240.9 535.9L241.9 536.1L242.9 536.2L243.9 536.4L244.9 536.6L245.9 536.8L246.9 537.0L247.9 537.1L248.9 537.3L249.9 537.4L250.9 537.6L251.9 537.7L252.9 537.8L253.9 537.9L254.9 538.1L255.9 538.2L256.9 538.3L257.9 538.4L258.9 538.5L259.9 538.6L260.9 538.7L261.9 538.8L262.9 538.9L263.9 539.0L264.9 539.1L265.9 539.2L266.9 539.3L267.9 539.3L268.9 539.4L269.9 539.5L270.9 539.6L271.9 539.7L272.9 539.7L273.9 539.8L274.9 539.9L275.9 540.0L276.9 540.0L277.9 540.1L278.9 540.2L279.9 540.2L280.9 540.3L281.9 540.4L282.9 540.4L283.9 540.5L284.9 540.6L285.9 540.6L286.9 540.7L287.9 540.8L288.9 540.8L289.9 540.9L290.9 540.9L291.9 541.0L292.9 541.0L293.9 541.1L294.9 541.2L295.9 541.2L296.9 541.3L297.9 541.3L298.9 541.3L299.9 541.4L300.9 541.4L301.9 541.5L302.9 541.5L303.9 541.6L304.9 541.6L305.9 541.6L306.9 541.7L307.9 541.7L308.9 541.7L309.9 541.8L310.9 541.8L311.9 541.8L312.9 541.8L313.9 541.9L314.9 541.9L315.9 541.9L316.9 542.0L317.9 542.0L318.9 542.0L319.9 542.0L320.9 542.0L321.9 542.1L322.9 542.1L323.9 542.1L324.9 542.1L325.9 542.1L326.9 542.1L327.9 542.1L328.9 542.2L329.9 542.2L330.9 542.2L331.9 542.2L332.9 542.2L333.9 542.2L334.9 542.2L335.9 542.2L336.9 542.2L337.9 542.2L338.9 542.2L339.9 542.2L340.9 542.3L341.9 542.3L342.9 542.3L343.9 542.3L344.9 542.3L345.9 542.3L346.9 542.3L347.9 542.3L348.9 542.3L349.9 542.3L350.9 542.3L351.9 542.3L353.0 542.3" fill="none" stroke="#555555" stroke-width="0.85"/>
<path d="M58.9 509.6L59.9 510.1L60.9 510.7L61.9 511.2L62.9 511.8L63.9 512.4L64.9 513.0L65.9 513.6L66.9 514.2L67.9 514.9L68.9 515.6L69.9 516.3L70.9 516.9L71.9 517.6L72.9 518.2L73.9 518.7L74.9 519.2L75.9 519.7L76.9 520.1L77.9 520.6L78.9 521.0L79.9 521.5L80.9 521.9L81.9 522.3L82.9 522.8L83.9 523.2L84.9 523.6L85.9 524.0L86.9 524.3L87.9 524.6L88.9 524.9L89.9 525.1L90.9 525.3L91.9 525.5L92.9 525.6L93.9 525.6L94.9 525.5L95.9 525.4L96.9 525.3L97.9 525.1L98.9 524.9L99.9 524.7L100.9 524.5L101.9 524.2L102.9 524.0L103.9 523.8L104.9 523.6L105.9 523.4L106.9 523.2L107.9 523.0L108.9 522.8L109.9 522.6L110.9 522.4L111.9 522.2L112.9 522.0L113.9 521.8L114.9 521.5L115.9 521.2L116.9 520.9L117.9 520.5L118.9 520.2L119.9 519.9L120.9 519.6L121.9 519.3L122.9 519.1L123.9 518.9L124.9 518.8L125.9 518.7L126.9 518.6L127.9 518.5L128.9 518.5L129.9 518.5L130.9 518.6L131.9 518.6L132.9 518.7L133.9 518.8L134.9 518.9L135.9 519.0L136.9 519.2L137.9 519.3L138.9 519.5L139.9 519.8L140.9 520.0L141.9 520.2L142.9 520.4L143.9 520.6L144.9 520.8L145.9 521.0L146.9 521.1L147.9 521.3L148.9 521.5L149.9 521.7L150.9 521.9L151.9 522.1L152.9 522.2L153.9 522.4L154.9 522.6L155.9 522.7L156.9 522.9L157.9 523.0L158.9 523.2L159.9 523.3L160.9 523.4L161.9 523.5L162.9 523.7L163.9 523.8L164.9 523.9L165.9 524.0L166.9 524.1L167.9 524.3L168.9 524.4L169.9 524.6L170.9 524.7L171.9 524.9L172.9 525.1L173.9 525.3L174.9 525.5L175.9 525.7L176.9 525.8L177.9 526.0L178.9 526.2L179.9 526.4L180.9 526.6L181.9 526.8L182.9 527.0L183.9 527.3L184.9 527.5L185.9 527.7L186.9 527.9L187.9 528.2L188.9 528.4L189.9 528.7L190.9 528.9L191.9 529.2L192.9 529.4L193.9 529.6L194.9 529.8L195.9 530.1L196.9 530.3L197.9 530.5L198.9 530.8L199.9 531.0L200.9 531.2L201.9 531.5L202.9 531.7L203.9 532.0L204.9 532.2L205.9 532.4L206.9 532.7L207.9 532.9L208.9 533.1L209.9 533.3L210.9 533.6L211.9 533.8L212.9 534.0L213.9 534.2L214.9 534.4L215.9 534.6L216.9 534.8L217.9 535.0L218.9 535.2L219.9 535.4L220.9 535.5L221.9 535.7L222.9 535.9L223.9 536.0L224.9 536.2L225.9 536.4L226.9 536.5L227.9 536.7L228.9 536.8L229.9 537.0L230.9 537.1L231.9 537.3L232.9 537.4L233.9 537.6L234.9 537.7L235.9 537.9L236.9 538.0L237.9 538.1L238.9 538.3L239.9 538.4L240.9 538.5L241.9 538.6L242.9 538.7L243.9 538.8L244.9 539.0L245.9 539.1L246.9 539.2L247.9 539.3L248.9 539.4L249.9 539.4L250.9 539.5L251.9 539.6L252.9 539.7L253.9 539.8L254.9 539.9L255.9 539.9L256.9 540.0L257.9 540.1L258.9 540.1L259.9 540.2L260.9 540.3L261.9 540.3L262.9 540.4L263.9 540.5L264.9 540.5L265.9 540.6L266.9 540.6L267.9 540.7L268.9 540.7L269.9 540.8L270.9 540.9L271.9 540.9L272.9 541.0L273.9 541.0L274.9 541.1L275.9 541.1L276.9 541.2L277.9 541.2L278.9 541.2L279.9 541.3L280.9 541.3L281.9 541.4L282.9 541.4L283.9 541.5L284.9 541.5L285.9 541.6L286.9 541.6L287.9 541.7L288.9 541.7L289.9 541.7L290.9 541.8L291.9 541.8L292.9 541.9L293.9 541.9L294.9 541.9L295.9 542.0L296.9 542.0L297.9 542.0L298.9 542.1L299.9 542.1L300.9 542.1L301.9 542.2L302.9 542.2L303.9 542.2L304.9 542.3L305.9 542.3L306.9 542.3L307.9 542.3L308.9 542.4L309.9 542.4L310.9 542.4L311.9 542.4L312.9 542.5L313.9 542.5L314.9 542.5L315.9 542.5L316.9 542.6L317.9 542.6L318.9 542.6L319.9 542.6L320.9 542.6L321.9 542.7L322.9 542.7L323.9 542.7L324.9 542.7L325.9 542.7L326.9 542.7L327.9 542.7L328.9 542.8L329.9 542.8L330.9 542.8L331.9 542.8L332.9 542.8L333.9 542.8L334.9 542.8L335.9 542.8L336.9 542.8L337.9 542.8L338.9 542.8L339.9 542.8L340.9 542.9L341.9 542.9L342.9 542.9L343.9 542.9L344.9 542.9L345.9 542.9L346.9 542.9L347.9 542.9L348.9 542.9L349.9 542.9L350.9 542.9L351.9 542.9L353.0 542.9" fill="none" stroke="#555555" stroke-width="0.85"/>
<path d="M58.9 509.9L59.9 510.5L60.9 511.1L61.9 511.7L62.9 512.3L63.9 512.9L64.9 513.6L65.9 514.2L66.9 514.9L67.9 515.5L68.9 516.3L69.9 517.0L70.9 517.7L71.9 518.4L72.9 519.0L73.9 519.6L74.9 520.1L75.9 520.6L76.9 521.1L77.9 521.5L78.9 522.0L79.9 522.5L80.9 522.9L81.9 523.4L82.9 523.8L83.9 524.2L84.9 524.6L85.9 525.0L86.9 525.4L87.9 525.7L88.9 526.0L89.9 526.3L90.9 526.6L91.9 526.9L92.9 527.2L93.9 527.4L94.9 527.7L95.9 527.9L96.9 528.2L97.9 528.4L98.9 528.6L99.9 528.8L100.9 529.0L101.9 529.2L102.9 529.4L103.9 529.6L104.9 529.8L105.9 530.0L106.9 530.2L107.9 530.3L108.9 530.5L109.9 530.6L110.9 530.8L111.9 530.9L112.9 531.1L113.9 531.2L114.9 531.3L115.9 531.5L116.9 531.6L117.9 531.7L118.9 531.8L119.9 531.9L120.9 532.0L121.9 532.1L122.9 532.2L123.9 532.3L124.9 532.4L125.9 532.5L126.9 532.6L127.9 532.7L128.9 532.8L129.9 532.9L130.9 532.9L131.9 533.0L132.9 533.1L133.9 533.2L134.9 533.3L135.9 533.4L136.9 533.4L137.9 533.5L138.9 533.6L139.9 533.7L140.9 533.8L141.9 533.8L142.9 533.9L143.9 534.0L144.9 534.1L145.9 534.1L146.9 534.2L147.9 534.3L148.9 534.3L149.9 534.4L150.9 534.5L151.9 534.5L152.9 534.6L153.9 534.7L154.9 534.7L155.9 534.8L156.9 534.9L157.9 534.9L158.9 535.0L159.9 535.0L160.9 535.1L161.9 535.1L162.9 535.2L163.9 535.2L164.9 535.3L165.9 535.3L166.9 535.4L167.9 535.4L168.9 535.5L169.9 535.5L170.9 535.6L171.9 535.6L172.9 535.6L173.9 535.7L174.9 535.7L175.9 535.8L176.9 535.8L177.9 535.9L178.9 535.9L179.9 536.0L180.9 536.1L181.9 536.1L182.9 536.2L183.9 536.2L184.9 536.3L185.9 536.4L186.9 536.4L187.9 536.5L188.9 536.6L189.9 536.7L190.9 536.7L191.9 536.8L192.9 536.9L193.9 537.0L194.9 537.1L195.9 537.2L196.9 537.2L197.9 537.3L198.9 537.4L199.9 537.5L200.9 537.6L201.9 537.7L202.9 537.8L203.9 537.9L204.9 538.0L205.9 538.1L206.9 538.2L207.9 538.2L208.9 538.3L209.9 538.4L210.9 538.5L211.9 538.6L212.9 538.7L213.9 538.8L214.9 538.9L215.9 539.0L216.9 539.1L217.9 539.2L218.9 539.3L219.9 539.4L220.9 539.5L221.9 539.5L222.9 539.6L223.9 539.7L224.9 539.8L225.9 539.9L226.9 540.0L227.9 540.1L228.9 540.1L229.9 540.2L230.9 540.3L231.9 540.4L232.9 540.5L233.9 540.5L234.9 540.6L235.9 540.7L236.9 540.7L237.9 540.8L238.9 540.9L239.9 540.9L240.9 541.0L241.9 541.0L242.9 541.1L243.9 541.1L244.9 541.2L245.9 541.2L246.9 541.3L247.9 541.3L248.9 541.4L249.9 541.4L250.9 541.4L251.9 541.5L252.9 541.5L253.9 541.5L254.9 541.6L255.9 541.6L256.9 541.6L257.9 541.7L258.9 541.7L259.9 541.7L260.9 541.7L261.9 541.8L262.9 541.8L263.9 541.8L264.9 541.9L265.9 541.9L266.9 541.9L267.9 542.0L268.9 542.0L269.9 542.0L270.9 542.0L271.9 542.1L272.9 542.1L273.9 542.1L274.9 542.2L275.9 542.2L276.9 542.2L277.9 542.2L278.9 542.3L279.9 542.3L280.9 542.3L281.9 542.3L282.9 542.4L283.9 542.4L284.9 542.4L285.9 542.5L286.9 542.5L287.9 542.5L288.9 542.5L289.9 542.6L290.9 542.6L291.9 542.6L292.9 542.6L293.9 542.6L294.9 542.7L295.9 542.7L296.9 542.7L297.9 542.7L298.9 542.8L299.9 542.8L300.9 542.8L301.9 542.8L302.9 542.8L303.9 542.9L304.9 542.9L305.9 542.9L306.9 542.9L307.9 542.9L308.9 543.0L309.9 543.0L310.9 543.0L311.9 543.0L312.9 543.0L313.9 543.1L314.9 543.1L315.9 543.1L316.9 543.1L317.9 543.1L318.9 543.1L319.9 543.1L320.9 543.2L321.9 543.2L322.9 543.2L323.9 543.2L324.9 543.2L325.9 543.2L326.9 543.2L327.9 543.3L328.9 543.3L329.9 543.3L330.9 543.3L331.9 543.3L332.9 543.3L333.9 543.3L334.9 543.3L335.9 543.3L336.9 543.3L337.9 543.3L338.9 543.4L339.9 543.4L340.9 543.4L341.9 543.4L342.9 543.4L343.9 543.4L344.9 543.4L345.9 543.4L346.9 543.4L347.9 543.4L348.9 543.4L349.9 543.4L350.9 543.4L351.9 543.4L353.0 543.4" fill="none" stroke="#2b2bd0" stroke-width="1.40"/>
<path d="M58.9 478.0L59.9 478.2L60.9 478.5L61.9 478.7L62.9 479.0L63.9 479.4L64.9 479.7L65.9 480.1L66.9 480.5L67.9 481.0L68.9 481.4L69.9 481.9L70.9 482.4L71.9 482.9L72.9 483.4L73.9 483.9L74.9 484.4L75.9 484.9L76.9 485.4L77.9 485.9L78.9 486.4L79.9 486.8L80.9 487.1L81.9 487.5L82.9 487.9L83.9 488.2L84.9 488.4L85.9 488.5L86.9 488.5L87.9 488.3L88.9 488.1L89.9 487.9L90.9 487.5L91.9 487.0L92.9 486.1L93.9 484.9L94.9 483.6L95.9 482.1L96.9 480.2L97.9 478.0L98.9 475.4L99.9 472.1L100.9 468.4L101.9 464.3L102.9 459.8L103.9 455.1L104.9 450.2L105.9 445.2L106.9 440.2L107.9 435.3L108.9 430.4L109.9 425.5L110.9 420.9L111.9 416.4L112.9 411.5L113.9 406.2L114.9 400.5L115.9 394.6L116.9 388.7L117.9 382.4L118.9 375.9L119.9 370.0L120.9 364.6L121.9 359.6L122.9 355.4L123.9 351.6L124.9 348.3L125.9 345.7L126.9 343.4L127.9 341.5L128.9 340.1L129.9 339.2L130.9 338.3L131.9 337.8L132.9 337.6L133.9 337.9L134.9 338.5L135.9 339.3L136.9 340.2L137.9 341.4L138.9 343.1L139.9 345.1L140.9 347.0L141.9 348.7L142.9 350.4L143.9 352.1L144.9 353.8L145.9 355.6L146.9 357.3L147.9 359.0L148.9 360.7L149.9 362.3L150.9 363.9L151.9 365.5L152.9 367.0L153.9 368.5L154.9 370.0L155.9 371.4L156.9 372.7L157.9 373.9L158.9 375.1L159.9 376.1L160.9 377.0L161.9 377.9L162.9 378.8L163.9 379.7L164.9 380.7L165.9 381.7L166.9 382.8L167.9 384.1L168.9 385.5L169.9 387.2L170.9 388.9L171.9 390.7L172.9 392.6L173.9 394.6L174.9 396.5L175.9 398.3L176.9 400.2L177.9 402.2L178.9 404.1L179.9 406.1L180.9 408.1L181.9 410.1L182.9 412.2L183.9 414.4L184.9 416.6L185.9 418.9L186.9 421.2L187.9 423.6L188.9 425.9L189.9 428.3L190.9 430.6L191.9 432.8L192.9 434.9L193.9 437.0L194.9 439.1L195.9 441.1L196.9 443.1L197.9 445.2L198.9 447.2L199.9 449.4L200.9 451.6L201.9 453.8L202.9 456.0L203.9 458.2L204.9 460.2L205.9 462.2L206.9 464.1L207.9 466.0L208.9 467.9L209.9 469.8L210.9 471.6L211.9 473.4L212.9 475.1L213.9 476.8L214.9 478.4L215.9 480.0L216.9 481.5L217.9 482.9L218.9 484.3L219.9 485.6L220.9 486.8L221.9 488.1L222.9 489.3L223.9 490.5L224.9 491.6L225.9 492.7L226.9 493.8L227.9 494.9L228.9 496.0L229.9 497.1L230.9 498.2L231.9 499.3L232.9 500.3L233.9 501.4L234.9 502.4L235.9 503.4L236.9 504.4L237.9 505.4L238.9 506.3L239.9 507.3L240.9 508.2L241.9 509.1L242.9 510.0L243.9 510.9L244.9 511.8L245.9 512.6L246.9 513.5L247.9 514.3L248.9 515.1L249.9 515.9L250.9 516.7L251.9 517.4L252.9 518.1L253.9 518.8L254.9 519.4L255.9 520.0L256.9 520.6L257.9 521.1L258.9 521.7L259.9 522.2L260.9 522.7L261.9 523.2L262.9 523.6L263.9 524.1L264.9 524.5L265.9 524.9L266.9 525.3L267.9 525.7L268.9 526.1L269.9 526.5L270.9 526.8L271.9 527.2L272.9 527.5L273.9 527.8L274.9 528.2L275.9 528.5L276.9 528.8L277.9 529.1L278.9 529.4L279.9 529.7L280.9 530.0L281.9 530.3L282.9 530.5L283.9 530.8L284.9 531.1L285.9 531.4L286.9 531.6L287.9 531.9L288.9 532.1L289.9 532.4L290.9 532.6L291.9 532.8L292.9 533.1L293.9 533.3L294.9 533.5L295.9 533.7L296.9 533.9L297.9 534.1L298.9 534.3L299.9 534.5L300.9 534.7L301.9 534.9L302.9 535.0L303.9 535.2L304.9 535.3L305.9 535.4L306.9 535.6L307.9 535.7L308.9 535.8L309.9 535.9L310.9 536.0L311.9 536.1L312.9 536.2L313.9 536.3L314.9 536.4L315.9 536.5L316.9 536.5L317.9 536.6L318.9 536.7L319.9 536.8L320.9 536.8L321.9 536.9L322.9 537.0L323.9 537.0L324.9 537.1L325.9 537.1L326.9 537.2L327.9 537.2L328.9 537.2L329.9 537.2L330.9 537.2L331.9 537.2L332.9 537.2L333.9 537.2L334.9 537.2L335.9 537.2L336.9 537.2L337.9 537.2L338.9 537.2L339.9 537.2L340.9 537.2L341.9 537.2L342.9 537.2L343.9 537.2L344.9 537.2L345.9 537.2L346.9 537.2L347.9 537.2L348.9 537.2L349.9 537.2L350.9 537.2L351.9 537.2L353.0 537.2" fill="none" stroke="#dc3030" stroke-width="1.40"/>
</g>
<path d="M134.9 346.9 L144.2 398.6 L139.9 397.6 L139.9 502.0 L138.9 530.5 L134.9 506.0 L130.2 529.7 L129.9 502.0 L129.9 397.6 L125.6 398.6 Z" fill="#10c810"/>
<line x1="58.9" y1="323.1" x2="353.0" y2="323.1" stroke="#111" stroke-width="2.6"/>
<line x1="353.0" y1="323.1" x2="353.0" y2="546.9" stroke="#111" stroke-width="2.6"/>
<line x1="58.9" y1="546.9" x2="353.0" y2="546.9" stroke="#111" stroke-width="2.6"/>
<line x1="58.9" y1="323.1" x2="58.9" y2="546.9" stroke="#111" stroke-width="2.4"/>
<line x1="58.9" y1="546.9" x2="58.9" y2="551.9" stroke="#111" stroke-width="1.8"/>
<line x1="117.7" y1="546.9" x2="117.7" y2="551.9" stroke="#111" stroke-width="1.8"/>
<line x1="176.5" y1="546.9" x2="176.5" y2="551.9" stroke="#111" stroke-width="1.8"/>
<line x1="235.4" y1="546.9" x2="235.4" y2="551.9" stroke="#111" stroke-width="1.8"/>
<line x1="294.2" y1="546.9" x2="294.2" y2="551.9" stroke="#111" stroke-width="1.8"/>
<line x1="353.0" y1="546.9" x2="353.0" y2="551.9" stroke="#111" stroke-width="1.8"/>
<line x1="88.3" y1="546.9" x2="88.3" y2="549.9" stroke="#111" stroke-width="1.8"/>
<line x1="147.1" y1="546.9" x2="147.1" y2="549.9" stroke="#111" stroke-width="1.8"/>
<line x1="206.0" y1="546.9" x2="206.0" y2="549.9" stroke="#111" stroke-width="1.8"/>
<line x1="264.8" y1="546.9" x2="264.8" y2="549.9" stroke="#111" stroke-width="1.8"/>
<line x1="323.6" y1="546.9" x2="323.6" y2="549.9" stroke="#111" stroke-width="1.8"/>
<line x1="58.9" y1="546.9" x2="54.4" y2="546.9" stroke="#111" stroke-width="1.8"/>
<line x1="58.9" y1="490.9" x2="54.4" y2="490.9" stroke="#111" stroke-width="1.8"/>
<line x1="58.9" y1="435.0" x2="54.4" y2="435.0" stroke="#111" stroke-width="1.8"/>
<line x1="58.9" y1="379.1" x2="54.4" y2="379.1" stroke="#111" stroke-width="1.8"/>
<line x1="58.9" y1="323.1" x2="54.4" y2="323.1" stroke="#111" stroke-width="1.8"/>
<line x1="58.9" y1="518.9" x2="56.4" y2="518.9" stroke="#111" stroke-width="1.8"/>
<line x1="58.9" y1="463.0" x2="56.4" y2="463.0" stroke="#111" stroke-width="1.8"/>
<line x1="58.9" y1="407.0" x2="56.4" y2="407.0" stroke="#111" stroke-width="1.8"/>
<line x1="58.9" y1="351.1" x2="56.4" y2="351.1" stroke="#111" stroke-width="1.8"/>
<text x="51.3" y="551.5" font-size="16.8" font-weight="bold" text-anchor="end" fill="#000" textLength="8.9" lengthAdjust="spacingAndGlyphs" >0</text>
<text x="51.3" y="495.6" font-size="16.8" font-weight="bold" text-anchor="end" fill="#000" textLength="17.6" lengthAdjust="spacingAndGlyphs" >10</text>
<text x="51.3" y="439.6" font-size="16.8" font-weight="bold" text-anchor="end" fill="#000" textLength="17.6" lengthAdjust="spacingAndGlyphs" >20</text>
<text x="51.3" y="383.7" font-size="16.8" font-weight="bold" text-anchor="end" fill="#000" textLength="17.6" lengthAdjust="spacingAndGlyphs" >30</text>
<text x="51.3" y="327.7" font-size="16.8" font-weight="bold" text-anchor="end" fill="#000" textLength="17.6" lengthAdjust="spacingAndGlyphs" >40</text>
<text x="58.9" y="567.2" font-size="16.0" font-weight="bold" text-anchor="middle" fill="#000" >450</text>
<text x="117.7" y="567.2" font-size="16.0" font-weight="bold" text-anchor="middle" fill="#000" >500</text>
<text x="176.5" y="567.2" font-size="16.0" font-weight="bold" text-anchor="middle" fill="#000" >550</text>
<text x="235.4" y="567.2" font-size="16.0" font-weight="bold" text-anchor="middle" fill="#000" >600</text>
<text x="294.2" y="567.2" font-size="16.0" font-weight="bold" text-anchor="middle" fill="#000" >650</text>
<text x="353.0" y="567.2" font-size="16.0" font-weight="bold" text-anchor="middle" fill="#000" >700</text>
<text x="143.3" y="595.3" font-size="16.0" font-weight="bold" text-anchor="start" fill="#000" textLength="123.7" lengthAdjust="spacingAndGlyphs" stroke="#000" stroke-width="0.25">Wavelength(nm)</text>
<g transform="translate(16.2 468.6) rotate(-90)">
<text x="0" y="0" font-size="16.0" font-weight="bold" fill="#000" stroke="#000" stroke-width="0.3">F/F<tspan font-size="10.5" dy="7.0">0</tspan></text>
</g>
<text x="75.3" y="353.5" font-size="18.5" font-weight="normal" text-anchor="start" fill="#000" textLength="21.6" lengthAdjust="spacingAndGlyphs" stroke="#000" stroke-width="0.5">(C)</text>
<text x="159.4" y="353.9" font-size="12.0" font-weight="bold" text-anchor="start" fill="#000" textLength="27.1" lengthAdjust="spacingAndGlyphs" stroke="#000" stroke-width="0.25">GSH</text>
<line x1="444.5" y1="323.9" x2="735.9" y2="323.9" stroke="#666" stroke-width="2.0"/>
<line x1="735.9" y1="323.9" x2="735.9" y2="543.6" stroke="#777" stroke-width="2.0"/>
<line x1="444.5" y1="543.6" x2="735.9" y2="543.6" stroke="#777" stroke-width="2.0"/>
<line x1="444.5" y1="323.9" x2="444.5" y2="543.6" stroke="#555" stroke-width="1.6"/>
<line x1="447.3" y1="543.6" x2="447.3" y2="548.1" stroke="#555" stroke-width="1.6"/>
<line x1="479.3" y1="543.6" x2="479.3" y2="548.1" stroke="#555" stroke-width="1.6"/>
<line x1="511.4" y1="543.6" x2="511.4" y2="548.1" stroke="#555" stroke-width="1.6"/>
<line x1="543.4" y1="543.6" x2="543.4" y2="548.1" stroke="#555" stroke-width="1.6"/>
<line x1="575.5" y1="543.6" x2="575.5" y2="548.1" stroke="#555" stroke-width="1.6"/>
<line x1="607.5" y1="543.6" x2="607.5" y2="548.1" stroke="#555" stroke-width="1.6"/>
<line x1="639.6" y1="543.6" x2="639.6" y2="548.1" stroke="#555" stroke-width="1.6"/>
<line x1="671.6" y1="543.6" x2="671.6" y2="548.1" stroke="#555" stroke-width="1.6"/>
<line x1="703.7" y1="543.6" x2="703.7" y2="548.1" stroke="#555" stroke-width="1.6"/>
<line x1="735.7" y1="543.6" x2="735.7" y2="548.1" stroke="#555" stroke-width="1.6"/>
<line x1="463.3" y1="543.6" x2="463.3" y2="546.1" stroke="#555" stroke-width="1.6"/>
<line x1="495.4" y1="543.6" x2="495.4" y2="546.1" stroke="#555" stroke-width="1.6"/>
<line x1="527.4" y1="543.6" x2="527.4" y2="546.1" stroke="#555" stroke-width="1.6"/>
<line x1="559.5" y1="543.6" x2="559.5" y2="546.1" stroke="#555" stroke-width="1.6"/>
<line x1="591.5" y1="543.6" x2="591.5" y2="546.1" stroke="#555" stroke-width="1.6"/>
<line x1="623.5" y1="543.6" x2="623.5" y2="546.1" stroke="#555" stroke-width="1.6"/>
<line x1="655.6" y1="543.6" x2="655.6" y2="546.1" stroke="#555" stroke-width="1.6"/>
<line x1="687.6" y1="543.6" x2="687.6" y2="546.1" stroke="#555" stroke-width="1.6"/>
<line x1="719.7" y1="543.6" x2="719.7" y2="546.1" stroke="#555" stroke-width="1.6"/>
<line x1="444.5" y1="543.6" x2="440.0" y2="543.6" stroke="#555" stroke-width="1.6"/>
<line x1="444.5" y1="499.7" x2="440.0" y2="499.7" stroke="#555" stroke-width="1.6"/>
<line x1="444.5" y1="455.7" x2="440.0" y2="455.7" stroke="#555" stroke-width="1.6"/>
<line x1="444.5" y1="411.8" x2="440.0" y2="411.8" stroke="#555" stroke-width="1.6"/>
<line x1="444.5" y1="367.8" x2="440.0" y2="367.8" stroke="#555" stroke-width="1.6"/>
<line x1="444.5" y1="323.9" x2="440.0" y2="323.9" stroke="#555" stroke-width="1.6"/>
<line x1="444.5" y1="521.6" x2="442.0" y2="521.6" stroke="#555" stroke-width="1.6"/>
<line x1="444.5" y1="477.7" x2="442.0" y2="477.7" stroke="#555" stroke-width="1.6"/>
<line x1="444.5" y1="433.8" x2="442.0" y2="433.8" stroke="#555" stroke-width="1.6"/>
<line x1="444.5" y1="389.8" x2="442.0" y2="389.8" stroke="#555" stroke-width="1.6"/>
<line x1="444.5" y1="345.9" x2="442.0" y2="345.9" stroke="#555" stroke-width="1.6"/>
<text x="437.0" y="548.0" font-size="16.0" font-weight="bold" text-anchor="end" fill="#000" >0</text>
<text x="437.0" y="504.1" font-size="16.0" font-weight="bold" text-anchor="end" fill="#000" >10</text>
<text x="437.0" y="460.1" font-size="16.0" font-weight="bold" text-anchor="end" fill="#000" >20</text>
<text x="437.0" y="416.2" font-size="16.0" font-weight="bold" text-anchor="end" fill="#000" >30</text>
<text x="437.0" y="372.2" font-size="16.0" font-weight="bold" text-anchor="end" fill="#000" >40</text>
<text x="437.0" y="328.3" font-size="16.0" font-weight="bold" text-anchor="end" fill="#000" >50</text>
<text x="447.3" y="563.3" font-size="16.0" font-weight="bold" text-anchor="middle" fill="#000" >0</text>
<text x="479.3" y="563.3" font-size="16.0" font-weight="bold" text-anchor="middle" fill="#000" >5</text>
<text x="511.4" y="563.3" font-size="16.0" font-weight="bold" text-anchor="middle" fill="#000" >10</text>
<text x="543.4" y="563.3" font-size="16.0" font-weight="bold" text-anchor="middle" fill="#000" >15</text>
<text x="575.5" y="563.3" font-size="16.0" font-weight="bold" text-anchor="middle" fill="#000" >20</text>
<text x="607.5" y="563.3" font-size="16.0" font-weight="bold" text-anchor="middle" fill="#000" >25</text>
<text x="639.6" y="563.3" font-size="16.0" font-weight="bold" text-anchor="middle" fill="#000" >30</text>
<text x="671.6" y="563.3" font-size="16.0" font-weight="bold" text-anchor="middle" fill="#000" >35</text>
<text x="703.7" y="563.3" font-size="16.0" font-weight="bold" text-anchor="middle" fill="#000" >40</text>
<text x="735.7" y="563.3" font-size="16.0" font-weight="bold" text-anchor="middle" fill="#000" >45</text>
<text x="548.8" y="591.7" font-size="16" font-weight="bold" fill="#000" stroke="#000" stroke-width="0.3">Thiols (<tspan font-weight="normal" font-family="Liberation Serif, serif" font-size="17">&#956;</tspan>M)</text>
<g transform="translate(409.0 458.9) rotate(-90)">
<text x="0" y="0" font-size="16.0" font-weight="bold" fill="#000" stroke="#000" stroke-width="0.3">F/F<tspan font-size="10.5" dy="7.0">0</tspan></text>
</g>
<text x="461.2" y="356.3" font-size="18.5" font-weight="normal" text-anchor="start" fill="#000" textLength="23.6" lengthAdjust="spacingAndGlyphs" stroke="#000" stroke-width="0.5">(D)</text>
<polygon points="454.10,525.70 454.93,527.56 456.95,527.77 455.44,529.14 455.86,531.13 454.10,530.11 452.34,531.13 452.76,529.14 451.25,527.77 453.27,527.56" fill="#3636e0"/>
<polygon points="468.80,519.80 469.63,521.66 471.65,521.87 470.14,523.24 470.56,525.23 468.80,524.21 467.04,525.23 467.46,523.24 465.95,521.87 467.97,521.66" fill="#3636e0"/>
<polygon points="490.30,507.00 491.13,508.86 493.15,509.07 491.64,510.44 492.06,512.43 490.30,511.41 488.54,512.43 488.96,510.44 487.45,509.07 489.47,508.86" fill="#3636e0"/>
<polygon points="511.70,491.40 512.53,493.26 514.55,493.47 513.04,494.84 513.46,496.83 511.70,495.81 509.94,496.83 510.36,494.84 508.85,493.47 510.87,493.26" fill="#3636e0"/>
<polygon points="533.00,461.70 533.83,463.56 535.85,463.77 534.34,465.14 534.76,467.13 533.00,466.11 531.24,467.13 531.66,465.14 530.15,463.77 532.17,463.56" fill="#3636e0"/>
<polygon points="554.50,440.70 555.33,442.56 557.35,442.77 555.84,444.14 556.26,446.13 554.50,445.11 552.74,446.13 553.16,444.14 551.65,442.77 553.67,442.56" fill="#3636e0"/>
<polygon points="575.80,419.40 576.63,421.26 578.65,421.47 577.14,422.84 577.56,424.83 575.80,423.81 574.04,424.83 574.46,422.84 572.95,421.47 574.97,421.26" fill="#3636e0"/>
<polygon points="597.10,388.20 597.93,390.06 599.95,390.27 598.44,391.64 598.86,393.63 597.10,392.61 595.34,393.63 595.76,391.64 594.25,390.27 596.27,390.06" fill="#3636e0"/>
<polygon points="618.60,361.70 619.43,363.56 621.45,363.77 619.94,365.14 620.36,367.13 618.60,366.11 616.84,367.13 617.26,365.14 615.75,363.77 617.77,363.56" fill="#3636e0"/>
<polygon points="640.00,343.80 640.83,345.66 642.85,345.87 641.34,347.24 641.76,349.23 640.00,348.21 638.24,349.23 638.66,347.24 637.15,345.87 639.17,345.66" fill="#3636e0"/>
<polygon points="661.30,333.90 662.13,335.76 664.15,335.97 662.64,337.34 663.06,339.33 661.30,338.31 659.54,339.33 659.96,337.34 658.45,335.97 660.47,335.76" fill="#3636e0"/>
<polygon points="682.60,330.40 683.43,332.26 685.45,332.47 683.94,333.84 684.36,335.83 682.60,334.81 680.84,335.83 681.26,333.84 679.75,332.47 681.77,332.26" fill="#3636e0"/>
<polygon points="704.00,329.70 704.83,331.56 706.85,331.77 705.34,333.14 705.76,335.13 704.00,334.11 702.24,335.13 702.66,333.14 701.15,331.77 703.17,331.56" fill="#3636e0"/>
<path d="M465.05 524.70 L467.90 527.55 L470.75 524.70 Z" fill="#fff4f4" stroke="#dc2222" stroke-width="1.1" stroke-linejoin="round"/>
<path d="M464.50 525.00 L467.90 521.30 L471.30 525.00 Z" fill="#dc2222"/>
<path d="M485.95 515.00 L488.80 517.85 L491.65 515.00 Z" fill="#fff4f4" stroke="#dc2222" stroke-width="1.1" stroke-linejoin="round"/>
<path d="M485.40 515.30 L488.80 511.60 L492.20 515.30 Z" fill="#dc2222"/>
<path d="M506.55 502.00 L509.40 504.85 L512.25 502.00 Z" fill="#fff4f4" stroke="#dc2222" stroke-width="1.1" stroke-linejoin="round"/>
<path d="M506.00 502.30 L509.40 498.60 L512.80 502.30 Z" fill="#dc2222"/>
<path d="M526.95 475.30 L529.80 478.15 L532.65 475.30 Z" fill="#fff4f4" stroke="#dc2222" stroke-width="1.1" stroke-linejoin="round"/>
<path d="M526.40 475.60 L529.80 471.90 L533.20 475.60 Z" fill="#dc2222"/>
<path d="M547.25 453.80 L550.10 456.65 L552.95 453.80 Z" fill="#fff4f4" stroke="#dc2222" stroke-width="1.1" stroke-linejoin="round"/>
<path d="M546.70 454.10 L550.10 450.40 L553.50 454.10 Z" fill="#dc2222"/>
<path d="M567.75 431.00 L570.60 433.85 L573.45 431.00 Z" fill="#fff4f4" stroke="#dc2222" stroke-width="1.1" stroke-linejoin="round"/>
<path d="M567.20 431.30 L570.60 427.60 L574.00 431.30 Z" fill="#dc2222"/>
<path d="M588.25 412.60 L591.10 415.45 L593.95 412.60 Z" fill="#fff4f4" stroke="#dc2222" stroke-width="1.1" stroke-linejoin="round"/>
<path d="M587.70 412.90 L591.10 409.20 L594.50 412.90 Z" fill="#dc2222"/>
<path d="M609.35 393.00 L612.20 395.85 L615.05 393.00 Z" fill="#fff4f4" stroke="#dc2222" stroke-width="1.1" stroke-linejoin="round"/>
<path d="M608.80 393.30 L612.20 389.60 L615.60 393.30 Z" fill="#dc2222"/>
<path d="M629.65 375.30 L632.50 378.15 L635.35 375.30 Z" fill="#fff4f4" stroke="#dc2222" stroke-width="1.1" stroke-linejoin="round"/>
<path d="M629.10 375.60 L632.50 371.90 L635.90 375.60 Z" fill="#dc2222"/>
<path d="M650.05 362.60 L652.90 365.45 L655.75 362.60 Z" fill="#fff4f4" stroke="#dc2222" stroke-width="1.1" stroke-linejoin="round"/>
<path d="M649.50 362.90 L652.90 359.20 L656.30 362.90 Z" fill="#dc2222"/>
<path d="M670.35 360.10 L673.20 362.95 L676.05 360.10 Z" fill="#fff4f4" stroke="#dc2222" stroke-width="1.1" stroke-linejoin="round"/>
<path d="M669.80 360.40 L673.20 356.70 L676.60 360.40 Z" fill="#dc2222"/>
<path d="M690.65 358.70 L693.50 361.55 L696.35 358.70 Z" fill="#fff4f4" stroke="#dc2222" stroke-width="1.1" stroke-linejoin="round"/>
<path d="M690.10 359.00 L693.50 355.30 L696.90 359.00 Z" fill="#dc2222"/>
<path d="M698.75 358.50 L701.60 361.35 L704.45 358.50 Z" fill="#fff4f4" stroke="#dc2222" stroke-width="1.1" stroke-linejoin="round"/>
<path d="M698.20 358.80 L701.60 355.10 L705.00 358.80 Z" fill="#dc2222"/>
<path d="M466.01 528.20 L471.90 531.30 L466.01 534.40 Z" fill="#9cef9c"/>
<path d="M466.01 528.20 L469.88 531.30 L466.01 534.40 Z" fill="#1fd52f"/>
<path d="M486.41 523.10 L492.30 526.20 L486.41 529.30 Z" fill="#9cef9c"/>
<path d="M486.41 523.10 L490.28 526.20 L486.41 529.30 Z" fill="#1fd52f"/>
<path d="M507.01 504.60 L512.90 507.70 L507.01 510.80 Z" fill="#9cef9c"/>
<path d="M507.01 504.60 L510.88 507.70 L507.01 510.80 Z" fill="#1fd52f"/>
<path d="M527.31 494.90 L533.20 498.00 L527.31 501.10 Z" fill="#9cef9c"/>
<path d="M527.31 494.90 L531.19 498.00 L527.31 501.10 Z" fill="#1fd52f"/>
<path d="M547.91 475.50 L553.80 478.60 L547.91 481.70 Z" fill="#9cef9c"/>
<path d="M547.91 475.50 L551.79 478.60 L547.91 481.70 Z" fill="#1fd52f"/>
<path d="M568.51 445.00 L574.40 448.10 L568.51 451.20 Z" fill="#9cef9c"/>
<path d="M568.51 445.00 L572.38 448.10 L568.51 451.20 Z" fill="#1fd52f"/>
<path d="M588.91 422.40 L594.80 425.50 L588.91 428.60 Z" fill="#9cef9c"/>
<path d="M588.91 422.40 L592.79 425.50 L588.91 428.60 Z" fill="#1fd52f"/>
<path d="M609.51 408.90 L615.40 412.00 L609.51 415.10 Z" fill="#9cef9c"/>
<path d="M609.51 408.90 L613.38 412.00 L609.51 415.10 Z" fill="#1fd52f"/>
<path d="M630.11 392.00 L636.00 395.10 L630.11 398.20 Z" fill="#9cef9c"/>
<path d="M630.11 392.00 L633.99 395.10 L630.11 398.20 Z" fill="#1fd52f"/>
<path d="M650.41 384.30 L656.30 387.40 L650.41 390.50 Z" fill="#9cef9c"/>
<path d="M650.41 384.30 L654.29 387.40 L650.41 390.50 Z" fill="#1fd52f"/>
<path d="M670.91 380.00 L676.80 383.10 L670.91 386.20 Z" fill="#9cef9c"/>
<path d="M670.91 380.00 L674.79 383.10 L670.91 386.20 Z" fill="#1fd52f"/>
<path d="M696.41 379.50 L702.30 382.60 L696.41 385.70 Z" fill="#9cef9c"/>
<path d="M696.41 379.50 L700.29 382.60 L696.41 385.70 Z" fill="#1fd52f"/>
<text x="711.4" y="337.1" font-size="11.0" font-weight="bold" text-anchor="start" fill="#1c1cd0" textLength="20.7" lengthAdjust="spacingAndGlyphs" stroke="#1c1cd0" stroke-width="0.25">Hcy</text>
<text x="710.8" y="361.4" font-size="11.0" font-weight="bold" text-anchor="start" fill="#e02020" textLength="20.2" lengthAdjust="spacingAndGlyphs" stroke="#e02020" stroke-width="0.25">Cys</text>
<text x="709.4" y="384.8" font-size="11.0" font-weight="bold" text-anchor="start" fill="#20dd20" textLength="24.3" lengthAdjust="spacingAndGlyphs" stroke="#20dd20" stroke-width="0.25">GSH</text>
</svg>
</body></html>
